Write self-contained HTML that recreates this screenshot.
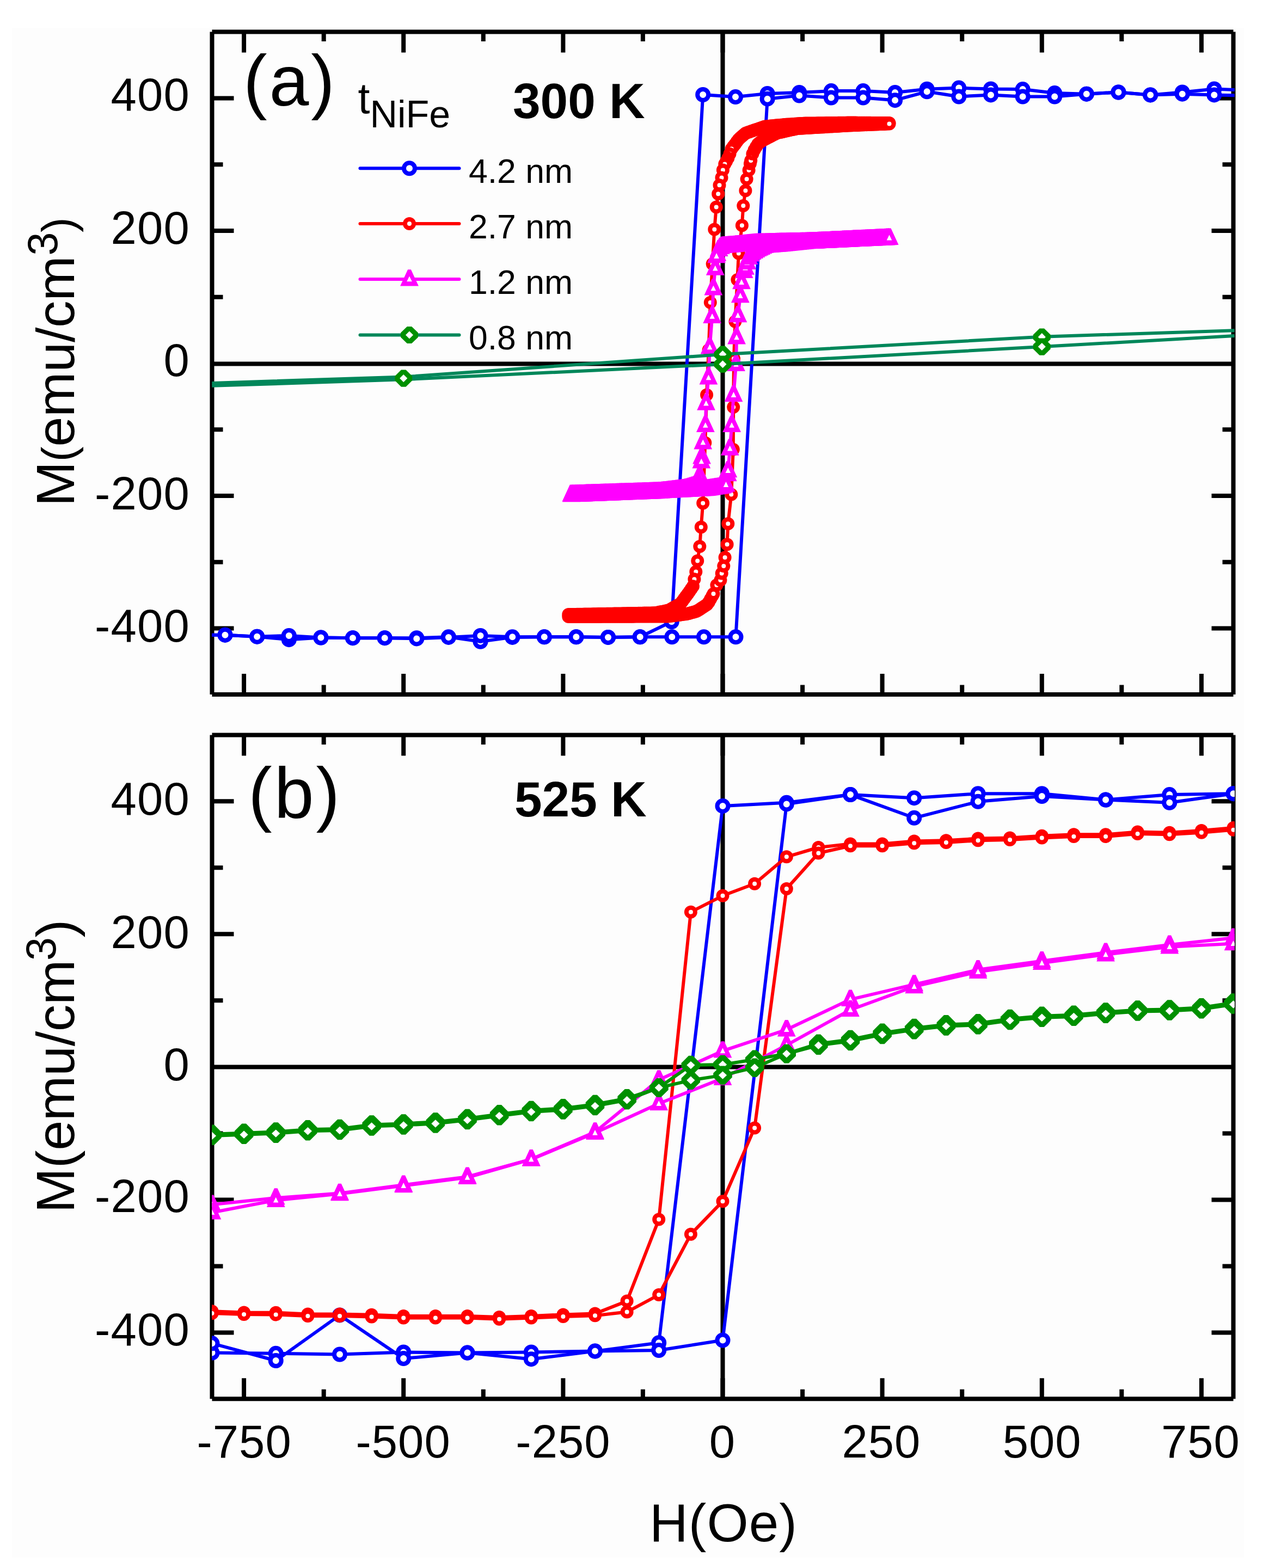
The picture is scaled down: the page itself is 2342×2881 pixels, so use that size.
<!DOCTYPE html><html><head><meta charset="utf-8"><style>
html,body{margin:0;padding:0;background:#fff;width:2342px;height:2881px;overflow:hidden;}
svg{display:block;}
text{font-family:"Liberation Sans",Arial,sans-serif;fill:#000;}
</style></head><body><svg width="2342" height="2881" viewBox="0 0 2342 2881"><rect x="22" y="51" width="2263" height="2811" fill="#fdfdfd"/>
<path d="M389.5,58.5H2265.5M2265.5,58.5V1276.1M2265.5,1276.1H389.5M389.5,1276.1V58.5" fill="none" stroke="#000" stroke-width="8" stroke-linecap="butt"/>
<line x1="389.5" y1="668.5" x2="2265.5" y2="668.5" stroke="#000" stroke-width="8"/>
<line x1="1327.5" y1="58.5" x2="1327.5" y2="1276.1" stroke="#000" stroke-width="8"/>
<path d="M448.1,58.5V96.5M448.1,1276.1V1238.1M594.7,58.5V76M594.7,1276.1V1258.6M741.2,58.5V96.5M741.2,1276.1V1238.1M887.8,58.5V76M887.8,1276.1V1258.6M1034.4,58.5V96.5M1034.4,1276.1V1238.1M1180.9,58.5V76M1180.9,1276.1V1258.6M1327.5,58.5V96.5M1327.5,1276.1V1238.1M1474.1,58.5V76M1474.1,1276.1V1258.6M1620.6,58.5V96.5M1620.6,1276.1V1238.1M1767.2,58.5V76M1767.2,1276.1V1258.6M1913.8,58.5V96.5M1913.8,1276.1V1238.1M2060.3,58.5V76M2060.3,1276.1V1258.6M2206.9,58.5V96.5M2206.9,1276.1V1238.1M389.5,1154.5H429.5M2265.5,1154.5H2225.5M389.5,1032.8H409.5M2265.5,1032.8H2245.5M389.5,911H429.5M2265.5,911H2225.5M389.5,789.2H409.5M2265.5,789.2H2245.5M389.5,545.8H409.5M2265.5,545.8H2245.5M389.5,424H429.5M2265.5,424H2225.5M389.5,302.2H409.5M2265.5,302.2H2245.5M389.5,180.5H429.5M2265.5,180.5H2225.5" stroke="#000" stroke-width="8" fill="none"/>
<clipPath id="ca"><rect x="389.3" y="56.2" width="1878.5" height="1222.2"/></clipPath>
<g clip-path="url(#ca)">
<polyline points="2288.9,165.9 2230.3,163.5 2171.7,169.5 2113.1,174.4 2054.4,169.5 1995.8,172.7 1937.2,171.1 1878.6,164.1 1820,163.5 1761.3,161.6 1702.7,163.7 1644.1,170 1585.5,167.1 1526.8,167.1 1468.2,170 1409.6,172 1351,178.1 1291.2,174 1233.7,1142.3 1175.7,1170.3 1117,1170.9 1058.4,1170.3 999.8,1170.3 941.2,1170.9 882.5,1178.8 823.9,1170.3 765.3,1172.2 706.7,1172.2 648,1172.2 589.4,1171.5 530.8,1175.2 472.2,1169.7 413.5,1166.7 354.9,1166.7" fill="none" stroke="#0000ff" stroke-width="6" stroke-linejoin="round"/>
<polyline points="354.9,1166.7 413.5,1166.7 472.2,1169.7 530.8,1167.9 589.4,1171.5 648,1172.2 706.7,1172.2 765.3,1173.4 823.9,1170.9 882.5,1167.9 941.2,1170.3 999.8,1170.3 1058.4,1170.3 1117,1170.9 1175.7,1170.3 1234.3,1170.3 1292.9,1170.3 1351.5,1170.3 1409.6,181.7 1468.2,175.6 1526.8,179.5 1585.5,179.5 1644.1,184.2 1702.7,168.3 1761.3,177.5 1820,174.4 1878.6,177.5 1937.2,177.5 1995.8,172.7 2054.4,169.5 2113.1,174.4 2171.7,172.7 2230.3,174.4 2288.9,175.6" fill="none" stroke="#0000ff" stroke-width="6" stroke-linejoin="round"/>
<circle cx="2288.9" cy="165.9" r="10" fill="#fff" stroke="#0000ff" stroke-width="8"/>
<circle cx="2230.3" cy="163.5" r="10" fill="#fff" stroke="#0000ff" stroke-width="8"/>
<circle cx="2171.7" cy="169.5" r="10" fill="#fff" stroke="#0000ff" stroke-width="8"/>
<circle cx="2113.1" cy="174.4" r="10" fill="#fff" stroke="#0000ff" stroke-width="8"/>
<circle cx="2054.4" cy="169.5" r="10" fill="#fff" stroke="#0000ff" stroke-width="8"/>
<circle cx="1995.8" cy="172.7" r="10" fill="#fff" stroke="#0000ff" stroke-width="8"/>
<circle cx="1937.2" cy="171.1" r="10" fill="#fff" stroke="#0000ff" stroke-width="8"/>
<circle cx="1878.6" cy="164.1" r="10" fill="#fff" stroke="#0000ff" stroke-width="8"/>
<circle cx="1820" cy="163.5" r="10" fill="#fff" stroke="#0000ff" stroke-width="8"/>
<circle cx="1761.3" cy="161.6" r="10" fill="#fff" stroke="#0000ff" stroke-width="8"/>
<circle cx="1702.7" cy="163.7" r="10" fill="#fff" stroke="#0000ff" stroke-width="8"/>
<circle cx="1644.1" cy="170" r="10" fill="#fff" stroke="#0000ff" stroke-width="8"/>
<circle cx="1585.5" cy="167.1" r="10" fill="#fff" stroke="#0000ff" stroke-width="8"/>
<circle cx="1526.8" cy="167.1" r="10" fill="#fff" stroke="#0000ff" stroke-width="8"/>
<circle cx="1468.2" cy="170" r="10" fill="#fff" stroke="#0000ff" stroke-width="8"/>
<circle cx="1409.6" cy="172" r="10" fill="#fff" stroke="#0000ff" stroke-width="8"/>
<circle cx="1351" cy="178.1" r="10" fill="#fff" stroke="#0000ff" stroke-width="8"/>
<circle cx="1291.2" cy="174" r="10" fill="#fff" stroke="#0000ff" stroke-width="8"/>
<circle cx="1233.7" cy="1142.3" r="10" fill="#fff" stroke="#0000ff" stroke-width="8"/>
<circle cx="1175.7" cy="1170.3" r="10" fill="#fff" stroke="#0000ff" stroke-width="8"/>
<circle cx="1117" cy="1170.9" r="10" fill="#fff" stroke="#0000ff" stroke-width="8"/>
<circle cx="1058.4" cy="1170.3" r="10" fill="#fff" stroke="#0000ff" stroke-width="8"/>
<circle cx="999.8" cy="1170.3" r="10" fill="#fff" stroke="#0000ff" stroke-width="8"/>
<circle cx="941.2" cy="1170.9" r="10" fill="#fff" stroke="#0000ff" stroke-width="8"/>
<circle cx="882.5" cy="1178.8" r="10" fill="#fff" stroke="#0000ff" stroke-width="8"/>
<circle cx="823.9" cy="1170.3" r="10" fill="#fff" stroke="#0000ff" stroke-width="8"/>
<circle cx="765.3" cy="1172.2" r="10" fill="#fff" stroke="#0000ff" stroke-width="8"/>
<circle cx="706.7" cy="1172.2" r="10" fill="#fff" stroke="#0000ff" stroke-width="8"/>
<circle cx="648" cy="1172.2" r="10" fill="#fff" stroke="#0000ff" stroke-width="8"/>
<circle cx="589.4" cy="1171.5" r="10" fill="#fff" stroke="#0000ff" stroke-width="8"/>
<circle cx="530.8" cy="1175.2" r="10" fill="#fff" stroke="#0000ff" stroke-width="8"/>
<circle cx="472.2" cy="1169.7" r="10" fill="#fff" stroke="#0000ff" stroke-width="8"/>
<circle cx="413.5" cy="1166.7" r="10" fill="#fff" stroke="#0000ff" stroke-width="8"/>
<circle cx="354.9" cy="1166.7" r="10" fill="#fff" stroke="#0000ff" stroke-width="8"/>
<circle cx="354.9" cy="1166.7" r="10" fill="#fff" stroke="#0000ff" stroke-width="8"/>
<circle cx="413.5" cy="1166.7" r="10" fill="#fff" stroke="#0000ff" stroke-width="8"/>
<circle cx="472.2" cy="1169.7" r="10" fill="#fff" stroke="#0000ff" stroke-width="8"/>
<circle cx="530.8" cy="1167.9" r="10" fill="#fff" stroke="#0000ff" stroke-width="8"/>
<circle cx="589.4" cy="1171.5" r="10" fill="#fff" stroke="#0000ff" stroke-width="8"/>
<circle cx="648" cy="1172.2" r="10" fill="#fff" stroke="#0000ff" stroke-width="8"/>
<circle cx="706.7" cy="1172.2" r="10" fill="#fff" stroke="#0000ff" stroke-width="8"/>
<circle cx="765.3" cy="1173.4" r="10" fill="#fff" stroke="#0000ff" stroke-width="8"/>
<circle cx="823.9" cy="1170.9" r="10" fill="#fff" stroke="#0000ff" stroke-width="8"/>
<circle cx="882.5" cy="1167.9" r="10" fill="#fff" stroke="#0000ff" stroke-width="8"/>
<circle cx="941.2" cy="1170.3" r="10" fill="#fff" stroke="#0000ff" stroke-width="8"/>
<circle cx="999.8" cy="1170.3" r="10" fill="#fff" stroke="#0000ff" stroke-width="8"/>
<circle cx="1058.4" cy="1170.3" r="10" fill="#fff" stroke="#0000ff" stroke-width="8"/>
<circle cx="1117" cy="1170.9" r="10" fill="#fff" stroke="#0000ff" stroke-width="8"/>
<circle cx="1175.7" cy="1170.3" r="10" fill="#fff" stroke="#0000ff" stroke-width="8"/>
<circle cx="1234.3" cy="1170.3" r="10" fill="#fff" stroke="#0000ff" stroke-width="8"/>
<circle cx="1292.9" cy="1170.3" r="10" fill="#fff" stroke="#0000ff" stroke-width="8"/>
<circle cx="1351.5" cy="1170.3" r="10" fill="#fff" stroke="#0000ff" stroke-width="8"/>
<circle cx="1409.6" cy="181.7" r="10" fill="#fff" stroke="#0000ff" stroke-width="8"/>
<circle cx="1468.2" cy="175.6" r="10" fill="#fff" stroke="#0000ff" stroke-width="8"/>
<circle cx="1526.8" cy="179.5" r="10" fill="#fff" stroke="#0000ff" stroke-width="8"/>
<circle cx="1585.5" cy="179.5" r="10" fill="#fff" stroke="#0000ff" stroke-width="8"/>
<circle cx="1644.1" cy="184.2" r="10" fill="#fff" stroke="#0000ff" stroke-width="8"/>
<circle cx="1702.7" cy="168.3" r="10" fill="#fff" stroke="#0000ff" stroke-width="8"/>
<circle cx="1761.3" cy="177.5" r="10" fill="#fff" stroke="#0000ff" stroke-width="8"/>
<circle cx="1820" cy="174.4" r="10" fill="#fff" stroke="#0000ff" stroke-width="8"/>
<circle cx="1878.6" cy="177.5" r="10" fill="#fff" stroke="#0000ff" stroke-width="8"/>
<circle cx="1937.2" cy="177.5" r="10" fill="#fff" stroke="#0000ff" stroke-width="8"/>
<circle cx="1995.8" cy="172.7" r="10" fill="#fff" stroke="#0000ff" stroke-width="8"/>
<circle cx="2054.4" cy="169.5" r="10" fill="#fff" stroke="#0000ff" stroke-width="8"/>
<circle cx="2113.1" cy="174.4" r="10" fill="#fff" stroke="#0000ff" stroke-width="8"/>
<circle cx="2171.7" cy="172.7" r="10" fill="#fff" stroke="#0000ff" stroke-width="8"/>
<circle cx="2230.3" cy="174.4" r="10" fill="#fff" stroke="#0000ff" stroke-width="8"/>
<circle cx="2288.9" cy="175.6" r="10" fill="#fff" stroke="#0000ff" stroke-width="8"/>
<polyline points="1633.5,226.1 1630.3,226.1 1627.1,226.1 1623.9,226.1 1620.6,226 1617.4,226 1614.2,226 1611,226 1607.8,225.9 1604.5,225.9 1601.3,225.9 1598.1,225.8 1594.9,225.8 1591.7,225.8 1588.4,225.8 1585.2,225.7 1582,225.7 1578.8,225.7 1575.6,225.7 1572.4,225.6 1569.1,225.6 1565.9,225.6 1562.7,225.6 1559.5,225.6 1556.3,225.6 1553,225.7 1549.8,225.7 1546.6,225.7 1543.4,225.8 1540.2,225.8 1536.9,225.9 1533.7,225.9 1530.5,225.9 1527.3,226 1524.1,226 1520.8,226.1 1517.6,226.1 1514.4,226.2 1511.2,226.2 1508,226.2 1504.7,226.3 1501.5,226.3 1498.3,226.4 1495.1,226.4 1491.9,226.4 1488.6,226.5 1485.4,226.5 1482.2,226.6 1479,226.6 1475.8,226.7 1472.5,226.9 1469.3,227.1 1466.1,227.3 1462.9,227.5 1459.7,227.7 1456.4,227.9 1453.2,228.2 1450,228.4 1446.8,228.6 1443.6,228.8 1440.3,229 1437.1,229.4 1433.9,229.7 1430.7,230 1427.5,230.3 1424.3,230.6 1421,230.9 1417.8,231.2 1414.6,231.5 1411.4,231.9 1408.2,232.2 1404.9,232.5 1401.7,233.6 1398.5,234.7 1395.3,235.8 1392.1,236.9 1388.8,238 1385.6,239.1 1382.4,240.2 1379.2,241.3 1376,242.4 1372.7,243.5 1369.5,244.7 1366.3,247.5 1363.1,250.3 1359.9,253.1 1356.6,256.3 1353.4,260.6 1350.2,264.9 1347,269.1 1343.8,273.4 1340.5,282.8 1337.3,290.4 1334.1,296.4 1331.3,301.6 1327.9,312.5 1325.5,326.4 1321.5,340.2 1319.2,356.3 1315.7,380.5 1312.3,421.4 1308.7,484.9 1304.8,555.7 1301.7,643.1 1298.1,725.5 1295.3,813.6 1291.2,924.6 1287.8,968.5 1285.3,1004.1 1281.2,1030.4 1278.3,1050.4 1275.4,1064.3 1272.9,1077.3 1269.7,1082 1266.5,1086.7 1263.3,1091.3 1260.1,1095.6 1256.8,1100 1253.6,1104.4 1250.4,1108.7 1247.2,1110.7 1244,1112.5 1240.7,1114.3 1237.5,1116.1 1234.3,1117.9 1231.1,1119.7 1227.9,1121.5 1224.6,1122.1 1221.4,1122.8 1218.2,1123.4 1215,1124 1211.8,1124.6 1208.5,1125.3 1205.3,1125.9 1202.1,1126.3 1198.9,1126.3 1195.7,1126.4 1192.4,1126.5 1189.2,1126.5 1186,1126.6 1182.8,1126.6 1179.6,1126.7 1176.3,1126.7 1173.1,1126.8 1169.9,1126.9 1166.7,1126.9 1163.5,1127 1160.2,1127 1157,1127.1 1153.8,1127.1 1150.6,1127.2 1147.4,1127.3 1144.1,1127.3 1140.9,1127.4 1137.7,1127.4 1134.5,1127.5 1131.3,1127.6 1128.1,1127.6 1124.8,1127.7 1121.6,1127.7 1118.4,1127.8 1115.2,1127.8 1112,1127.9 1108.7,1128 1105.5,1128 1102.3,1128.1 1099.1,1128.1 1095.9,1128.2 1092.6,1128.2 1089.4,1128.3 1086.2,1128.4 1083,1128.4 1079.8,1128.5 1076.5,1128.5 1073.3,1128.6 1070.1,1128.7 1066.9,1128.7 1063.7,1128.8 1060.4,1128.8 1057.2,1128.9 1054,1128.9 1050.8,1129 1047.6,1129.1 1044.3,1129.1" fill="none" stroke="#ff0000" stroke-width="6" stroke-linejoin="round"/>
<polyline points="1044.3,1133 1047.6,1133 1050.8,1133 1054,1133 1057.2,1133 1060.4,1133 1063.7,1133 1066.9,1133 1070.1,1133 1073.3,1132.9 1076.5,1132.9 1079.8,1132.9 1083,1132.9 1086.2,1132.9 1089.4,1132.9 1092.6,1132.9 1095.9,1132.9 1099.1,1132.9 1102.3,1132.9 1105.5,1132.8 1108.7,1132.8 1112,1132.8 1115.2,1132.8 1118.4,1132.8 1121.6,1132.8 1124.8,1132.8 1128.1,1132.8 1131.3,1132.8 1134.5,1132.8 1137.7,1132.7 1140.9,1132.7 1144.1,1132.7 1147.4,1132.7 1150.6,1132.7 1153.8,1132.7 1157,1132.7 1160.2,1132.7 1163.5,1132.7 1166.7,1132.6 1169.9,1132.6 1173.1,1132.6 1176.3,1132.6 1179.6,1132.6 1182.8,1132.6 1186,1132.6 1189.2,1132.6 1192.4,1132.6 1195.7,1132.6 1198.9,1132.6 1202.1,1132.6 1205.3,1132.6 1208.5,1132.6 1211.8,1132.6 1215,1132.6 1218.2,1132.6 1221.4,1132.6 1224.6,1132.6 1227.9,1132.4 1231.1,1132 1234.3,1131.6 1237.5,1131.2 1240.7,1130.7 1244,1130.3 1247.2,1129.9 1250.4,1129.5 1253.6,1129 1256.8,1128.6 1260.1,1128.2 1263.3,1127.6 1266.5,1126.7 1269.7,1125.8 1272.9,1124.9 1276.2,1124 1279.4,1123.1 1282.6,1121.3 1285.8,1119.2 1289,1117.1 1292.2,1114.9 1295.5,1112.8 1298.7,1110.7 1301.9,1106.6 1305.1,1100.7 1308.3,1094.9 1310.5,1090.9 1316.4,1075.1 1323.4,1065.9 1325.7,1053.6 1329.3,1040.1 1331.6,1024.2 1335.6,1000.2 1337.3,962.3 1343.3,908.6 1346.8,825.8 1347.2,747.9 1348,659 1350.4,590.8 1354.4,514.1 1356.8,465.4 1362.9,414.3 1365.3,377.9 1369.4,350.3 1371.6,328.9 1375.6,312.8 1377.9,300.7 1379.2,294.9 1382.4,282.8 1385.6,275.5 1388.8,270 1392.1,264.7 1395.3,261.9 1398.5,259.6 1401.7,257.6 1404.9,255.9 1408.2,254.3 1411.4,252.6 1414.6,250.9 1417.8,249.2 1421,247.6 1424.3,245.9 1427.5,244.3 1430.7,243.6 1433.9,242.9 1437.1,242.2 1440.3,241.5 1443.6,240.8 1446.8,240 1450,239.3 1453.2,238.6 1456.4,237.9 1459.7,237.2 1462.9,236.5 1466.1,236 1469.3,235.8 1472.5,235.7 1475.8,235.5 1479,235.3 1482.2,235.1 1485.4,234.9 1488.6,234.7 1491.9,234.5 1495.1,234.3 1498.3,234.1 1501.5,234 1504.7,233.8 1508,233.6 1511.2,233.4 1514.4,233.2 1517.6,233 1520.8,232.8 1524.1,232.6 1527.3,232.5 1530.5,232.3 1533.7,232.1 1536.9,231.9 1540.2,231.7 1543.4,231.5 1546.6,231.3 1549.8,231.1 1553,230.9 1556.3,230.8 1559.5,230.6 1562.7,230.4 1565.9,230.3 1569.1,230.1 1572.4,230 1575.6,229.9 1578.8,229.7 1582,229.6 1585.2,229.5 1588.4,229.3 1591.7,229.2 1594.9,229.1 1598.1,228.9 1601.3,228.8 1604.5,228.7 1607.8,228.5 1611,228.4 1614.2,228.3 1617.4,228.1 1620.6,228 1623.9,227.9 1627.1,227.7 1630.3,227.6 1633.5,227.5" fill="none" stroke="#ff0000" stroke-width="6" stroke-linejoin="round"/>
<circle cx="1633.5" cy="226.1" r="8" fill="#fff" stroke="#ff0000" stroke-width="8"/>
<circle cx="1630.3" cy="226.1" r="8" fill="#fff" stroke="#ff0000" stroke-width="8"/>
<circle cx="1627.1" cy="226.1" r="8" fill="#fff" stroke="#ff0000" stroke-width="8"/>
<circle cx="1623.9" cy="226.1" r="8" fill="#fff" stroke="#ff0000" stroke-width="8"/>
<circle cx="1620.6" cy="226" r="8" fill="#fff" stroke="#ff0000" stroke-width="8"/>
<circle cx="1617.4" cy="226" r="8" fill="#fff" stroke="#ff0000" stroke-width="8"/>
<circle cx="1614.2" cy="226" r="8" fill="#fff" stroke="#ff0000" stroke-width="8"/>
<circle cx="1611" cy="226" r="8" fill="#fff" stroke="#ff0000" stroke-width="8"/>
<circle cx="1607.8" cy="225.9" r="8" fill="#fff" stroke="#ff0000" stroke-width="8"/>
<circle cx="1604.5" cy="225.9" r="8" fill="#fff" stroke="#ff0000" stroke-width="8"/>
<circle cx="1601.3" cy="225.9" r="8" fill="#fff" stroke="#ff0000" stroke-width="8"/>
<circle cx="1598.1" cy="225.8" r="8" fill="#fff" stroke="#ff0000" stroke-width="8"/>
<circle cx="1594.9" cy="225.8" r="8" fill="#fff" stroke="#ff0000" stroke-width="8"/>
<circle cx="1591.7" cy="225.8" r="8" fill="#fff" stroke="#ff0000" stroke-width="8"/>
<circle cx="1588.4" cy="225.8" r="8" fill="#fff" stroke="#ff0000" stroke-width="8"/>
<circle cx="1585.2" cy="225.7" r="8" fill="#fff" stroke="#ff0000" stroke-width="8"/>
<circle cx="1582" cy="225.7" r="8" fill="#fff" stroke="#ff0000" stroke-width="8"/>
<circle cx="1578.8" cy="225.7" r="8" fill="#fff" stroke="#ff0000" stroke-width="8"/>
<circle cx="1575.6" cy="225.7" r="8" fill="#fff" stroke="#ff0000" stroke-width="8"/>
<circle cx="1572.4" cy="225.6" r="8" fill="#fff" stroke="#ff0000" stroke-width="8"/>
<circle cx="1569.1" cy="225.6" r="8" fill="#fff" stroke="#ff0000" stroke-width="8"/>
<circle cx="1565.9" cy="225.6" r="8" fill="#fff" stroke="#ff0000" stroke-width="8"/>
<circle cx="1562.7" cy="225.6" r="8" fill="#fff" stroke="#ff0000" stroke-width="8"/>
<circle cx="1559.5" cy="225.6" r="8" fill="#fff" stroke="#ff0000" stroke-width="8"/>
<circle cx="1556.3" cy="225.6" r="8" fill="#fff" stroke="#ff0000" stroke-width="8"/>
<circle cx="1553" cy="225.7" r="8" fill="#fff" stroke="#ff0000" stroke-width="8"/>
<circle cx="1549.8" cy="225.7" r="8" fill="#fff" stroke="#ff0000" stroke-width="8"/>
<circle cx="1546.6" cy="225.7" r="8" fill="#fff" stroke="#ff0000" stroke-width="8"/>
<circle cx="1543.4" cy="225.8" r="8" fill="#fff" stroke="#ff0000" stroke-width="8"/>
<circle cx="1540.2" cy="225.8" r="8" fill="#fff" stroke="#ff0000" stroke-width="8"/>
<circle cx="1536.9" cy="225.9" r="8" fill="#fff" stroke="#ff0000" stroke-width="8"/>
<circle cx="1533.7" cy="225.9" r="8" fill="#fff" stroke="#ff0000" stroke-width="8"/>
<circle cx="1530.5" cy="225.9" r="8" fill="#fff" stroke="#ff0000" stroke-width="8"/>
<circle cx="1527.3" cy="226" r="8" fill="#fff" stroke="#ff0000" stroke-width="8"/>
<circle cx="1524.1" cy="226" r="8" fill="#fff" stroke="#ff0000" stroke-width="8"/>
<circle cx="1520.8" cy="226.1" r="8" fill="#fff" stroke="#ff0000" stroke-width="8"/>
<circle cx="1517.6" cy="226.1" r="8" fill="#fff" stroke="#ff0000" stroke-width="8"/>
<circle cx="1514.4" cy="226.2" r="8" fill="#fff" stroke="#ff0000" stroke-width="8"/>
<circle cx="1511.2" cy="226.2" r="8" fill="#fff" stroke="#ff0000" stroke-width="8"/>
<circle cx="1508" cy="226.2" r="8" fill="#fff" stroke="#ff0000" stroke-width="8"/>
<circle cx="1504.7" cy="226.3" r="8" fill="#fff" stroke="#ff0000" stroke-width="8"/>
<circle cx="1501.5" cy="226.3" r="8" fill="#fff" stroke="#ff0000" stroke-width="8"/>
<circle cx="1498.3" cy="226.4" r="8" fill="#fff" stroke="#ff0000" stroke-width="8"/>
<circle cx="1495.1" cy="226.4" r="8" fill="#fff" stroke="#ff0000" stroke-width="8"/>
<circle cx="1491.9" cy="226.4" r="8" fill="#fff" stroke="#ff0000" stroke-width="8"/>
<circle cx="1488.6" cy="226.5" r="8" fill="#fff" stroke="#ff0000" stroke-width="8"/>
<circle cx="1485.4" cy="226.5" r="8" fill="#fff" stroke="#ff0000" stroke-width="8"/>
<circle cx="1482.2" cy="226.6" r="8" fill="#fff" stroke="#ff0000" stroke-width="8"/>
<circle cx="1479" cy="226.6" r="8" fill="#fff" stroke="#ff0000" stroke-width="8"/>
<circle cx="1475.8" cy="226.7" r="8" fill="#fff" stroke="#ff0000" stroke-width="8"/>
<circle cx="1472.5" cy="226.9" r="8" fill="#fff" stroke="#ff0000" stroke-width="8"/>
<circle cx="1469.3" cy="227.1" r="8" fill="#fff" stroke="#ff0000" stroke-width="8"/>
<circle cx="1466.1" cy="227.3" r="8" fill="#fff" stroke="#ff0000" stroke-width="8"/>
<circle cx="1462.9" cy="227.5" r="8" fill="#fff" stroke="#ff0000" stroke-width="8"/>
<circle cx="1459.7" cy="227.7" r="8" fill="#fff" stroke="#ff0000" stroke-width="8"/>
<circle cx="1456.4" cy="227.9" r="8" fill="#fff" stroke="#ff0000" stroke-width="8"/>
<circle cx="1453.2" cy="228.2" r="8" fill="#fff" stroke="#ff0000" stroke-width="8"/>
<circle cx="1450" cy="228.4" r="8" fill="#fff" stroke="#ff0000" stroke-width="8"/>
<circle cx="1446.8" cy="228.6" r="8" fill="#fff" stroke="#ff0000" stroke-width="8"/>
<circle cx="1443.6" cy="228.8" r="8" fill="#fff" stroke="#ff0000" stroke-width="8"/>
<circle cx="1440.3" cy="229" r="8" fill="#fff" stroke="#ff0000" stroke-width="8"/>
<circle cx="1437.1" cy="229.4" r="8" fill="#fff" stroke="#ff0000" stroke-width="8"/>
<circle cx="1433.9" cy="229.7" r="8" fill="#fff" stroke="#ff0000" stroke-width="8"/>
<circle cx="1430.7" cy="230" r="8" fill="#fff" stroke="#ff0000" stroke-width="8"/>
<circle cx="1427.5" cy="230.3" r="8" fill="#fff" stroke="#ff0000" stroke-width="8"/>
<circle cx="1424.3" cy="230.6" r="8" fill="#fff" stroke="#ff0000" stroke-width="8"/>
<circle cx="1421" cy="230.9" r="8" fill="#fff" stroke="#ff0000" stroke-width="8"/>
<circle cx="1417.8" cy="231.2" r="8" fill="#fff" stroke="#ff0000" stroke-width="8"/>
<circle cx="1414.6" cy="231.5" r="8" fill="#fff" stroke="#ff0000" stroke-width="8"/>
<circle cx="1411.4" cy="231.9" r="8" fill="#fff" stroke="#ff0000" stroke-width="8"/>
<circle cx="1408.2" cy="232.2" r="8" fill="#fff" stroke="#ff0000" stroke-width="8"/>
<circle cx="1404.9" cy="232.5" r="8" fill="#fff" stroke="#ff0000" stroke-width="8"/>
<circle cx="1401.7" cy="233.6" r="8" fill="#fff" stroke="#ff0000" stroke-width="8"/>
<circle cx="1398.5" cy="234.7" r="8" fill="#fff" stroke="#ff0000" stroke-width="8"/>
<circle cx="1395.3" cy="235.8" r="8" fill="#fff" stroke="#ff0000" stroke-width="8"/>
<circle cx="1392.1" cy="236.9" r="8" fill="#fff" stroke="#ff0000" stroke-width="8"/>
<circle cx="1388.8" cy="238" r="8" fill="#fff" stroke="#ff0000" stroke-width="8"/>
<circle cx="1385.6" cy="239.1" r="8" fill="#fff" stroke="#ff0000" stroke-width="8"/>
<circle cx="1382.4" cy="240.2" r="8" fill="#fff" stroke="#ff0000" stroke-width="8"/>
<circle cx="1379.2" cy="241.3" r="8" fill="#fff" stroke="#ff0000" stroke-width="8"/>
<circle cx="1376" cy="242.4" r="8" fill="#fff" stroke="#ff0000" stroke-width="8"/>
<circle cx="1372.7" cy="243.5" r="8" fill="#fff" stroke="#ff0000" stroke-width="8"/>
<circle cx="1369.5" cy="244.7" r="8" fill="#fff" stroke="#ff0000" stroke-width="8"/>
<circle cx="1366.3" cy="247.5" r="8" fill="#fff" stroke="#ff0000" stroke-width="8"/>
<circle cx="1363.1" cy="250.3" r="8" fill="#fff" stroke="#ff0000" stroke-width="8"/>
<circle cx="1359.9" cy="253.1" r="8" fill="#fff" stroke="#ff0000" stroke-width="8"/>
<circle cx="1356.6" cy="256.3" r="8" fill="#fff" stroke="#ff0000" stroke-width="8"/>
<circle cx="1353.4" cy="260.6" r="8" fill="#fff" stroke="#ff0000" stroke-width="8"/>
<circle cx="1350.2" cy="264.9" r="8" fill="#fff" stroke="#ff0000" stroke-width="8"/>
<circle cx="1347" cy="269.1" r="8" fill="#fff" stroke="#ff0000" stroke-width="8"/>
<circle cx="1343.8" cy="273.4" r="8" fill="#fff" stroke="#ff0000" stroke-width="8"/>
<circle cx="1340.5" cy="282.8" r="8" fill="#fff" stroke="#ff0000" stroke-width="8"/>
<circle cx="1337.3" cy="290.4" r="8" fill="#fff" stroke="#ff0000" stroke-width="8"/>
<circle cx="1334.1" cy="296.4" r="8" fill="#fff" stroke="#ff0000" stroke-width="8"/>
<circle cx="1331.3" cy="301.6" r="8" fill="#fff" stroke="#ff0000" stroke-width="8"/>
<circle cx="1327.9" cy="312.5" r="8" fill="#fff" stroke="#ff0000" stroke-width="8"/>
<circle cx="1325.5" cy="326.4" r="8" fill="#fff" stroke="#ff0000" stroke-width="8"/>
<circle cx="1321.5" cy="340.2" r="8" fill="#fff" stroke="#ff0000" stroke-width="8"/>
<circle cx="1319.2" cy="356.3" r="8" fill="#fff" stroke="#ff0000" stroke-width="8"/>
<circle cx="1315.7" cy="380.5" r="8" fill="#fff" stroke="#ff0000" stroke-width="8"/>
<circle cx="1312.3" cy="421.4" r="8" fill="#fff" stroke="#ff0000" stroke-width="8"/>
<circle cx="1308.7" cy="484.9" r="8" fill="#fff" stroke="#ff0000" stroke-width="8"/>
<circle cx="1304.8" cy="555.7" r="8" fill="#fff" stroke="#ff0000" stroke-width="8"/>
<circle cx="1301.7" cy="643.1" r="8" fill="#fff" stroke="#ff0000" stroke-width="8"/>
<circle cx="1298.1" cy="725.5" r="8" fill="#fff" stroke="#ff0000" stroke-width="8"/>
<circle cx="1295.3" cy="813.6" r="8" fill="#fff" stroke="#ff0000" stroke-width="8"/>
<circle cx="1291.2" cy="924.6" r="8" fill="#fff" stroke="#ff0000" stroke-width="8"/>
<circle cx="1287.8" cy="968.5" r="8" fill="#fff" stroke="#ff0000" stroke-width="8"/>
<circle cx="1285.3" cy="1004.1" r="8" fill="#fff" stroke="#ff0000" stroke-width="8"/>
<circle cx="1281.2" cy="1030.4" r="8" fill="#fff" stroke="#ff0000" stroke-width="8"/>
<circle cx="1278.3" cy="1050.4" r="8" fill="#fff" stroke="#ff0000" stroke-width="8"/>
<circle cx="1275.4" cy="1064.3" r="8" fill="#fff" stroke="#ff0000" stroke-width="8"/>
<circle cx="1272.9" cy="1077.3" r="8" fill="#fff" stroke="#ff0000" stroke-width="8"/>
<circle cx="1269.7" cy="1082" r="8" fill="#fff" stroke="#ff0000" stroke-width="8"/>
<circle cx="1266.5" cy="1086.7" r="8" fill="#fff" stroke="#ff0000" stroke-width="8"/>
<circle cx="1263.3" cy="1091.3" r="8" fill="#fff" stroke="#ff0000" stroke-width="8"/>
<circle cx="1260.1" cy="1095.6" r="8" fill="#fff" stroke="#ff0000" stroke-width="8"/>
<circle cx="1256.8" cy="1100" r="8" fill="#fff" stroke="#ff0000" stroke-width="8"/>
<circle cx="1253.6" cy="1104.4" r="8" fill="#fff" stroke="#ff0000" stroke-width="8"/>
<circle cx="1250.4" cy="1108.7" r="8" fill="#fff" stroke="#ff0000" stroke-width="8"/>
<circle cx="1247.2" cy="1110.7" r="8" fill="#fff" stroke="#ff0000" stroke-width="8"/>
<circle cx="1244" cy="1112.5" r="8" fill="#fff" stroke="#ff0000" stroke-width="8"/>
<circle cx="1240.7" cy="1114.3" r="8" fill="#fff" stroke="#ff0000" stroke-width="8"/>
<circle cx="1237.5" cy="1116.1" r="8" fill="#fff" stroke="#ff0000" stroke-width="8"/>
<circle cx="1234.3" cy="1117.9" r="8" fill="#fff" stroke="#ff0000" stroke-width="8"/>
<circle cx="1231.1" cy="1119.7" r="8" fill="#fff" stroke="#ff0000" stroke-width="8"/>
<circle cx="1227.9" cy="1121.5" r="8" fill="#fff" stroke="#ff0000" stroke-width="8"/>
<circle cx="1224.6" cy="1122.1" r="8" fill="#fff" stroke="#ff0000" stroke-width="8"/>
<circle cx="1221.4" cy="1122.8" r="8" fill="#fff" stroke="#ff0000" stroke-width="8"/>
<circle cx="1218.2" cy="1123.4" r="8" fill="#fff" stroke="#ff0000" stroke-width="8"/>
<circle cx="1215" cy="1124" r="8" fill="#fff" stroke="#ff0000" stroke-width="8"/>
<circle cx="1211.8" cy="1124.6" r="8" fill="#fff" stroke="#ff0000" stroke-width="8"/>
<circle cx="1208.5" cy="1125.3" r="8" fill="#fff" stroke="#ff0000" stroke-width="8"/>
<circle cx="1205.3" cy="1125.9" r="8" fill="#fff" stroke="#ff0000" stroke-width="8"/>
<circle cx="1202.1" cy="1126.3" r="8" fill="#fff" stroke="#ff0000" stroke-width="8"/>
<circle cx="1198.9" cy="1126.3" r="8" fill="#fff" stroke="#ff0000" stroke-width="8"/>
<circle cx="1195.7" cy="1126.4" r="8" fill="#fff" stroke="#ff0000" stroke-width="8"/>
<circle cx="1192.4" cy="1126.5" r="8" fill="#fff" stroke="#ff0000" stroke-width="8"/>
<circle cx="1189.2" cy="1126.5" r="8" fill="#fff" stroke="#ff0000" stroke-width="8"/>
<circle cx="1186" cy="1126.6" r="8" fill="#fff" stroke="#ff0000" stroke-width="8"/>
<circle cx="1182.8" cy="1126.6" r="8" fill="#fff" stroke="#ff0000" stroke-width="8"/>
<circle cx="1179.6" cy="1126.7" r="8" fill="#fff" stroke="#ff0000" stroke-width="8"/>
<circle cx="1176.3" cy="1126.7" r="8" fill="#fff" stroke="#ff0000" stroke-width="8"/>
<circle cx="1173.1" cy="1126.8" r="8" fill="#fff" stroke="#ff0000" stroke-width="8"/>
<circle cx="1169.9" cy="1126.9" r="8" fill="#fff" stroke="#ff0000" stroke-width="8"/>
<circle cx="1166.7" cy="1126.9" r="8" fill="#fff" stroke="#ff0000" stroke-width="8"/>
<circle cx="1163.5" cy="1127" r="8" fill="#fff" stroke="#ff0000" stroke-width="8"/>
<circle cx="1160.2" cy="1127" r="8" fill="#fff" stroke="#ff0000" stroke-width="8"/>
<circle cx="1157" cy="1127.1" r="8" fill="#fff" stroke="#ff0000" stroke-width="8"/>
<circle cx="1153.8" cy="1127.1" r="8" fill="#fff" stroke="#ff0000" stroke-width="8"/>
<circle cx="1150.6" cy="1127.2" r="8" fill="#fff" stroke="#ff0000" stroke-width="8"/>
<circle cx="1147.4" cy="1127.3" r="8" fill="#fff" stroke="#ff0000" stroke-width="8"/>
<circle cx="1144.1" cy="1127.3" r="8" fill="#fff" stroke="#ff0000" stroke-width="8"/>
<circle cx="1140.9" cy="1127.4" r="8" fill="#fff" stroke="#ff0000" stroke-width="8"/>
<circle cx="1137.7" cy="1127.4" r="8" fill="#fff" stroke="#ff0000" stroke-width="8"/>
<circle cx="1134.5" cy="1127.5" r="8" fill="#fff" stroke="#ff0000" stroke-width="8"/>
<circle cx="1131.3" cy="1127.6" r="8" fill="#fff" stroke="#ff0000" stroke-width="8"/>
<circle cx="1128.1" cy="1127.6" r="8" fill="#fff" stroke="#ff0000" stroke-width="8"/>
<circle cx="1124.8" cy="1127.7" r="8" fill="#fff" stroke="#ff0000" stroke-width="8"/>
<circle cx="1121.6" cy="1127.7" r="8" fill="#fff" stroke="#ff0000" stroke-width="8"/>
<circle cx="1118.4" cy="1127.8" r="8" fill="#fff" stroke="#ff0000" stroke-width="8"/>
<circle cx="1115.2" cy="1127.8" r="8" fill="#fff" stroke="#ff0000" stroke-width="8"/>
<circle cx="1112" cy="1127.9" r="8" fill="#fff" stroke="#ff0000" stroke-width="8"/>
<circle cx="1108.7" cy="1128" r="8" fill="#fff" stroke="#ff0000" stroke-width="8"/>
<circle cx="1105.5" cy="1128" r="8" fill="#fff" stroke="#ff0000" stroke-width="8"/>
<circle cx="1102.3" cy="1128.1" r="8" fill="#fff" stroke="#ff0000" stroke-width="8"/>
<circle cx="1099.1" cy="1128.1" r="8" fill="#fff" stroke="#ff0000" stroke-width="8"/>
<circle cx="1095.9" cy="1128.2" r="8" fill="#fff" stroke="#ff0000" stroke-width="8"/>
<circle cx="1092.6" cy="1128.2" r="8" fill="#fff" stroke="#ff0000" stroke-width="8"/>
<circle cx="1089.4" cy="1128.3" r="8" fill="#fff" stroke="#ff0000" stroke-width="8"/>
<circle cx="1086.2" cy="1128.4" r="8" fill="#fff" stroke="#ff0000" stroke-width="8"/>
<circle cx="1083" cy="1128.4" r="8" fill="#fff" stroke="#ff0000" stroke-width="8"/>
<circle cx="1079.8" cy="1128.5" r="8" fill="#fff" stroke="#ff0000" stroke-width="8"/>
<circle cx="1076.5" cy="1128.5" r="8" fill="#fff" stroke="#ff0000" stroke-width="8"/>
<circle cx="1073.3" cy="1128.6" r="8" fill="#fff" stroke="#ff0000" stroke-width="8"/>
<circle cx="1070.1" cy="1128.7" r="8" fill="#fff" stroke="#ff0000" stroke-width="8"/>
<circle cx="1066.9" cy="1128.7" r="8" fill="#fff" stroke="#ff0000" stroke-width="8"/>
<circle cx="1063.7" cy="1128.8" r="8" fill="#fff" stroke="#ff0000" stroke-width="8"/>
<circle cx="1060.4" cy="1128.8" r="8" fill="#fff" stroke="#ff0000" stroke-width="8"/>
<circle cx="1057.2" cy="1128.9" r="8" fill="#fff" stroke="#ff0000" stroke-width="8"/>
<circle cx="1054" cy="1128.9" r="8" fill="#fff" stroke="#ff0000" stroke-width="8"/>
<circle cx="1050.8" cy="1129" r="8" fill="#fff" stroke="#ff0000" stroke-width="8"/>
<circle cx="1047.6" cy="1129.1" r="8" fill="#fff" stroke="#ff0000" stroke-width="8"/>
<circle cx="1044.3" cy="1129.1" r="8" fill="#fff" stroke="#ff0000" stroke-width="8"/>
<circle cx="1044.3" cy="1133" r="8" fill="#fff" stroke="#ff0000" stroke-width="8"/>
<circle cx="1047.6" cy="1133" r="8" fill="#fff" stroke="#ff0000" stroke-width="8"/>
<circle cx="1050.8" cy="1133" r="8" fill="#fff" stroke="#ff0000" stroke-width="8"/>
<circle cx="1054" cy="1133" r="8" fill="#fff" stroke="#ff0000" stroke-width="8"/>
<circle cx="1057.2" cy="1133" r="8" fill="#fff" stroke="#ff0000" stroke-width="8"/>
<circle cx="1060.4" cy="1133" r="8" fill="#fff" stroke="#ff0000" stroke-width="8"/>
<circle cx="1063.7" cy="1133" r="8" fill="#fff" stroke="#ff0000" stroke-width="8"/>
<circle cx="1066.9" cy="1133" r="8" fill="#fff" stroke="#ff0000" stroke-width="8"/>
<circle cx="1070.1" cy="1133" r="8" fill="#fff" stroke="#ff0000" stroke-width="8"/>
<circle cx="1073.3" cy="1132.9" r="8" fill="#fff" stroke="#ff0000" stroke-width="8"/>
<circle cx="1076.5" cy="1132.9" r="8" fill="#fff" stroke="#ff0000" stroke-width="8"/>
<circle cx="1079.8" cy="1132.9" r="8" fill="#fff" stroke="#ff0000" stroke-width="8"/>
<circle cx="1083" cy="1132.9" r="8" fill="#fff" stroke="#ff0000" stroke-width="8"/>
<circle cx="1086.2" cy="1132.9" r="8" fill="#fff" stroke="#ff0000" stroke-width="8"/>
<circle cx="1089.4" cy="1132.9" r="8" fill="#fff" stroke="#ff0000" stroke-width="8"/>
<circle cx="1092.6" cy="1132.9" r="8" fill="#fff" stroke="#ff0000" stroke-width="8"/>
<circle cx="1095.9" cy="1132.9" r="8" fill="#fff" stroke="#ff0000" stroke-width="8"/>
<circle cx="1099.1" cy="1132.9" r="8" fill="#fff" stroke="#ff0000" stroke-width="8"/>
<circle cx="1102.3" cy="1132.9" r="8" fill="#fff" stroke="#ff0000" stroke-width="8"/>
<circle cx="1105.5" cy="1132.8" r="8" fill="#fff" stroke="#ff0000" stroke-width="8"/>
<circle cx="1108.7" cy="1132.8" r="8" fill="#fff" stroke="#ff0000" stroke-width="8"/>
<circle cx="1112" cy="1132.8" r="8" fill="#fff" stroke="#ff0000" stroke-width="8"/>
<circle cx="1115.2" cy="1132.8" r="8" fill="#fff" stroke="#ff0000" stroke-width="8"/>
<circle cx="1118.4" cy="1132.8" r="8" fill="#fff" stroke="#ff0000" stroke-width="8"/>
<circle cx="1121.6" cy="1132.8" r="8" fill="#fff" stroke="#ff0000" stroke-width="8"/>
<circle cx="1124.8" cy="1132.8" r="8" fill="#fff" stroke="#ff0000" stroke-width="8"/>
<circle cx="1128.1" cy="1132.8" r="8" fill="#fff" stroke="#ff0000" stroke-width="8"/>
<circle cx="1131.3" cy="1132.8" r="8" fill="#fff" stroke="#ff0000" stroke-width="8"/>
<circle cx="1134.5" cy="1132.8" r="8" fill="#fff" stroke="#ff0000" stroke-width="8"/>
<circle cx="1137.7" cy="1132.7" r="8" fill="#fff" stroke="#ff0000" stroke-width="8"/>
<circle cx="1140.9" cy="1132.7" r="8" fill="#fff" stroke="#ff0000" stroke-width="8"/>
<circle cx="1144.1" cy="1132.7" r="8" fill="#fff" stroke="#ff0000" stroke-width="8"/>
<circle cx="1147.4" cy="1132.7" r="8" fill="#fff" stroke="#ff0000" stroke-width="8"/>
<circle cx="1150.6" cy="1132.7" r="8" fill="#fff" stroke="#ff0000" stroke-width="8"/>
<circle cx="1153.8" cy="1132.7" r="8" fill="#fff" stroke="#ff0000" stroke-width="8"/>
<circle cx="1157" cy="1132.7" r="8" fill="#fff" stroke="#ff0000" stroke-width="8"/>
<circle cx="1160.2" cy="1132.7" r="8" fill="#fff" stroke="#ff0000" stroke-width="8"/>
<circle cx="1163.5" cy="1132.7" r="8" fill="#fff" stroke="#ff0000" stroke-width="8"/>
<circle cx="1166.7" cy="1132.6" r="8" fill="#fff" stroke="#ff0000" stroke-width="8"/>
<circle cx="1169.9" cy="1132.6" r="8" fill="#fff" stroke="#ff0000" stroke-width="8"/>
<circle cx="1173.1" cy="1132.6" r="8" fill="#fff" stroke="#ff0000" stroke-width="8"/>
<circle cx="1176.3" cy="1132.6" r="8" fill="#fff" stroke="#ff0000" stroke-width="8"/>
<circle cx="1179.6" cy="1132.6" r="8" fill="#fff" stroke="#ff0000" stroke-width="8"/>
<circle cx="1182.8" cy="1132.6" r="8" fill="#fff" stroke="#ff0000" stroke-width="8"/>
<circle cx="1186" cy="1132.6" r="8" fill="#fff" stroke="#ff0000" stroke-width="8"/>
<circle cx="1189.2" cy="1132.6" r="8" fill="#fff" stroke="#ff0000" stroke-width="8"/>
<circle cx="1192.4" cy="1132.6" r="8" fill="#fff" stroke="#ff0000" stroke-width="8"/>
<circle cx="1195.7" cy="1132.6" r="8" fill="#fff" stroke="#ff0000" stroke-width="8"/>
<circle cx="1198.9" cy="1132.6" r="8" fill="#fff" stroke="#ff0000" stroke-width="8"/>
<circle cx="1202.1" cy="1132.6" r="8" fill="#fff" stroke="#ff0000" stroke-width="8"/>
<circle cx="1205.3" cy="1132.6" r="8" fill="#fff" stroke="#ff0000" stroke-width="8"/>
<circle cx="1208.5" cy="1132.6" r="8" fill="#fff" stroke="#ff0000" stroke-width="8"/>
<circle cx="1211.8" cy="1132.6" r="8" fill="#fff" stroke="#ff0000" stroke-width="8"/>
<circle cx="1215" cy="1132.6" r="8" fill="#fff" stroke="#ff0000" stroke-width="8"/>
<circle cx="1218.2" cy="1132.6" r="8" fill="#fff" stroke="#ff0000" stroke-width="8"/>
<circle cx="1221.4" cy="1132.6" r="8" fill="#fff" stroke="#ff0000" stroke-width="8"/>
<circle cx="1224.6" cy="1132.6" r="8" fill="#fff" stroke="#ff0000" stroke-width="8"/>
<circle cx="1227.9" cy="1132.4" r="8" fill="#fff" stroke="#ff0000" stroke-width="8"/>
<circle cx="1231.1" cy="1132" r="8" fill="#fff" stroke="#ff0000" stroke-width="8"/>
<circle cx="1234.3" cy="1131.6" r="8" fill="#fff" stroke="#ff0000" stroke-width="8"/>
<circle cx="1237.5" cy="1131.2" r="8" fill="#fff" stroke="#ff0000" stroke-width="8"/>
<circle cx="1240.7" cy="1130.7" r="8" fill="#fff" stroke="#ff0000" stroke-width="8"/>
<circle cx="1244" cy="1130.3" r="8" fill="#fff" stroke="#ff0000" stroke-width="8"/>
<circle cx="1247.2" cy="1129.9" r="8" fill="#fff" stroke="#ff0000" stroke-width="8"/>
<circle cx="1250.4" cy="1129.5" r="8" fill="#fff" stroke="#ff0000" stroke-width="8"/>
<circle cx="1253.6" cy="1129" r="8" fill="#fff" stroke="#ff0000" stroke-width="8"/>
<circle cx="1256.8" cy="1128.6" r="8" fill="#fff" stroke="#ff0000" stroke-width="8"/>
<circle cx="1260.1" cy="1128.2" r="8" fill="#fff" stroke="#ff0000" stroke-width="8"/>
<circle cx="1263.3" cy="1127.6" r="8" fill="#fff" stroke="#ff0000" stroke-width="8"/>
<circle cx="1266.5" cy="1126.7" r="8" fill="#fff" stroke="#ff0000" stroke-width="8"/>
<circle cx="1269.7" cy="1125.8" r="8" fill="#fff" stroke="#ff0000" stroke-width="8"/>
<circle cx="1272.9" cy="1124.9" r="8" fill="#fff" stroke="#ff0000" stroke-width="8"/>
<circle cx="1276.2" cy="1124" r="8" fill="#fff" stroke="#ff0000" stroke-width="8"/>
<circle cx="1279.4" cy="1123.1" r="8" fill="#fff" stroke="#ff0000" stroke-width="8"/>
<circle cx="1282.6" cy="1121.3" r="8" fill="#fff" stroke="#ff0000" stroke-width="8"/>
<circle cx="1285.8" cy="1119.2" r="8" fill="#fff" stroke="#ff0000" stroke-width="8"/>
<circle cx="1289" cy="1117.1" r="8" fill="#fff" stroke="#ff0000" stroke-width="8"/>
<circle cx="1292.2" cy="1114.9" r="8" fill="#fff" stroke="#ff0000" stroke-width="8"/>
<circle cx="1295.5" cy="1112.8" r="8" fill="#fff" stroke="#ff0000" stroke-width="8"/>
<circle cx="1298.7" cy="1110.7" r="8" fill="#fff" stroke="#ff0000" stroke-width="8"/>
<circle cx="1301.9" cy="1106.6" r="8" fill="#fff" stroke="#ff0000" stroke-width="8"/>
<circle cx="1305.1" cy="1100.7" r="8" fill="#fff" stroke="#ff0000" stroke-width="8"/>
<circle cx="1308.3" cy="1094.9" r="8" fill="#fff" stroke="#ff0000" stroke-width="8"/>
<circle cx="1310.5" cy="1090.9" r="8" fill="#fff" stroke="#ff0000" stroke-width="8"/>
<circle cx="1316.4" cy="1075.1" r="8" fill="#fff" stroke="#ff0000" stroke-width="8"/>
<circle cx="1323.4" cy="1065.9" r="8" fill="#fff" stroke="#ff0000" stroke-width="8"/>
<circle cx="1325.7" cy="1053.6" r="8" fill="#fff" stroke="#ff0000" stroke-width="8"/>
<circle cx="1329.3" cy="1040.1" r="8" fill="#fff" stroke="#ff0000" stroke-width="8"/>
<circle cx="1331.6" cy="1024.2" r="8" fill="#fff" stroke="#ff0000" stroke-width="8"/>
<circle cx="1335.6" cy="1000.2" r="8" fill="#fff" stroke="#ff0000" stroke-width="8"/>
<circle cx="1337.3" cy="962.3" r="8" fill="#fff" stroke="#ff0000" stroke-width="8"/>
<circle cx="1343.3" cy="908.6" r="8" fill="#fff" stroke="#ff0000" stroke-width="8"/>
<circle cx="1346.8" cy="825.8" r="8" fill="#fff" stroke="#ff0000" stroke-width="8"/>
<circle cx="1347.2" cy="747.9" r="8" fill="#fff" stroke="#ff0000" stroke-width="8"/>
<circle cx="1348" cy="659" r="8" fill="#fff" stroke="#ff0000" stroke-width="8"/>
<circle cx="1350.4" cy="590.8" r="8" fill="#fff" stroke="#ff0000" stroke-width="8"/>
<circle cx="1354.4" cy="514.1" r="8" fill="#fff" stroke="#ff0000" stroke-width="8"/>
<circle cx="1356.8" cy="465.4" r="8" fill="#fff" stroke="#ff0000" stroke-width="8"/>
<circle cx="1362.9" cy="414.3" r="8" fill="#fff" stroke="#ff0000" stroke-width="8"/>
<circle cx="1365.3" cy="377.9" r="8" fill="#fff" stroke="#ff0000" stroke-width="8"/>
<circle cx="1369.4" cy="350.3" r="8" fill="#fff" stroke="#ff0000" stroke-width="8"/>
<circle cx="1371.6" cy="328.9" r="8" fill="#fff" stroke="#ff0000" stroke-width="8"/>
<circle cx="1375.6" cy="312.8" r="8" fill="#fff" stroke="#ff0000" stroke-width="8"/>
<circle cx="1377.9" cy="300.7" r="8" fill="#fff" stroke="#ff0000" stroke-width="8"/>
<circle cx="1379.2" cy="294.9" r="8" fill="#fff" stroke="#ff0000" stroke-width="8"/>
<circle cx="1382.4" cy="282.8" r="8" fill="#fff" stroke="#ff0000" stroke-width="8"/>
<circle cx="1385.6" cy="275.5" r="8" fill="#fff" stroke="#ff0000" stroke-width="8"/>
<circle cx="1388.8" cy="270" r="8" fill="#fff" stroke="#ff0000" stroke-width="8"/>
<circle cx="1392.1" cy="264.7" r="8" fill="#fff" stroke="#ff0000" stroke-width="8"/>
<circle cx="1395.3" cy="261.9" r="8" fill="#fff" stroke="#ff0000" stroke-width="8"/>
<circle cx="1398.5" cy="259.6" r="8" fill="#fff" stroke="#ff0000" stroke-width="8"/>
<circle cx="1401.7" cy="257.6" r="8" fill="#fff" stroke="#ff0000" stroke-width="8"/>
<circle cx="1404.9" cy="255.9" r="8" fill="#fff" stroke="#ff0000" stroke-width="8"/>
<circle cx="1408.2" cy="254.3" r="8" fill="#fff" stroke="#ff0000" stroke-width="8"/>
<circle cx="1411.4" cy="252.6" r="8" fill="#fff" stroke="#ff0000" stroke-width="8"/>
<circle cx="1414.6" cy="250.9" r="8" fill="#fff" stroke="#ff0000" stroke-width="8"/>
<circle cx="1417.8" cy="249.2" r="8" fill="#fff" stroke="#ff0000" stroke-width="8"/>
<circle cx="1421" cy="247.6" r="8" fill="#fff" stroke="#ff0000" stroke-width="8"/>
<circle cx="1424.3" cy="245.9" r="8" fill="#fff" stroke="#ff0000" stroke-width="8"/>
<circle cx="1427.5" cy="244.3" r="8" fill="#fff" stroke="#ff0000" stroke-width="8"/>
<circle cx="1430.7" cy="243.6" r="8" fill="#fff" stroke="#ff0000" stroke-width="8"/>
<circle cx="1433.9" cy="242.9" r="8" fill="#fff" stroke="#ff0000" stroke-width="8"/>
<circle cx="1437.1" cy="242.2" r="8" fill="#fff" stroke="#ff0000" stroke-width="8"/>
<circle cx="1440.3" cy="241.5" r="8" fill="#fff" stroke="#ff0000" stroke-width="8"/>
<circle cx="1443.6" cy="240.8" r="8" fill="#fff" stroke="#ff0000" stroke-width="8"/>
<circle cx="1446.8" cy="240" r="8" fill="#fff" stroke="#ff0000" stroke-width="8"/>
<circle cx="1450" cy="239.3" r="8" fill="#fff" stroke="#ff0000" stroke-width="8"/>
<circle cx="1453.2" cy="238.6" r="8" fill="#fff" stroke="#ff0000" stroke-width="8"/>
<circle cx="1456.4" cy="237.9" r="8" fill="#fff" stroke="#ff0000" stroke-width="8"/>
<circle cx="1459.7" cy="237.2" r="8" fill="#fff" stroke="#ff0000" stroke-width="8"/>
<circle cx="1462.9" cy="236.5" r="8" fill="#fff" stroke="#ff0000" stroke-width="8"/>
<circle cx="1466.1" cy="236" r="8" fill="#fff" stroke="#ff0000" stroke-width="8"/>
<circle cx="1469.3" cy="235.8" r="8" fill="#fff" stroke="#ff0000" stroke-width="8"/>
<circle cx="1472.5" cy="235.7" r="8" fill="#fff" stroke="#ff0000" stroke-width="8"/>
<circle cx="1475.8" cy="235.5" r="8" fill="#fff" stroke="#ff0000" stroke-width="8"/>
<circle cx="1479" cy="235.3" r="8" fill="#fff" stroke="#ff0000" stroke-width="8"/>
<circle cx="1482.2" cy="235.1" r="8" fill="#fff" stroke="#ff0000" stroke-width="8"/>
<circle cx="1485.4" cy="234.9" r="8" fill="#fff" stroke="#ff0000" stroke-width="8"/>
<circle cx="1488.6" cy="234.7" r="8" fill="#fff" stroke="#ff0000" stroke-width="8"/>
<circle cx="1491.9" cy="234.5" r="8" fill="#fff" stroke="#ff0000" stroke-width="8"/>
<circle cx="1495.1" cy="234.3" r="8" fill="#fff" stroke="#ff0000" stroke-width="8"/>
<circle cx="1498.3" cy="234.1" r="8" fill="#fff" stroke="#ff0000" stroke-width="8"/>
<circle cx="1501.5" cy="234" r="8" fill="#fff" stroke="#ff0000" stroke-width="8"/>
<circle cx="1504.7" cy="233.8" r="8" fill="#fff" stroke="#ff0000" stroke-width="8"/>
<circle cx="1508" cy="233.6" r="8" fill="#fff" stroke="#ff0000" stroke-width="8"/>
<circle cx="1511.2" cy="233.4" r="8" fill="#fff" stroke="#ff0000" stroke-width="8"/>
<circle cx="1514.4" cy="233.2" r="8" fill="#fff" stroke="#ff0000" stroke-width="8"/>
<circle cx="1517.6" cy="233" r="8" fill="#fff" stroke="#ff0000" stroke-width="8"/>
<circle cx="1520.8" cy="232.8" r="8" fill="#fff" stroke="#ff0000" stroke-width="8"/>
<circle cx="1524.1" cy="232.6" r="8" fill="#fff" stroke="#ff0000" stroke-width="8"/>
<circle cx="1527.3" cy="232.5" r="8" fill="#fff" stroke="#ff0000" stroke-width="8"/>
<circle cx="1530.5" cy="232.3" r="8" fill="#fff" stroke="#ff0000" stroke-width="8"/>
<circle cx="1533.7" cy="232.1" r="8" fill="#fff" stroke="#ff0000" stroke-width="8"/>
<circle cx="1536.9" cy="231.9" r="8" fill="#fff" stroke="#ff0000" stroke-width="8"/>
<circle cx="1540.2" cy="231.7" r="8" fill="#fff" stroke="#ff0000" stroke-width="8"/>
<circle cx="1543.4" cy="231.5" r="8" fill="#fff" stroke="#ff0000" stroke-width="8"/>
<circle cx="1546.6" cy="231.3" r="8" fill="#fff" stroke="#ff0000" stroke-width="8"/>
<circle cx="1549.8" cy="231.1" r="8" fill="#fff" stroke="#ff0000" stroke-width="8"/>
<circle cx="1553" cy="230.9" r="8" fill="#fff" stroke="#ff0000" stroke-width="8"/>
<circle cx="1556.3" cy="230.8" r="8" fill="#fff" stroke="#ff0000" stroke-width="8"/>
<circle cx="1559.5" cy="230.6" r="8" fill="#fff" stroke="#ff0000" stroke-width="8"/>
<circle cx="1562.7" cy="230.4" r="8" fill="#fff" stroke="#ff0000" stroke-width="8"/>
<circle cx="1565.9" cy="230.3" r="8" fill="#fff" stroke="#ff0000" stroke-width="8"/>
<circle cx="1569.1" cy="230.1" r="8" fill="#fff" stroke="#ff0000" stroke-width="8"/>
<circle cx="1572.4" cy="230" r="8" fill="#fff" stroke="#ff0000" stroke-width="8"/>
<circle cx="1575.6" cy="229.9" r="8" fill="#fff" stroke="#ff0000" stroke-width="8"/>
<circle cx="1578.8" cy="229.7" r="8" fill="#fff" stroke="#ff0000" stroke-width="8"/>
<circle cx="1582" cy="229.6" r="8" fill="#fff" stroke="#ff0000" stroke-width="8"/>
<circle cx="1585.2" cy="229.5" r="8" fill="#fff" stroke="#ff0000" stroke-width="8"/>
<circle cx="1588.4" cy="229.3" r="8" fill="#fff" stroke="#ff0000" stroke-width="8"/>
<circle cx="1591.7" cy="229.2" r="8" fill="#fff" stroke="#ff0000" stroke-width="8"/>
<circle cx="1594.9" cy="229.1" r="8" fill="#fff" stroke="#ff0000" stroke-width="8"/>
<circle cx="1598.1" cy="228.9" r="8" fill="#fff" stroke="#ff0000" stroke-width="8"/>
<circle cx="1601.3" cy="228.8" r="8" fill="#fff" stroke="#ff0000" stroke-width="8"/>
<circle cx="1604.5" cy="228.7" r="8" fill="#fff" stroke="#ff0000" stroke-width="8"/>
<circle cx="1607.8" cy="228.5" r="8" fill="#fff" stroke="#ff0000" stroke-width="8"/>
<circle cx="1611" cy="228.4" r="8" fill="#fff" stroke="#ff0000" stroke-width="8"/>
<circle cx="1614.2" cy="228.3" r="8" fill="#fff" stroke="#ff0000" stroke-width="8"/>
<circle cx="1617.4" cy="228.1" r="8" fill="#fff" stroke="#ff0000" stroke-width="8"/>
<circle cx="1620.6" cy="228" r="8" fill="#fff" stroke="#ff0000" stroke-width="8"/>
<circle cx="1623.9" cy="227.9" r="8" fill="#fff" stroke="#ff0000" stroke-width="8"/>
<circle cx="1627.1" cy="227.7" r="8" fill="#fff" stroke="#ff0000" stroke-width="8"/>
<circle cx="1630.3" cy="227.6" r="8" fill="#fff" stroke="#ff0000" stroke-width="8"/>
<circle cx="1633.5" cy="227.5" r="8" fill="#fff" stroke="#ff0000" stroke-width="8"/>
<polyline points="1633.5,437.5 1630.3,437.7 1627.1,437.8 1623.8,438 1620.6,438.1 1617.4,438.3 1614.2,438.4 1610.9,438.6 1607.7,438.7 1604.5,438.9 1601.3,439 1598,439.2 1594.8,439.3 1591.6,439.5 1588.4,439.6 1585.1,439.8 1581.9,439.9 1578.7,440.1 1575.5,440.2 1572.2,440.4 1569,440.5 1565.8,440.7 1562.6,440.8 1559.3,441 1556.1,441.1 1552.9,441.3 1549.6,441.4 1546.4,441.6 1543.2,441.7 1540,441.9 1536.7,442 1533.5,442.2 1530.3,442.3 1527.1,442.5 1523.8,442.6 1520.6,442.8 1517.4,442.9 1514.2,443.1 1510.9,443.2 1507.7,443.4 1504.5,443.5 1501.3,443.7 1498,443.8 1494.8,444 1491.6,444.1 1488.4,444.2 1485.1,444.3 1481.9,444.3 1478.7,444.4 1475.4,444.5 1472.2,444.5 1469,444.6 1465.8,444.6 1462.5,444.7 1459.3,444.7 1456.1,444.8 1452.9,444.8 1449.6,444.9 1446.4,445 1443.2,445.1 1440,445.2 1436.7,445.3 1433.5,445.3 1430.3,445.4 1427.1,445.5 1423.8,445.6 1420.6,445.7 1417.4,445.8 1414.2,445.8 1410.9,445.9 1407.7,446 1404.5,446.1 1401.3,446.2 1398,446.3 1394.8,446.3 1391.6,446.4 1388.3,446.5 1385.1,446.8 1381.9,447.1 1378.7,447.4 1375.4,447.8 1372.2,448.1 1369,448.4 1365.8,448.7 1362.5,449.1 1359.3,449.4 1356.1,449.7 1352.9,450 1349.6,450.4 1346.4,450.7 1343.2,451 1340,451.3 1336.7,451.5 1333.5,451.6 1330.3,451.8 1327.1,452.3 1323.8,454.3 1320.6,458.5 1317.4,467.2 1316.1,470.6 1313.8,493.2 1310.4,530 1308.2,581.5 1303.7,638 1301.5,693.9 1297,741.2 1295.8,781.5 1291.3,813 1289,840 1288.3,847.9 1285.1,874.3 1281.9,884.7 1278.7,890.8 1275.4,892.3 1272.2,893.3 1269,894.2 1265.8,895.1 1262.5,896.1 1259.3,897 1256.1,897.7 1252.9,898.1 1249.6,898.5 1246.4,898.9 1243.2,899.3 1240,899.6 1236.7,900 1233.5,900.4 1230.3,900.8 1227,901.2 1223.8,901.6 1220.6,901.9 1217.4,902.3 1214.1,902.7 1210.9,903.1 1207.7,903.5 1204.5,903.6 1201.2,903.7 1198,903.8 1194.8,904 1191.6,904.1 1188.3,904.2 1185.1,904.3 1181.9,904.5 1178.7,904.6 1175.4,904.7 1172.2,904.9 1169,905 1165.8,905.1 1162.5,905.2 1159.3,905.4 1156.1,905.5 1152.8,905.6 1149.6,905.7 1146.4,905.9 1143.2,906 1139.9,906.1 1136.7,906.2 1133.5,906.4 1130.3,906.5 1127,906.6 1123.8,906.8 1120.6,906.9 1117.4,907 1114.1,907.1 1110.9,907.3 1107.7,907.4 1104.5,907.5 1101.2,907.6 1098,907.8 1094.8,907.9 1091.6,908 1088.3,908.1 1085.1,908.3 1081.9,908.4 1078.7,908.5 1075.4,908.7 1072.2,908.8 1069,908.9 1065.7,909 1062.5,909.2 1059.3,909.3 1056.1,909.4 1052.8,909.5 1049.6,909.7" fill="none" stroke="#ff00ff" stroke-width="6" stroke-linejoin="round"/>
<polyline points="1049.6,908.3 1052.8,908.2 1056.1,908.1 1059.3,908 1062.5,907.9 1065.7,907.8 1069,907.7 1072.2,907.6 1075.4,907.5 1078.7,907.3 1081.9,907.2 1085.1,907.1 1088.3,907 1091.6,906.9 1094.8,906.8 1098,906.7 1101.2,906.6 1104.5,906.5 1107.7,906.4 1110.9,906.3 1114.1,906.2 1117.4,906.1 1120.6,906 1123.8,905.9 1127,905.8 1130.3,905.6 1133.5,905.5 1136.7,905.4 1139.9,905.3 1143.2,905.2 1146.4,905.1 1149.6,905 1152.8,904.9 1156.1,904.8 1159.3,904.7 1162.5,904.6 1165.8,904.5 1169,904.4 1172.2,904.3 1175.4,904.2 1178.7,904.1 1181.9,903.9 1185.1,903.8 1188.3,903.7 1191.6,903.6 1194.8,903.5 1198,903.4 1201.2,903.3 1204.5,903.2 1207.7,903.1 1210.9,902.9 1214.1,902.8 1217.4,902.6 1220.6,902.4 1223.8,902.3 1227,902.1 1230.3,901.9 1233.5,901.8 1236.7,901.6 1240,901.4 1243.2,901.3 1246.4,901.1 1249.6,900.9 1252.9,900.8 1256.1,900.6 1259.3,900.4 1262.5,900.3 1265.8,900.1 1269,899.9 1272.2,899.7 1275.4,899.6 1278.7,899.4 1281.9,899.2 1285.1,899.1 1288.3,898.9 1291.6,898.7 1294.8,898.6 1298,898.4 1301.2,898 1304.5,897.5 1307.7,897 1310.9,896.5 1314.1,896 1317.4,895.5 1320.6,895 1323.8,894.5 1327.1,894 1330.3,892.4 1333.5,890.6 1336.7,871.7 1337.3,864.7 1340.7,824.2 1344.1,781.5 1347.5,725.6 1352,669.4 1353.1,620 1355.4,579.6 1359.9,543.6 1362.1,518.6 1366.7,498.4 1369,492.2 1372.2,482.5 1375.4,473.4 1378.7,468 1381.9,464.4 1385.1,462.4 1388.3,460.4 1391.6,458.3 1394.8,456.8 1398,455.3 1401.3,453.7 1404.5,452.2 1407.7,451.7 1410.9,451.4 1414.2,451.2 1417.4,450.9 1420.6,450.6 1423.8,450.4 1427.1,450.1 1430.3,449.9 1433.5,449.6 1436.7,449.3 1440,448.9 1443.2,448.6 1446.4,448.3 1449.6,447.9 1452.9,447.6 1456.1,447.3 1459.3,446.9 1462.5,446.6 1465.8,446.3 1469,445.9 1472.2,445.6 1475.4,445.3 1478.7,444.9 1481.9,444.7 1485.1,444.5 1488.4,444.3 1491.6,444.2 1494.8,444 1498,443.9 1501.3,443.7 1504.5,443.5 1507.7,443.4 1510.9,443.2 1514.2,443.1 1517.4,442.9 1520.6,442.7 1523.8,442.6 1527.1,442.4 1530.3,442.3 1533.5,442.1 1536.7,441.9 1540,441.8 1543.2,441.6 1546.4,441.5 1549.6,441.3 1552.9,441.1 1556.1,441 1559.3,440.8 1562.6,440.7 1565.8,440.5 1569,440.3 1572.2,440.2 1575.5,440 1578.7,439.9 1581.9,439.7 1585.1,439.5 1588.4,439.4 1591.6,439.2 1594.8,439.1 1598,438.9 1601.3,438.7 1604.5,438.6 1607.7,438.4 1610.9,438.3 1614.2,438.1 1617.4,437.9 1620.6,437.8 1623.8,437.6 1627.1,437.5 1630.3,437.3 1633.5,437.1" fill="none" stroke="#ff00ff" stroke-width="6" stroke-linejoin="round"/>
<path d="M1616.7,450.1L1650.4,450.1L1636.4,419.8L1630.7,419.8Z" fill="#ff00ff"/><path d="M1628.7,441.8L1638.3,441.8L1633.5,432Z" fill="#fff"/>
<path d="M1613.4,450.3L1647.1,450.3L1633.1,420L1627.4,420Z" fill="#ff00ff"/><path d="M1625.5,442L1635.1,442L1630.3,432.2Z" fill="#fff"/>
<path d="M1610.2,450.4L1643.9,450.4L1629.9,420.1L1624.2,420.1Z" fill="#ff00ff"/><path d="M1622.3,442.1L1631.9,442.1L1627.1,432.3Z" fill="#fff"/>
<path d="M1607,450.6L1640.7,450.6L1626.7,420.3L1621,420.3Z" fill="#ff00ff"/><path d="M1619,442.3L1628.6,442.3L1623.8,432.5Z" fill="#fff"/>
<path d="M1603.8,450.7L1637.5,450.7L1623.5,420.4L1617.8,420.4Z" fill="#ff00ff"/><path d="M1615.8,442.4L1625.4,442.4L1620.6,432.6Z" fill="#fff"/>
<path d="M1600.5,450.9L1634.2,450.9L1620.2,420.6L1614.5,420.6Z" fill="#ff00ff"/><path d="M1612.6,442.6L1622.2,442.6L1617.4,432.8Z" fill="#fff"/>
<path d="M1597.3,451L1631,451L1617,420.7L1611.3,420.7Z" fill="#ff00ff"/><path d="M1609.4,442.7L1619,442.7L1614.2,432.9Z" fill="#fff"/>
<path d="M1594.1,451.2L1627.8,451.2L1613.8,420.9L1608.1,420.9Z" fill="#ff00ff"/><path d="M1606.1,442.9L1615.7,442.9L1610.9,433.1Z" fill="#fff"/>
<path d="M1590.9,451.3L1624.6,451.3L1610.6,421L1604.9,421Z" fill="#ff00ff"/><path d="M1602.9,443L1612.5,443L1607.7,433.2Z" fill="#fff"/>
<path d="M1587.6,451.5L1621.3,451.5L1607.3,421.2L1601.6,421.2Z" fill="#ff00ff"/><path d="M1599.7,443.2L1609.3,443.2L1604.5,433.4Z" fill="#fff"/>
<path d="M1584.4,451.6L1618.1,451.6L1604.1,421.3L1598.4,421.3Z" fill="#ff00ff"/><path d="M1596.5,443.3L1606.1,443.3L1601.3,433.5Z" fill="#fff"/>
<path d="M1581.2,451.8L1614.9,451.8L1600.9,421.5L1595.2,421.5Z" fill="#ff00ff"/><path d="M1593.2,443.5L1602.8,443.5L1598,433.7Z" fill="#fff"/>
<path d="M1578,451.9L1611.7,451.9L1597.7,421.6L1592,421.6Z" fill="#ff00ff"/><path d="M1590,443.6L1599.6,443.6L1594.8,433.8Z" fill="#fff"/>
<path d="M1574.7,452.1L1608.4,452.1L1594.4,421.8L1588.7,421.8Z" fill="#ff00ff"/><path d="M1586.8,443.8L1596.4,443.8L1591.6,434Z" fill="#fff"/>
<path d="M1571.5,452.2L1605.2,452.2L1591.2,421.9L1585.5,421.9Z" fill="#ff00ff"/><path d="M1583.6,443.9L1593.2,443.9L1588.4,434.1Z" fill="#fff"/>
<path d="M1568.3,452.4L1602,452.4L1588,422.1L1582.3,422.1Z" fill="#ff00ff"/><path d="M1580.3,444.1L1589.9,444.1L1585.1,434.3Z" fill="#fff"/>
<path d="M1565.1,452.5L1598.8,452.5L1584.8,422.2L1579.1,422.2Z" fill="#ff00ff"/><path d="M1577.1,444.2L1586.7,444.2L1581.9,434.4Z" fill="#fff"/>
<path d="M1561.8,452.7L1595.5,452.7L1581.5,422.4L1575.8,422.4Z" fill="#ff00ff"/><path d="M1573.9,444.4L1583.5,444.4L1578.7,434.6Z" fill="#fff"/>
<path d="M1558.6,452.8L1592.3,452.8L1578.3,422.5L1572.6,422.5Z" fill="#ff00ff"/><path d="M1570.7,444.5L1580.3,444.5L1575.5,434.7Z" fill="#fff"/>
<path d="M1555.4,453L1589.1,453L1575.1,422.7L1569.4,422.7Z" fill="#ff00ff"/><path d="M1567.4,444.7L1577,444.7L1572.2,434.9Z" fill="#fff"/>
<path d="M1552.2,453.1L1585.9,453.1L1571.9,422.8L1566.2,422.8Z" fill="#ff00ff"/><path d="M1564.2,444.8L1573.8,444.8L1569,435Z" fill="#fff"/>
<path d="M1548.9,453.3L1582.6,453.3L1568.6,423L1562.9,423Z" fill="#ff00ff"/><path d="M1561,445L1570.6,445L1565.8,435.2Z" fill="#fff"/>
<path d="M1545.7,453.4L1579.4,453.4L1565.4,423.1L1559.7,423.1Z" fill="#ff00ff"/><path d="M1557.8,445.1L1567.4,445.1L1562.6,435.3Z" fill="#fff"/>
<path d="M1542.5,453.6L1576.2,453.6L1562.2,423.3L1556.5,423.3Z" fill="#ff00ff"/><path d="M1554.5,445.3L1564.1,445.3L1559.3,435.5Z" fill="#fff"/>
<path d="M1539.2,453.7L1572.9,453.7L1558.9,423.4L1553.2,423.4Z" fill="#ff00ff"/><path d="M1551.3,445.4L1560.9,445.4L1556.1,435.6Z" fill="#fff"/>
<path d="M1536,453.9L1569.7,453.9L1555.7,423.6L1550,423.6Z" fill="#ff00ff"/><path d="M1548.1,445.6L1557.7,445.6L1552.9,435.8Z" fill="#fff"/>
<path d="M1532.8,454L1566.5,454L1552.5,423.7L1546.8,423.7Z" fill="#ff00ff"/><path d="M1544.8,445.7L1554.4,445.7L1549.6,435.9Z" fill="#fff"/>
<path d="M1529.6,454.2L1563.3,454.2L1549.3,423.9L1543.6,423.9Z" fill="#ff00ff"/><path d="M1541.6,445.9L1551.2,445.9L1546.4,436.1Z" fill="#fff"/>
<path d="M1526.3,454.3L1560,454.3L1546,424L1540.3,424Z" fill="#ff00ff"/><path d="M1538.4,446L1548,446L1543.2,436.2Z" fill="#fff"/>
<path d="M1523.1,454.5L1556.8,454.5L1542.8,424.2L1537.1,424.2Z" fill="#ff00ff"/><path d="M1535.2,446.2L1544.8,446.2L1540,436.4Z" fill="#fff"/>
<path d="M1519.9,454.6L1553.6,454.6L1539.6,424.3L1533.9,424.3Z" fill="#ff00ff"/><path d="M1531.9,446.3L1541.5,446.3L1536.7,436.5Z" fill="#fff"/>
<path d="M1516.7,454.8L1550.4,454.8L1536.4,424.5L1530.7,424.5Z" fill="#ff00ff"/><path d="M1528.7,446.5L1538.3,446.5L1533.5,436.7Z" fill="#fff"/>
<path d="M1513.4,454.9L1547.1,454.9L1533.1,424.6L1527.4,424.6Z" fill="#ff00ff"/><path d="M1525.5,446.6L1535.1,446.6L1530.3,436.8Z" fill="#fff"/>
<path d="M1510.2,455.1L1543.9,455.1L1529.9,424.8L1524.2,424.8Z" fill="#ff00ff"/><path d="M1522.3,446.8L1531.9,446.8L1527.1,437Z" fill="#fff"/>
<path d="M1507,455.2L1540.7,455.2L1526.7,424.9L1521,424.9Z" fill="#ff00ff"/><path d="M1519,446.9L1528.6,446.9L1523.8,437.1Z" fill="#fff"/>
<path d="M1503.8,455.4L1537.5,455.4L1523.5,425.1L1517.8,425.1Z" fill="#ff00ff"/><path d="M1515.8,447.1L1525.4,447.1L1520.6,437.3Z" fill="#fff"/>
<path d="M1500.5,455.5L1534.2,455.5L1520.2,425.2L1514.5,425.2Z" fill="#ff00ff"/><path d="M1512.6,447.2L1522.2,447.2L1517.4,437.4Z" fill="#fff"/>
<path d="M1497.3,455.7L1531,455.7L1517,425.4L1511.3,425.4Z" fill="#ff00ff"/><path d="M1509.4,447.4L1519,447.4L1514.2,437.6Z" fill="#fff"/>
<path d="M1494.1,455.8L1527.8,455.8L1513.8,425.5L1508.1,425.5Z" fill="#ff00ff"/><path d="M1506.1,447.5L1515.7,447.5L1510.9,437.7Z" fill="#fff"/>
<path d="M1490.9,456L1524.6,456L1510.6,425.7L1504.9,425.7Z" fill="#ff00ff"/><path d="M1502.9,447.7L1512.5,447.7L1507.7,437.9Z" fill="#fff"/>
<path d="M1487.6,456.1L1521.3,456.1L1507.3,425.8L1501.6,425.8Z" fill="#ff00ff"/><path d="M1499.7,447.8L1509.3,447.8L1504.5,438Z" fill="#fff"/>
<path d="M1484.4,456.3L1518.1,456.3L1504.1,426L1498.4,426Z" fill="#ff00ff"/><path d="M1496.5,448L1506.1,448L1501.3,438.2Z" fill="#fff"/>
<path d="M1481.2,456.4L1514.9,456.4L1500.9,426.1L1495.2,426.1Z" fill="#ff00ff"/><path d="M1493.2,448.1L1502.8,448.1L1498,438.3Z" fill="#fff"/>
<path d="M1478,456.6L1511.7,456.6L1497.7,426.3L1492,426.3Z" fill="#ff00ff"/><path d="M1490,448.3L1499.6,448.3L1494.8,438.5Z" fill="#fff"/>
<path d="M1474.7,456.7L1508.4,456.7L1494.4,426.4L1488.7,426.4Z" fill="#ff00ff"/><path d="M1486.8,448.4L1496.4,448.4L1491.6,438.6Z" fill="#fff"/>
<path d="M1471.5,456.8L1505.2,456.8L1491.2,426.5L1485.5,426.5Z" fill="#ff00ff"/><path d="M1483.6,448.5L1493.2,448.5L1488.4,438.7Z" fill="#fff"/>
<path d="M1468.3,456.9L1502,456.9L1488,426.6L1482.3,426.6Z" fill="#ff00ff"/><path d="M1480.3,448.6L1489.9,448.6L1485.1,438.8Z" fill="#fff"/>
<path d="M1465.1,456.9L1498.8,456.9L1484.8,426.6L1479.1,426.6Z" fill="#ff00ff"/><path d="M1477.1,448.6L1486.7,448.6L1481.9,438.8Z" fill="#fff"/>
<path d="M1461.8,457L1495.5,457L1481.5,426.7L1475.8,426.7Z" fill="#ff00ff"/><path d="M1473.9,448.7L1483.5,448.7L1478.7,438.9Z" fill="#fff"/>
<path d="M1458.6,457.1L1492.3,457.1L1478.3,426.8L1472.6,426.8Z" fill="#ff00ff"/><path d="M1470.6,448.8L1480.2,448.8L1475.4,439Z" fill="#fff"/>
<path d="M1455.4,457.1L1489.1,457.1L1475.1,426.8L1469.4,426.8Z" fill="#ff00ff"/><path d="M1467.4,448.8L1477,448.8L1472.2,439Z" fill="#fff"/>
<path d="M1452.1,457.2L1485.8,457.2L1471.8,426.9L1466.1,426.9Z" fill="#ff00ff"/><path d="M1464.2,448.9L1473.8,448.9L1469,439.1Z" fill="#fff"/>
<path d="M1448.9,457.2L1482.6,457.2L1468.6,426.9L1462.9,426.9Z" fill="#ff00ff"/><path d="M1461,448.9L1470.6,448.9L1465.8,439.1Z" fill="#fff"/>
<path d="M1445.7,457.3L1479.4,457.3L1465.4,427L1459.7,427Z" fill="#ff00ff"/><path d="M1457.7,449L1467.3,449L1462.5,439.2Z" fill="#fff"/>
<path d="M1442.5,457.3L1476.2,457.3L1462.2,427L1456.5,427Z" fill="#ff00ff"/><path d="M1454.5,449L1464.1,449L1459.3,439.2Z" fill="#fff"/>
<path d="M1439.2,457.4L1472.9,457.4L1458.9,427.1L1453.2,427.1Z" fill="#ff00ff"/><path d="M1451.3,449.1L1460.9,449.1L1456.1,439.3Z" fill="#fff"/>
<path d="M1436,457.4L1469.7,457.4L1455.7,427.1L1450,427.1Z" fill="#ff00ff"/><path d="M1448.1,449.1L1457.7,449.1L1452.9,439.3Z" fill="#fff"/>
<path d="M1432.8,457.5L1466.5,457.5L1452.5,427.2L1446.8,427.2Z" fill="#ff00ff"/><path d="M1444.8,449.2L1454.4,449.2L1449.6,439.4Z" fill="#fff"/>
<path d="M1429.6,457.6L1463.3,457.6L1449.3,427.3L1443.6,427.3Z" fill="#ff00ff"/><path d="M1441.6,449.3L1451.2,449.3L1446.4,439.5Z" fill="#fff"/>
<path d="M1426.3,457.7L1460,457.7L1446,427.4L1440.3,427.4Z" fill="#ff00ff"/><path d="M1438.4,449.4L1448,449.4L1443.2,439.6Z" fill="#fff"/>
<path d="M1423.1,457.8L1456.8,457.8L1442.8,427.5L1437.1,427.5Z" fill="#ff00ff"/><path d="M1435.2,449.5L1444.8,449.5L1440,439.7Z" fill="#fff"/>
<path d="M1419.9,457.9L1453.6,457.9L1439.6,427.6L1433.9,427.6Z" fill="#ff00ff"/><path d="M1431.9,449.6L1441.5,449.6L1436.7,439.8Z" fill="#fff"/>
<path d="M1416.7,457.9L1450.4,457.9L1436.4,427.6L1430.7,427.6Z" fill="#ff00ff"/><path d="M1428.7,449.6L1438.3,449.6L1433.5,439.8Z" fill="#fff"/>
<path d="M1413.4,458L1447.1,458L1433.1,427.7L1427.4,427.7Z" fill="#ff00ff"/><path d="M1425.5,449.7L1435.1,449.7L1430.3,439.9Z" fill="#fff"/>
<path d="M1410.2,458.1L1443.9,458.1L1429.9,427.8L1424.2,427.8Z" fill="#ff00ff"/><path d="M1422.3,449.8L1431.9,449.8L1427.1,440Z" fill="#fff"/>
<path d="M1407,458.2L1440.7,458.2L1426.7,427.9L1421,427.9Z" fill="#ff00ff"/><path d="M1419,449.9L1428.6,449.9L1423.8,440.1Z" fill="#fff"/>
<path d="M1403.8,458.3L1437.5,458.3L1423.5,428L1417.8,428Z" fill="#ff00ff"/><path d="M1415.8,450L1425.4,450L1420.6,440.2Z" fill="#fff"/>
<path d="M1400.5,458.4L1434.2,458.4L1420.2,428.1L1414.5,428.1Z" fill="#ff00ff"/><path d="M1412.6,450.1L1422.2,450.1L1417.4,440.3Z" fill="#fff"/>
<path d="M1397.3,458.4L1431,458.4L1417,428.1L1411.3,428.1Z" fill="#ff00ff"/><path d="M1409.4,450.1L1419,450.1L1414.2,440.3Z" fill="#fff"/>
<path d="M1394.1,458.5L1427.8,458.5L1413.8,428.2L1408.1,428.2Z" fill="#ff00ff"/><path d="M1406.1,450.2L1415.7,450.2L1410.9,440.4Z" fill="#fff"/>
<path d="M1390.9,458.6L1424.6,458.6L1410.6,428.3L1404.9,428.3Z" fill="#ff00ff"/><path d="M1402.9,450.3L1412.5,450.3L1407.7,440.5Z" fill="#fff"/>
<path d="M1387.6,458.7L1421.3,458.7L1407.3,428.4L1401.6,428.4Z" fill="#ff00ff"/><path d="M1399.7,450.4L1409.3,450.4L1404.5,440.6Z" fill="#fff"/>
<path d="M1384.4,458.8L1418.1,458.8L1404.1,428.5L1398.4,428.5Z" fill="#ff00ff"/><path d="M1396.5,450.5L1406.1,450.5L1401.3,440.7Z" fill="#fff"/>
<path d="M1381.2,458.9L1414.9,458.9L1400.9,428.6L1395.2,428.6Z" fill="#ff00ff"/><path d="M1393.2,450.6L1402.8,450.6L1398,440.8Z" fill="#fff"/>
<path d="M1377.9,458.9L1411.6,458.9L1397.6,428.6L1391.9,428.6Z" fill="#ff00ff"/><path d="M1390,450.6L1399.6,450.6L1394.8,440.8Z" fill="#fff"/>
<path d="M1374.7,459L1408.4,459L1394.4,428.7L1388.7,428.7Z" fill="#ff00ff"/><path d="M1386.8,450.7L1396.4,450.7L1391.6,440.9Z" fill="#fff"/>
<path d="M1371.5,459.1L1405.2,459.1L1391.2,428.8L1385.5,428.8Z" fill="#ff00ff"/><path d="M1383.5,450.8L1393.1,450.8L1388.3,441Z" fill="#fff"/>
<path d="M1368.3,459.4L1402,459.4L1388,429.1L1382.3,429.1Z" fill="#ff00ff"/><path d="M1380.3,451.1L1389.9,451.1L1385.1,441.3Z" fill="#fff"/>
<path d="M1365,459.7L1398.7,459.7L1384.7,429.4L1379,429.4Z" fill="#ff00ff"/><path d="M1377.1,451.4L1386.7,451.4L1381.9,441.6Z" fill="#fff"/>
<path d="M1361.8,460L1395.5,460L1381.5,429.7L1375.8,429.7Z" fill="#ff00ff"/><path d="M1373.9,451.7L1383.5,451.7L1378.7,441.9Z" fill="#fff"/>
<path d="M1358.6,460.4L1392.3,460.4L1378.3,430.1L1372.6,430.1Z" fill="#ff00ff"/><path d="M1370.6,452.1L1380.2,452.1L1375.4,442.3Z" fill="#fff"/>
<path d="M1355.4,460.7L1389.1,460.7L1375.1,430.4L1369.4,430.4Z" fill="#ff00ff"/><path d="M1367.4,452.4L1377,452.4L1372.2,442.6Z" fill="#fff"/>
<path d="M1352.1,461L1385.8,461L1371.8,430.7L1366.1,430.7Z" fill="#ff00ff"/><path d="M1364.2,452.7L1373.8,452.7L1369,442.9Z" fill="#fff"/>
<path d="M1348.9,461.3L1382.6,461.3L1368.6,431L1362.9,431Z" fill="#ff00ff"/><path d="M1361,453L1370.6,453L1365.8,443.2Z" fill="#fff"/>
<path d="M1345.7,461.7L1379.4,461.7L1365.4,431.4L1359.7,431.4Z" fill="#ff00ff"/><path d="M1357.7,453.4L1367.3,453.4L1362.5,443.6Z" fill="#fff"/>
<path d="M1342.5,462L1376.2,462L1362.2,431.7L1356.5,431.7Z" fill="#ff00ff"/><path d="M1354.5,453.7L1364.1,453.7L1359.3,443.9Z" fill="#fff"/>
<path d="M1339.2,462.3L1372.9,462.3L1358.9,432L1353.2,432Z" fill="#ff00ff"/><path d="M1351.3,454L1360.9,454L1356.1,444.2Z" fill="#fff"/>
<path d="M1336,462.6L1369.7,462.6L1355.7,432.3L1350,432.3Z" fill="#ff00ff"/><path d="M1348.1,454.3L1357.7,454.3L1352.9,444.5Z" fill="#fff"/>
<path d="M1332.8,463L1366.5,463L1352.5,432.7L1346.8,432.7Z" fill="#ff00ff"/><path d="M1344.8,454.7L1354.4,454.7L1349.6,444.9Z" fill="#fff"/>
<path d="M1329.6,463.3L1363.3,463.3L1349.3,433L1343.6,433Z" fill="#ff00ff"/><path d="M1341.6,455L1351.2,455L1346.4,445.2Z" fill="#fff"/>
<path d="M1326.3,463.6L1360,463.6L1346,433.3L1340.3,433.3Z" fill="#ff00ff"/><path d="M1338.4,455.3L1348,455.3L1343.2,445.5Z" fill="#fff"/>
<path d="M1323.1,463.9L1356.8,463.9L1342.8,433.6L1337.1,433.6Z" fill="#ff00ff"/><path d="M1335.2,455.6L1344.8,455.6L1340,445.8Z" fill="#fff"/>
<path d="M1319.9,464.1L1353.6,464.1L1339.6,433.8L1333.9,433.8Z" fill="#ff00ff"/><path d="M1331.9,455.8L1341.5,455.8L1336.7,446Z" fill="#fff"/>
<path d="M1316.7,464.2L1350.4,464.2L1336.4,433.9L1330.7,433.9Z" fill="#ff00ff"/><path d="M1328.7,455.9L1338.3,455.9L1333.5,446.1Z" fill="#fff"/>
<path d="M1313.4,464.4L1347.1,464.4L1333.1,434.1L1327.4,434.1Z" fill="#ff00ff"/><path d="M1325.5,456.1L1335.1,456.1L1330.3,446.3Z" fill="#fff"/>
<path d="M1310.2,464.9L1343.9,464.9L1329.9,434.6L1324.2,434.6Z" fill="#ff00ff"/><path d="M1322.3,456.6L1331.9,456.6L1327.1,446.8Z" fill="#fff"/>
<path d="M1307,466.9L1340.7,466.9L1326.7,436.6L1321,436.6Z" fill="#ff00ff"/><path d="M1319,458.6L1328.6,458.6L1323.8,448.8Z" fill="#fff"/>
<path d="M1303.8,471.1L1337.5,471.1L1323.5,440.8L1317.8,440.8Z" fill="#ff00ff"/><path d="M1315.8,462.8L1325.4,462.8L1320.6,453Z" fill="#fff"/>
<path d="M1300.5,479.8L1334.2,479.8L1320.2,449.5L1314.5,449.5Z" fill="#ff00ff"/><path d="M1312.6,471.5L1322.2,471.5L1317.4,461.7Z" fill="#fff"/>
<path d="M1299.3,483.2L1333,483.2L1319,452.9L1313.3,452.9Z" fill="#ff00ff"/><path d="M1311.3,474.9L1320.9,474.9L1316.1,465.1Z" fill="#fff"/>
<path d="M1296.9,505.8L1330.6,505.8L1316.6,475.5L1310.9,475.5Z" fill="#ff00ff"/><path d="M1309,497.5L1318.6,497.5L1313.8,487.7Z" fill="#fff"/>
<path d="M1293.5,542.6L1327.2,542.6L1313.2,512.3L1307.5,512.3Z" fill="#ff00ff"/><path d="M1305.6,534.3L1315.2,534.3L1310.4,524.5Z" fill="#fff"/>
<path d="M1291.3,594.1L1325,594.1L1311,563.8L1305.3,563.8Z" fill="#ff00ff"/><path d="M1303.4,585.8L1313,585.8L1308.2,576Z" fill="#fff"/>
<path d="M1286.8,650.6L1320.5,650.6L1306.5,620.3L1300.8,620.3Z" fill="#ff00ff"/><path d="M1298.9,642.3L1308.5,642.3L1303.7,632.5Z" fill="#fff"/>
<path d="M1284.6,706.5L1318.3,706.5L1304.3,676.2L1298.6,676.2Z" fill="#ff00ff"/><path d="M1296.7,698.2L1306.3,698.2L1301.5,688.4Z" fill="#fff"/>
<path d="M1280.2,753.8L1313.9,753.8L1299.9,723.5L1294.2,723.5Z" fill="#ff00ff"/><path d="M1292.2,745.5L1301.8,745.5L1297,735.7Z" fill="#fff"/>
<path d="M1279,794.1L1312.7,794.1L1298.7,763.8L1293,763.8Z" fill="#ff00ff"/><path d="M1291,785.8L1300.6,785.8L1295.8,776Z" fill="#fff"/>
<path d="M1274.4,825.6L1308.1,825.6L1294.1,795.3L1288.4,795.3Z" fill="#ff00ff"/><path d="M1286.5,817.3L1296.1,817.3L1291.3,807.5Z" fill="#fff"/>
<path d="M1272.2,852.6L1305.9,852.6L1291.9,822.3L1286.2,822.3Z" fill="#ff00ff"/><path d="M1284.2,844.3L1293.8,844.3L1289,834.5Z" fill="#fff"/>
<path d="M1271.5,860.5L1305.2,860.5L1291.2,830.2L1285.5,830.2Z" fill="#ff00ff"/><path d="M1283.5,852.2L1293.1,852.2L1288.3,842.4Z" fill="#fff"/>
<path d="M1268.3,886.9L1302,886.9L1288,856.6L1282.3,856.6Z" fill="#ff00ff"/><path d="M1280.3,878.6L1289.9,878.6L1285.1,868.8Z" fill="#fff"/>
<path d="M1265,897.3L1298.7,897.3L1284.7,867L1279,867Z" fill="#ff00ff"/><path d="M1277.1,889L1286.7,889L1281.9,879.2Z" fill="#fff"/>
<path d="M1261.8,903.4L1295.5,903.4L1281.5,873.1L1275.8,873.1Z" fill="#ff00ff"/><path d="M1273.9,895.1L1283.5,895.1L1278.7,885.3Z" fill="#fff"/>
<path d="M1258.6,904.9L1292.3,904.9L1278.3,874.6L1272.6,874.6Z" fill="#ff00ff"/><path d="M1270.6,896.6L1280.2,896.6L1275.4,886.8Z" fill="#fff"/>
<path d="M1255.4,905.9L1289.1,905.9L1275.1,875.6L1269.4,875.6Z" fill="#ff00ff"/><path d="M1267.4,897.6L1277,897.6L1272.2,887.8Z" fill="#fff"/>
<path d="M1252.1,906.8L1285.8,906.8L1271.8,876.5L1266.1,876.5Z" fill="#ff00ff"/><path d="M1264.2,898.5L1273.8,898.5L1269,888.7Z" fill="#fff"/>
<path d="M1248.9,907.7L1282.6,907.7L1268.6,877.4L1262.9,877.4Z" fill="#ff00ff"/><path d="M1261,899.4L1270.6,899.4L1265.8,889.6Z" fill="#fff"/>
<path d="M1245.7,908.7L1279.4,908.7L1265.4,878.4L1259.7,878.4Z" fill="#ff00ff"/><path d="M1257.7,900.4L1267.3,900.4L1262.5,890.6Z" fill="#fff"/>
<path d="M1242.5,909.6L1276.2,909.6L1262.2,879.3L1256.5,879.3Z" fill="#ff00ff"/><path d="M1254.5,901.3L1264.1,901.3L1259.3,891.5Z" fill="#fff"/>
<path d="M1239.2,910.3L1272.9,910.3L1258.9,880L1253.2,880Z" fill="#ff00ff"/><path d="M1251.3,902L1260.9,902L1256.1,892.2Z" fill="#fff"/>
<path d="M1236,910.7L1269.7,910.7L1255.7,880.4L1250,880.4Z" fill="#ff00ff"/><path d="M1248.1,902.4L1257.7,902.4L1252.9,892.6Z" fill="#fff"/>
<path d="M1232.8,911.1L1266.5,911.1L1252.5,880.8L1246.8,880.8Z" fill="#ff00ff"/><path d="M1244.8,902.8L1254.4,902.8L1249.6,893Z" fill="#fff"/>
<path d="M1229.6,911.5L1263.3,911.5L1249.3,881.2L1243.6,881.2Z" fill="#ff00ff"/><path d="M1241.6,903.2L1251.2,903.2L1246.4,893.4Z" fill="#fff"/>
<path d="M1226.3,911.9L1260,911.9L1246,881.6L1240.3,881.6Z" fill="#ff00ff"/><path d="M1238.4,903.6L1248,903.6L1243.2,893.8Z" fill="#fff"/>
<path d="M1223.1,912.2L1256.8,912.2L1242.8,881.9L1237.1,881.9Z" fill="#ff00ff"/><path d="M1235.2,903.9L1244.8,903.9L1240,894.1Z" fill="#fff"/>
<path d="M1219.9,912.6L1253.6,912.6L1239.6,882.3L1233.9,882.3Z" fill="#ff00ff"/><path d="M1231.9,904.3L1241.5,904.3L1236.7,894.5Z" fill="#fff"/>
<path d="M1216.6,913L1250.3,913L1236.3,882.7L1230.6,882.7Z" fill="#ff00ff"/><path d="M1228.7,904.7L1238.3,904.7L1233.5,894.9Z" fill="#fff"/>
<path d="M1213.4,913.4L1247.1,913.4L1233.1,883.1L1227.4,883.1Z" fill="#ff00ff"/><path d="M1225.5,905.1L1235.1,905.1L1230.3,895.3Z" fill="#fff"/>
<path d="M1210.2,913.8L1243.9,913.8L1229.9,883.5L1224.2,883.5Z" fill="#ff00ff"/><path d="M1222.2,905.5L1231.8,905.5L1227,895.7Z" fill="#fff"/>
<path d="M1207,914.2L1240.7,914.2L1226.7,883.9L1221,883.9Z" fill="#ff00ff"/><path d="M1219,905.9L1228.6,905.9L1223.8,896.1Z" fill="#fff"/>
<path d="M1203.7,914.5L1237.4,914.5L1223.4,884.2L1217.7,884.2Z" fill="#ff00ff"/><path d="M1215.8,906.2L1225.4,906.2L1220.6,896.4Z" fill="#fff"/>
<path d="M1200.5,914.9L1234.2,914.9L1220.2,884.6L1214.5,884.6Z" fill="#ff00ff"/><path d="M1212.6,906.6L1222.2,906.6L1217.4,896.8Z" fill="#fff"/>
<path d="M1197.3,915.3L1231,915.3L1217,885L1211.3,885Z" fill="#ff00ff"/><path d="M1209.3,907L1218.9,907L1214.1,897.2Z" fill="#fff"/>
<path d="M1194.1,915.7L1227.8,915.7L1213.8,885.4L1208.1,885.4Z" fill="#ff00ff"/><path d="M1206.1,907.4L1215.7,907.4L1210.9,897.6Z" fill="#fff"/>
<path d="M1190.8,916.1L1224.5,916.1L1210.5,885.8L1204.8,885.8Z" fill="#ff00ff"/><path d="M1202.9,907.8L1212.5,907.8L1207.7,898Z" fill="#fff"/>
<path d="M1187.6,916.2L1221.3,916.2L1207.3,885.9L1201.6,885.9Z" fill="#ff00ff"/><path d="M1199.7,907.9L1209.3,907.9L1204.5,898.1Z" fill="#fff"/>
<path d="M1184.4,916.3L1218.1,916.3L1204.1,886L1198.4,886Z" fill="#ff00ff"/><path d="M1196.4,908L1206,908L1201.2,898.2Z" fill="#fff"/>
<path d="M1181.2,916.4L1214.9,916.4L1200.9,886.1L1195.2,886.1Z" fill="#ff00ff"/><path d="M1193.2,908.1L1202.8,908.1L1198,898.3Z" fill="#fff"/>
<path d="M1177.9,916.6L1211.6,916.6L1197.6,886.3L1191.9,886.3Z" fill="#ff00ff"/><path d="M1190,908.3L1199.6,908.3L1194.8,898.5Z" fill="#fff"/>
<path d="M1174.7,916.7L1208.4,916.7L1194.4,886.4L1188.7,886.4Z" fill="#ff00ff"/><path d="M1186.8,908.4L1196.4,908.4L1191.6,898.6Z" fill="#fff"/>
<path d="M1171.5,916.8L1205.2,916.8L1191.2,886.5L1185.5,886.5Z" fill="#ff00ff"/><path d="M1183.5,908.5L1193.1,908.5L1188.3,898.7Z" fill="#fff"/>
<path d="M1168.3,916.9L1202,916.9L1188,886.6L1182.3,886.6Z" fill="#ff00ff"/><path d="M1180.3,908.6L1189.9,908.6L1185.1,898.8Z" fill="#fff"/>
<path d="M1165,917.1L1198.7,917.1L1184.7,886.8L1179,886.8Z" fill="#ff00ff"/><path d="M1177.1,908.8L1186.7,908.8L1181.9,899Z" fill="#fff"/>
<path d="M1161.8,917.2L1195.5,917.2L1181.5,886.9L1175.8,886.9Z" fill="#ff00ff"/><path d="M1173.9,908.9L1183.5,908.9L1178.7,899.1Z" fill="#fff"/>
<path d="M1158.6,917.3L1192.3,917.3L1178.3,887L1172.6,887Z" fill="#ff00ff"/><path d="M1170.6,909L1180.2,909L1175.4,899.2Z" fill="#fff"/>
<path d="M1155.4,917.5L1189.1,917.5L1175.1,887.2L1169.4,887.2Z" fill="#ff00ff"/><path d="M1167.4,909.2L1177,909.2L1172.2,899.4Z" fill="#fff"/>
<path d="M1152.1,917.6L1185.8,917.6L1171.8,887.3L1166.1,887.3Z" fill="#ff00ff"/><path d="M1164.2,909.3L1173.8,909.3L1169,899.5Z" fill="#fff"/>
<path d="M1148.9,917.7L1182.6,917.7L1168.6,887.4L1162.9,887.4Z" fill="#ff00ff"/><path d="M1161,909.4L1170.6,909.4L1165.8,899.6Z" fill="#fff"/>
<path d="M1145.7,917.8L1179.4,917.8L1165.4,887.5L1159.7,887.5Z" fill="#ff00ff"/><path d="M1157.7,909.5L1167.3,909.5L1162.5,899.7Z" fill="#fff"/>
<path d="M1142.5,918L1176.2,918L1162.2,887.7L1156.5,887.7Z" fill="#ff00ff"/><path d="M1154.5,909.7L1164.1,909.7L1159.3,899.9Z" fill="#fff"/>
<path d="M1139.2,918.1L1172.9,918.1L1158.9,887.8L1153.2,887.8Z" fill="#ff00ff"/><path d="M1151.3,909.8L1160.9,909.8L1156.1,900Z" fill="#fff"/>
<path d="M1136,918.2L1169.7,918.2L1155.7,887.9L1150,887.9Z" fill="#ff00ff"/><path d="M1148,909.9L1157.6,909.9L1152.8,900.1Z" fill="#fff"/>
<path d="M1132.8,918.3L1166.5,918.3L1152.5,888L1146.8,888Z" fill="#ff00ff"/><path d="M1144.8,910L1154.4,910L1149.6,900.2Z" fill="#fff"/>
<path d="M1129.5,918.5L1163.2,918.5L1149.2,888.2L1143.5,888.2Z" fill="#ff00ff"/><path d="M1141.6,910.2L1151.2,910.2L1146.4,900.4Z" fill="#fff"/>
<path d="M1126.3,918.6L1160,918.6L1146,888.3L1140.3,888.3Z" fill="#ff00ff"/><path d="M1138.4,910.3L1148,910.3L1143.2,900.5Z" fill="#fff"/>
<path d="M1123.1,918.7L1156.8,918.7L1142.8,888.4L1137.1,888.4Z" fill="#ff00ff"/><path d="M1135.1,910.4L1144.7,910.4L1139.9,900.6Z" fill="#fff"/>
<path d="M1119.9,918.8L1153.6,918.8L1139.6,888.5L1133.9,888.5Z" fill="#ff00ff"/><path d="M1131.9,910.5L1141.5,910.5L1136.7,900.7Z" fill="#fff"/>
<path d="M1116.6,919L1150.3,919L1136.3,888.7L1130.6,888.7Z" fill="#ff00ff"/><path d="M1128.7,910.7L1138.3,910.7L1133.5,900.9Z" fill="#fff"/>
<path d="M1113.4,919.1L1147.1,919.1L1133.1,888.8L1127.4,888.8Z" fill="#ff00ff"/><path d="M1125.5,910.8L1135.1,910.8L1130.3,901Z" fill="#fff"/>
<path d="M1110.2,919.2L1143.9,919.2L1129.9,888.9L1124.2,888.9Z" fill="#ff00ff"/><path d="M1122.2,910.9L1131.8,910.9L1127,901.1Z" fill="#fff"/>
<path d="M1107,919.4L1140.7,919.4L1126.7,889.1L1121,889.1Z" fill="#ff00ff"/><path d="M1119,911.1L1128.6,911.1L1123.8,901.3Z" fill="#fff"/>
<path d="M1103.7,919.5L1137.4,919.5L1123.4,889.2L1117.7,889.2Z" fill="#ff00ff"/><path d="M1115.8,911.2L1125.4,911.2L1120.6,901.4Z" fill="#fff"/>
<path d="M1100.5,919.6L1134.2,919.6L1120.2,889.3L1114.5,889.3Z" fill="#ff00ff"/><path d="M1112.6,911.3L1122.2,911.3L1117.4,901.5Z" fill="#fff"/>
<path d="M1097.3,919.7L1131,919.7L1117,889.4L1111.3,889.4Z" fill="#ff00ff"/><path d="M1109.3,911.4L1118.9,911.4L1114.1,901.6Z" fill="#fff"/>
<path d="M1094.1,919.9L1127.8,919.9L1113.8,889.6L1108.1,889.6Z" fill="#ff00ff"/><path d="M1106.1,911.6L1115.7,911.6L1110.9,901.8Z" fill="#fff"/>
<path d="M1090.8,920L1124.5,920L1110.5,889.7L1104.8,889.7Z" fill="#ff00ff"/><path d="M1102.9,911.7L1112.5,911.7L1107.7,901.9Z" fill="#fff"/>
<path d="M1087.6,920.1L1121.3,920.1L1107.3,889.8L1101.6,889.8Z" fill="#ff00ff"/><path d="M1099.7,911.8L1109.3,911.8L1104.5,902Z" fill="#fff"/>
<path d="M1084.4,920.2L1118.1,920.2L1104.1,889.9L1098.4,889.9Z" fill="#ff00ff"/><path d="M1096.4,911.9L1106,911.9L1101.2,902.1Z" fill="#fff"/>
<path d="M1081.2,920.4L1114.9,920.4L1100.9,890.1L1095.2,890.1Z" fill="#ff00ff"/><path d="M1093.2,912.1L1102.8,912.1L1098,902.3Z" fill="#fff"/>
<path d="M1077.9,920.5L1111.6,920.5L1097.6,890.2L1091.9,890.2Z" fill="#ff00ff"/><path d="M1090,912.2L1099.6,912.2L1094.8,902.4Z" fill="#fff"/>
<path d="M1074.7,920.6L1108.4,920.6L1094.4,890.3L1088.7,890.3Z" fill="#ff00ff"/><path d="M1086.8,912.3L1096.4,912.3L1091.6,902.5Z" fill="#fff"/>
<path d="M1071.5,920.7L1105.2,920.7L1091.2,890.4L1085.5,890.4Z" fill="#ff00ff"/><path d="M1083.5,912.4L1093.1,912.4L1088.3,902.6Z" fill="#fff"/>
<path d="M1068.3,920.9L1102,920.9L1088,890.6L1082.3,890.6Z" fill="#ff00ff"/><path d="M1080.3,912.6L1089.9,912.6L1085.1,902.8Z" fill="#fff"/>
<path d="M1065,921L1098.7,921L1084.7,890.7L1079,890.7Z" fill="#ff00ff"/><path d="M1077.1,912.7L1086.7,912.7L1081.9,902.9Z" fill="#fff"/>
<path d="M1061.8,921.1L1095.5,921.1L1081.5,890.8L1075.8,890.8Z" fill="#ff00ff"/><path d="M1073.9,912.8L1083.5,912.8L1078.7,903Z" fill="#fff"/>
<path d="M1058.6,921.3L1092.3,921.3L1078.3,891L1072.6,891Z" fill="#ff00ff"/><path d="M1070.6,913L1080.2,913L1075.4,903.2Z" fill="#fff"/>
<path d="M1055.3,921.4L1089,921.4L1075,891.1L1069.3,891.1Z" fill="#ff00ff"/><path d="M1067.4,913.1L1077,913.1L1072.2,903.3Z" fill="#fff"/>
<path d="M1052.1,921.5L1085.8,921.5L1071.8,891.2L1066.1,891.2Z" fill="#ff00ff"/><path d="M1064.2,913.2L1073.8,913.2L1069,903.4Z" fill="#fff"/>
<path d="M1048.9,921.6L1082.6,921.6L1068.6,891.3L1062.9,891.3Z" fill="#ff00ff"/><path d="M1060.9,913.3L1070.5,913.3L1065.7,903.5Z" fill="#fff"/>
<path d="M1045.7,921.8L1079.4,921.8L1065.4,891.5L1059.7,891.5Z" fill="#ff00ff"/><path d="M1057.7,913.5L1067.3,913.5L1062.5,903.7Z" fill="#fff"/>
<path d="M1042.4,921.9L1076.1,921.9L1062.1,891.6L1056.4,891.6Z" fill="#ff00ff"/><path d="M1054.5,913.6L1064.1,913.6L1059.3,903.8Z" fill="#fff"/>
<path d="M1039.2,922L1072.9,922L1058.9,891.7L1053.2,891.7Z" fill="#ff00ff"/><path d="M1051.3,913.7L1060.9,913.7L1056.1,903.9Z" fill="#fff"/>
<path d="M1036,922.1L1069.7,922.1L1055.7,891.8L1050,891.8Z" fill="#ff00ff"/><path d="M1048,913.8L1057.6,913.8L1052.8,904Z" fill="#fff"/>
<path d="M1032.8,922.3L1066.5,922.3L1052.5,892L1046.8,892Z" fill="#ff00ff"/><path d="M1044.8,914L1054.4,914L1049.6,904.2Z" fill="#fff"/>
<path d="M1032.8,920.9L1066.5,920.9L1052.5,890.6L1046.8,890.6Z" fill="#ff00ff"/><path d="M1044.8,912.6L1054.4,912.6L1049.6,902.8Z" fill="#fff"/>
<path d="M1036,920.8L1069.7,920.8L1055.7,890.5L1050,890.5Z" fill="#ff00ff"/><path d="M1048,912.5L1057.6,912.5L1052.8,902.7Z" fill="#fff"/>
<path d="M1039.2,920.7L1072.9,920.7L1058.9,890.4L1053.2,890.4Z" fill="#ff00ff"/><path d="M1051.3,912.4L1060.9,912.4L1056.1,902.6Z" fill="#fff"/>
<path d="M1042.4,920.6L1076.1,920.6L1062.1,890.3L1056.4,890.3Z" fill="#ff00ff"/><path d="M1054.5,912.3L1064.1,912.3L1059.3,902.5Z" fill="#fff"/>
<path d="M1045.7,920.5L1079.4,920.5L1065.4,890.2L1059.7,890.2Z" fill="#ff00ff"/><path d="M1057.7,912.2L1067.3,912.2L1062.5,902.4Z" fill="#fff"/>
<path d="M1048.9,920.4L1082.6,920.4L1068.6,890.1L1062.9,890.1Z" fill="#ff00ff"/><path d="M1060.9,912.1L1070.5,912.1L1065.7,902.3Z" fill="#fff"/>
<path d="M1052.1,920.3L1085.8,920.3L1071.8,890L1066.1,890Z" fill="#ff00ff"/><path d="M1064.2,912L1073.8,912L1069,902.2Z" fill="#fff"/>
<path d="M1055.3,920.2L1089,920.2L1075,889.9L1069.3,889.9Z" fill="#ff00ff"/><path d="M1067.4,911.9L1077,911.9L1072.2,902.1Z" fill="#fff"/>
<path d="M1058.6,920.1L1092.3,920.1L1078.3,889.8L1072.6,889.8Z" fill="#ff00ff"/><path d="M1070.6,911.8L1080.2,911.8L1075.4,902Z" fill="#fff"/>
<path d="M1061.8,919.9L1095.5,919.9L1081.5,889.6L1075.8,889.6Z" fill="#ff00ff"/><path d="M1073.9,911.6L1083.5,911.6L1078.7,901.8Z" fill="#fff"/>
<path d="M1065,919.8L1098.7,919.8L1084.7,889.5L1079,889.5Z" fill="#ff00ff"/><path d="M1077.1,911.5L1086.7,911.5L1081.9,901.7Z" fill="#fff"/>
<path d="M1068.3,919.7L1102,919.7L1088,889.4L1082.3,889.4Z" fill="#ff00ff"/><path d="M1080.3,911.4L1089.9,911.4L1085.1,901.6Z" fill="#fff"/>
<path d="M1071.5,919.6L1105.2,919.6L1091.2,889.3L1085.5,889.3Z" fill="#ff00ff"/><path d="M1083.5,911.3L1093.1,911.3L1088.3,901.5Z" fill="#fff"/>
<path d="M1074.7,919.5L1108.4,919.5L1094.4,889.2L1088.7,889.2Z" fill="#ff00ff"/><path d="M1086.8,911.2L1096.4,911.2L1091.6,901.4Z" fill="#fff"/>
<path d="M1077.9,919.4L1111.6,919.4L1097.6,889.1L1091.9,889.1Z" fill="#ff00ff"/><path d="M1090,911.1L1099.6,911.1L1094.8,901.3Z" fill="#fff"/>
<path d="M1081.2,919.3L1114.9,919.3L1100.9,889L1095.2,889Z" fill="#ff00ff"/><path d="M1093.2,911L1102.8,911L1098,901.2Z" fill="#fff"/>
<path d="M1084.4,919.2L1118.1,919.2L1104.1,888.9L1098.4,888.9Z" fill="#ff00ff"/><path d="M1096.4,910.9L1106,910.9L1101.2,901.1Z" fill="#fff"/>
<path d="M1087.6,919.1L1121.3,919.1L1107.3,888.8L1101.6,888.8Z" fill="#ff00ff"/><path d="M1099.7,910.8L1109.3,910.8L1104.5,901Z" fill="#fff"/>
<path d="M1090.8,919L1124.5,919L1110.5,888.7L1104.8,888.7Z" fill="#ff00ff"/><path d="M1102.9,910.7L1112.5,910.7L1107.7,900.9Z" fill="#fff"/>
<path d="M1094.1,918.9L1127.8,918.9L1113.8,888.6L1108.1,888.6Z" fill="#ff00ff"/><path d="M1106.1,910.6L1115.7,910.6L1110.9,900.8Z" fill="#fff"/>
<path d="M1097.3,918.8L1131,918.8L1117,888.5L1111.3,888.5Z" fill="#ff00ff"/><path d="M1109.3,910.5L1118.9,910.5L1114.1,900.7Z" fill="#fff"/>
<path d="M1100.5,918.7L1134.2,918.7L1120.2,888.4L1114.5,888.4Z" fill="#ff00ff"/><path d="M1112.6,910.4L1122.2,910.4L1117.4,900.6Z" fill="#fff"/>
<path d="M1103.7,918.6L1137.4,918.6L1123.4,888.3L1117.7,888.3Z" fill="#ff00ff"/><path d="M1115.8,910.3L1125.4,910.3L1120.6,900.5Z" fill="#fff"/>
<path d="M1107,918.5L1140.7,918.5L1126.7,888.2L1121,888.2Z" fill="#ff00ff"/><path d="M1119,910.2L1128.6,910.2L1123.8,900.4Z" fill="#fff"/>
<path d="M1110.2,918.4L1143.9,918.4L1129.9,888.1L1124.2,888.1Z" fill="#ff00ff"/><path d="M1122.2,910.1L1131.8,910.1L1127,900.3Z" fill="#fff"/>
<path d="M1113.4,918.2L1147.1,918.2L1133.1,887.9L1127.4,887.9Z" fill="#ff00ff"/><path d="M1125.5,909.9L1135.1,909.9L1130.3,900.1Z" fill="#fff"/>
<path d="M1116.6,918.1L1150.3,918.1L1136.3,887.8L1130.6,887.8Z" fill="#ff00ff"/><path d="M1128.7,909.8L1138.3,909.8L1133.5,900Z" fill="#fff"/>
<path d="M1119.9,918L1153.6,918L1139.6,887.7L1133.9,887.7Z" fill="#ff00ff"/><path d="M1131.9,909.7L1141.5,909.7L1136.7,899.9Z" fill="#fff"/>
<path d="M1123.1,917.9L1156.8,917.9L1142.8,887.6L1137.1,887.6Z" fill="#ff00ff"/><path d="M1135.1,909.6L1144.7,909.6L1139.9,899.8Z" fill="#fff"/>
<path d="M1126.3,917.8L1160,917.8L1146,887.5L1140.3,887.5Z" fill="#ff00ff"/><path d="M1138.4,909.5L1148,909.5L1143.2,899.7Z" fill="#fff"/>
<path d="M1129.5,917.7L1163.2,917.7L1149.2,887.4L1143.5,887.4Z" fill="#ff00ff"/><path d="M1141.6,909.4L1151.2,909.4L1146.4,899.6Z" fill="#fff"/>
<path d="M1132.8,917.6L1166.5,917.6L1152.5,887.3L1146.8,887.3Z" fill="#ff00ff"/><path d="M1144.8,909.3L1154.4,909.3L1149.6,899.5Z" fill="#fff"/>
<path d="M1136,917.5L1169.7,917.5L1155.7,887.2L1150,887.2Z" fill="#ff00ff"/><path d="M1148,909.2L1157.6,909.2L1152.8,899.4Z" fill="#fff"/>
<path d="M1139.2,917.4L1172.9,917.4L1158.9,887.1L1153.2,887.1Z" fill="#ff00ff"/><path d="M1151.3,909.1L1160.9,909.1L1156.1,899.3Z" fill="#fff"/>
<path d="M1142.5,917.3L1176.2,917.3L1162.2,887L1156.5,887Z" fill="#ff00ff"/><path d="M1154.5,909L1164.1,909L1159.3,899.2Z" fill="#fff"/>
<path d="M1145.7,917.2L1179.4,917.2L1165.4,886.9L1159.7,886.9Z" fill="#ff00ff"/><path d="M1157.7,908.9L1167.3,908.9L1162.5,899.1Z" fill="#fff"/>
<path d="M1148.9,917.1L1182.6,917.1L1168.6,886.8L1162.9,886.8Z" fill="#ff00ff"/><path d="M1161,908.8L1170.6,908.8L1165.8,899Z" fill="#fff"/>
<path d="M1152.1,917L1185.8,917L1171.8,886.7L1166.1,886.7Z" fill="#ff00ff"/><path d="M1164.2,908.7L1173.8,908.7L1169,898.9Z" fill="#fff"/>
<path d="M1155.4,916.9L1189.1,916.9L1175.1,886.6L1169.4,886.6Z" fill="#ff00ff"/><path d="M1167.4,908.6L1177,908.6L1172.2,898.8Z" fill="#fff"/>
<path d="M1158.6,916.8L1192.3,916.8L1178.3,886.5L1172.6,886.5Z" fill="#ff00ff"/><path d="M1170.6,908.5L1180.2,908.5L1175.4,898.7Z" fill="#fff"/>
<path d="M1161.8,916.7L1195.5,916.7L1181.5,886.4L1175.8,886.4Z" fill="#ff00ff"/><path d="M1173.9,908.4L1183.5,908.4L1178.7,898.6Z" fill="#fff"/>
<path d="M1165,916.5L1198.7,916.5L1184.7,886.2L1179,886.2Z" fill="#ff00ff"/><path d="M1177.1,908.2L1186.7,908.2L1181.9,898.4Z" fill="#fff"/>
<path d="M1168.3,916.4L1202,916.4L1188,886.1L1182.3,886.1Z" fill="#ff00ff"/><path d="M1180.3,908.1L1189.9,908.1L1185.1,898.3Z" fill="#fff"/>
<path d="M1171.5,916.3L1205.2,916.3L1191.2,886L1185.5,886Z" fill="#ff00ff"/><path d="M1183.5,908L1193.1,908L1188.3,898.2Z" fill="#fff"/>
<path d="M1174.7,916.2L1208.4,916.2L1194.4,885.9L1188.7,885.9Z" fill="#ff00ff"/><path d="M1186.8,907.9L1196.4,907.9L1191.6,898.1Z" fill="#fff"/>
<path d="M1177.9,916.1L1211.6,916.1L1197.6,885.8L1191.9,885.8Z" fill="#ff00ff"/><path d="M1190,907.8L1199.6,907.8L1194.8,898Z" fill="#fff"/>
<path d="M1181.2,916L1214.9,916L1200.9,885.7L1195.2,885.7Z" fill="#ff00ff"/><path d="M1193.2,907.7L1202.8,907.7L1198,897.9Z" fill="#fff"/>
<path d="M1184.4,915.9L1218.1,915.9L1204.1,885.6L1198.4,885.6Z" fill="#ff00ff"/><path d="M1196.4,907.6L1206,907.6L1201.2,897.8Z" fill="#fff"/>
<path d="M1187.6,915.8L1221.3,915.8L1207.3,885.5L1201.6,885.5Z" fill="#ff00ff"/><path d="M1199.7,907.5L1209.3,907.5L1204.5,897.7Z" fill="#fff"/>
<path d="M1190.8,915.7L1224.5,915.7L1210.5,885.4L1204.8,885.4Z" fill="#ff00ff"/><path d="M1202.9,907.4L1212.5,907.4L1207.7,897.6Z" fill="#fff"/>
<path d="M1194.1,915.5L1227.8,915.5L1213.8,885.2L1208.1,885.2Z" fill="#ff00ff"/><path d="M1206.1,907.2L1215.7,907.2L1210.9,897.4Z" fill="#fff"/>
<path d="M1197.3,915.4L1231,915.4L1217,885.1L1211.3,885.1Z" fill="#ff00ff"/><path d="M1209.3,907.1L1218.9,907.1L1214.1,897.3Z" fill="#fff"/>
<path d="M1200.5,915.2L1234.2,915.2L1220.2,884.9L1214.5,884.9Z" fill="#ff00ff"/><path d="M1212.6,906.9L1222.2,906.9L1217.4,897.1Z" fill="#fff"/>
<path d="M1203.7,915L1237.4,915L1223.4,884.7L1217.7,884.7Z" fill="#ff00ff"/><path d="M1215.8,906.7L1225.4,906.7L1220.6,896.9Z" fill="#fff"/>
<path d="M1207,914.9L1240.7,914.9L1226.7,884.6L1221,884.6Z" fill="#ff00ff"/><path d="M1219,906.6L1228.6,906.6L1223.8,896.8Z" fill="#fff"/>
<path d="M1210.2,914.7L1243.9,914.7L1229.9,884.4L1224.2,884.4Z" fill="#ff00ff"/><path d="M1222.2,906.4L1231.8,906.4L1227,896.6Z" fill="#fff"/>
<path d="M1213.4,914.5L1247.1,914.5L1233.1,884.2L1227.4,884.2Z" fill="#ff00ff"/><path d="M1225.5,906.2L1235.1,906.2L1230.3,896.4Z" fill="#fff"/>
<path d="M1216.6,914.4L1250.3,914.4L1236.3,884.1L1230.6,884.1Z" fill="#ff00ff"/><path d="M1228.7,906.1L1238.3,906.1L1233.5,896.3Z" fill="#fff"/>
<path d="M1219.9,914.2L1253.6,914.2L1239.6,883.9L1233.9,883.9Z" fill="#ff00ff"/><path d="M1231.9,905.9L1241.5,905.9L1236.7,896.1Z" fill="#fff"/>
<path d="M1223.1,914L1256.8,914L1242.8,883.7L1237.1,883.7Z" fill="#ff00ff"/><path d="M1235.2,905.7L1244.8,905.7L1240,895.9Z" fill="#fff"/>
<path d="M1226.3,913.9L1260,913.9L1246,883.6L1240.3,883.6Z" fill="#ff00ff"/><path d="M1238.4,905.6L1248,905.6L1243.2,895.8Z" fill="#fff"/>
<path d="M1229.6,913.7L1263.3,913.7L1249.3,883.4L1243.6,883.4Z" fill="#ff00ff"/><path d="M1241.6,905.4L1251.2,905.4L1246.4,895.6Z" fill="#fff"/>
<path d="M1232.8,913.5L1266.5,913.5L1252.5,883.2L1246.8,883.2Z" fill="#ff00ff"/><path d="M1244.8,905.2L1254.4,905.2L1249.6,895.4Z" fill="#fff"/>
<path d="M1236,913.4L1269.7,913.4L1255.7,883.1L1250,883.1Z" fill="#ff00ff"/><path d="M1248.1,905.1L1257.7,905.1L1252.9,895.3Z" fill="#fff"/>
<path d="M1239.2,913.2L1272.9,913.2L1258.9,882.9L1253.2,882.9Z" fill="#ff00ff"/><path d="M1251.3,904.9L1260.9,904.9L1256.1,895.1Z" fill="#fff"/>
<path d="M1242.5,913L1276.2,913L1262.2,882.7L1256.5,882.7Z" fill="#ff00ff"/><path d="M1254.5,904.7L1264.1,904.7L1259.3,894.9Z" fill="#fff"/>
<path d="M1245.7,912.9L1279.4,912.9L1265.4,882.6L1259.7,882.6Z" fill="#ff00ff"/><path d="M1257.7,904.6L1267.3,904.6L1262.5,894.8Z" fill="#fff"/>
<path d="M1248.9,912.7L1282.6,912.7L1268.6,882.4L1262.9,882.4Z" fill="#ff00ff"/><path d="M1261,904.4L1270.6,904.4L1265.8,894.6Z" fill="#fff"/>
<path d="M1252.1,912.5L1285.8,912.5L1271.8,882.2L1266.1,882.2Z" fill="#ff00ff"/><path d="M1264.2,904.2L1273.8,904.2L1269,894.4Z" fill="#fff"/>
<path d="M1255.4,912.3L1289.1,912.3L1275.1,882L1269.4,882Z" fill="#ff00ff"/><path d="M1267.4,904L1277,904L1272.2,894.2Z" fill="#fff"/>
<path d="M1258.6,912.2L1292.3,912.2L1278.3,881.9L1272.6,881.9Z" fill="#ff00ff"/><path d="M1270.6,903.9L1280.2,903.9L1275.4,894.1Z" fill="#fff"/>
<path d="M1261.8,912L1295.5,912L1281.5,881.7L1275.8,881.7Z" fill="#ff00ff"/><path d="M1273.9,903.7L1283.5,903.7L1278.7,893.9Z" fill="#fff"/>
<path d="M1265,911.8L1298.7,911.8L1284.7,881.5L1279,881.5Z" fill="#ff00ff"/><path d="M1277.1,903.5L1286.7,903.5L1281.9,893.7Z" fill="#fff"/>
<path d="M1268.3,911.7L1302,911.7L1288,881.4L1282.3,881.4Z" fill="#ff00ff"/><path d="M1280.3,903.4L1289.9,903.4L1285.1,893.6Z" fill="#fff"/>
<path d="M1271.5,911.5L1305.2,911.5L1291.2,881.2L1285.5,881.2Z" fill="#ff00ff"/><path d="M1283.5,903.2L1293.1,903.2L1288.3,893.4Z" fill="#fff"/>
<path d="M1274.7,911.3L1308.4,911.3L1294.4,881L1288.7,881Z" fill="#ff00ff"/><path d="M1286.8,903L1296.4,903L1291.6,893.2Z" fill="#fff"/>
<path d="M1277.9,911.2L1311.6,911.2L1297.6,880.9L1291.9,880.9Z" fill="#ff00ff"/><path d="M1290,902.9L1299.6,902.9L1294.8,893.1Z" fill="#fff"/>
<path d="M1281.2,911L1314.9,911L1300.9,880.7L1295.2,880.7Z" fill="#ff00ff"/><path d="M1293.2,902.7L1302.8,902.7L1298,892.9Z" fill="#fff"/>
<path d="M1284.4,910.6L1318.1,910.6L1304.1,880.3L1298.4,880.3Z" fill="#ff00ff"/><path d="M1296.4,902.3L1306,902.3L1301.2,892.5Z" fill="#fff"/>
<path d="M1287.6,910.1L1321.3,910.1L1307.3,879.8L1301.6,879.8Z" fill="#ff00ff"/><path d="M1299.7,901.8L1309.3,901.8L1304.5,892Z" fill="#fff"/>
<path d="M1290.8,909.6L1324.5,909.6L1310.5,879.3L1304.8,879.3Z" fill="#ff00ff"/><path d="M1302.9,901.3L1312.5,901.3L1307.7,891.5Z" fill="#fff"/>
<path d="M1294.1,909.1L1327.8,909.1L1313.8,878.8L1308.1,878.8Z" fill="#ff00ff"/><path d="M1306.1,900.8L1315.7,900.8L1310.9,891Z" fill="#fff"/>
<path d="M1297.3,908.6L1331,908.6L1317,878.3L1311.3,878.3Z" fill="#ff00ff"/><path d="M1309.3,900.3L1318.9,900.3L1314.1,890.5Z" fill="#fff"/>
<path d="M1300.5,908.1L1334.2,908.1L1320.2,877.8L1314.5,877.8Z" fill="#ff00ff"/><path d="M1312.6,899.8L1322.2,899.8L1317.4,890Z" fill="#fff"/>
<path d="M1303.8,907.6L1337.5,907.6L1323.5,877.3L1317.8,877.3Z" fill="#ff00ff"/><path d="M1315.8,899.3L1325.4,899.3L1320.6,889.5Z" fill="#fff"/>
<path d="M1307,907.1L1340.7,907.1L1326.7,876.8L1321,876.8Z" fill="#ff00ff"/><path d="M1319,898.8L1328.6,898.8L1323.8,889Z" fill="#fff"/>
<path d="M1310.2,906.6L1343.9,906.6L1329.9,876.3L1324.2,876.3Z" fill="#ff00ff"/><path d="M1322.3,898.3L1331.9,898.3L1327.1,888.5Z" fill="#fff"/>
<path d="M1313.4,905L1347.1,905L1333.1,874.7L1327.4,874.7Z" fill="#ff00ff"/><path d="M1325.5,896.7L1335.1,896.7L1330.3,886.9Z" fill="#fff"/>
<path d="M1316.7,903.2L1350.4,903.2L1336.4,872.9L1330.7,872.9Z" fill="#ff00ff"/><path d="M1328.7,894.9L1338.3,894.9L1333.5,885.1Z" fill="#fff"/>
<path d="M1319.9,884.3L1353.6,884.3L1339.6,854L1333.9,854Z" fill="#ff00ff"/><path d="M1331.9,876L1341.5,876L1336.7,866.2Z" fill="#fff"/>
<path d="M1320.5,877.3L1354.2,877.3L1340.2,847L1334.5,847Z" fill="#ff00ff"/><path d="M1332.5,869L1342.1,869L1337.3,859.2Z" fill="#fff"/>
<path d="M1323.9,836.8L1357.6,836.8L1343.6,806.5L1337.9,806.5Z" fill="#ff00ff"/><path d="M1335.9,828.5L1345.5,828.5L1340.7,818.7Z" fill="#fff"/>
<path d="M1327.3,794.1L1361,794.1L1347,763.8L1341.3,763.8Z" fill="#ff00ff"/><path d="M1339.3,785.8L1348.9,785.8L1344.1,776Z" fill="#fff"/>
<path d="M1330.7,738.2L1364.4,738.2L1350.4,707.9L1344.7,707.9Z" fill="#ff00ff"/><path d="M1342.7,729.9L1352.3,729.9L1347.5,720.1Z" fill="#fff"/>
<path d="M1335.2,682L1368.9,682L1354.9,651.7L1349.2,651.7Z" fill="#ff00ff"/><path d="M1347.2,673.7L1356.8,673.7L1352,663.9Z" fill="#fff"/>
<path d="M1336.2,632.6L1369.9,632.6L1355.9,602.3L1350.2,602.3Z" fill="#ff00ff"/><path d="M1348.3,624.3L1357.9,624.3L1353.1,614.5Z" fill="#fff"/>
<path d="M1338.6,592.2L1372.3,592.2L1358.3,561.9L1352.6,561.9Z" fill="#ff00ff"/><path d="M1350.6,583.9L1360.2,583.9L1355.4,574.1Z" fill="#fff"/>
<path d="M1343,556.2L1376.7,556.2L1362.7,525.9L1357,525.9Z" fill="#ff00ff"/><path d="M1355.1,547.9L1364.7,547.9L1359.9,538.1Z" fill="#fff"/>
<path d="M1345.2,531.2L1378.9,531.2L1364.9,500.9L1359.2,500.9Z" fill="#ff00ff"/><path d="M1357.3,522.9L1366.9,522.9L1362.1,513.1Z" fill="#fff"/>
<path d="M1349.8,511L1383.5,511L1369.5,480.7L1363.8,480.7Z" fill="#ff00ff"/><path d="M1361.9,502.7L1371.5,502.7L1366.7,492.9Z" fill="#fff"/>
<path d="M1352.1,504.8L1385.8,504.8L1371.8,474.5L1366.1,474.5Z" fill="#ff00ff"/><path d="M1364.2,496.5L1373.8,496.5L1369,486.7Z" fill="#fff"/>
<path d="M1355.4,495.1L1389.1,495.1L1375.1,464.8L1369.4,464.8Z" fill="#ff00ff"/><path d="M1367.4,486.8L1377,486.8L1372.2,477Z" fill="#fff"/>
<path d="M1358.6,486L1392.3,486L1378.3,455.7L1372.6,455.7Z" fill="#ff00ff"/><path d="M1370.6,477.7L1380.2,477.7L1375.4,467.9Z" fill="#fff"/>
<path d="M1361.8,480.6L1395.5,480.6L1381.5,450.3L1375.8,450.3Z" fill="#ff00ff"/><path d="M1373.9,472.3L1383.5,472.3L1378.7,462.5Z" fill="#fff"/>
<path d="M1365,477L1398.7,477L1384.7,446.7L1379,446.7Z" fill="#ff00ff"/><path d="M1377.1,468.7L1386.7,468.7L1381.9,458.9Z" fill="#fff"/>
<path d="M1368.3,475L1402,475L1388,444.7L1382.3,444.7Z" fill="#ff00ff"/><path d="M1380.3,466.7L1389.9,466.7L1385.1,456.9Z" fill="#fff"/>
<path d="M1371.5,473L1405.2,473L1391.2,442.7L1385.5,442.7Z" fill="#ff00ff"/><path d="M1383.5,464.7L1393.1,464.7L1388.3,454.9Z" fill="#fff"/>
<path d="M1374.7,470.9L1408.4,470.9L1394.4,440.6L1388.7,440.6Z" fill="#ff00ff"/><path d="M1386.8,462.6L1396.4,462.6L1391.6,452.8Z" fill="#fff"/>
<path d="M1377.9,469.4L1411.6,469.4L1397.6,439.1L1391.9,439.1Z" fill="#ff00ff"/><path d="M1390,461.1L1399.6,461.1L1394.8,451.3Z" fill="#fff"/>
<path d="M1381.2,467.9L1414.9,467.9L1400.9,437.6L1395.2,437.6Z" fill="#ff00ff"/><path d="M1393.2,459.6L1402.8,459.6L1398,449.8Z" fill="#fff"/>
<path d="M1384.4,466.3L1418.1,466.3L1404.1,436L1398.4,436Z" fill="#ff00ff"/><path d="M1396.5,458L1406.1,458L1401.3,448.2Z" fill="#fff"/>
<path d="M1387.6,464.8L1421.3,464.8L1407.3,434.5L1401.6,434.5Z" fill="#ff00ff"/><path d="M1399.7,456.5L1409.3,456.5L1404.5,446.7Z" fill="#fff"/>
<path d="M1390.9,464.3L1424.6,464.3L1410.6,434L1404.9,434Z" fill="#ff00ff"/><path d="M1402.9,456L1412.5,456L1407.7,446.2Z" fill="#fff"/>
<path d="M1394.1,464L1427.8,464L1413.8,433.7L1408.1,433.7Z" fill="#ff00ff"/><path d="M1406.1,455.7L1415.7,455.7L1410.9,445.9Z" fill="#fff"/>
<path d="M1397.3,463.8L1431,463.8L1417,433.5L1411.3,433.5Z" fill="#ff00ff"/><path d="M1409.4,455.5L1419,455.5L1414.2,445.7Z" fill="#fff"/>
<path d="M1400.5,463.5L1434.2,463.5L1420.2,433.2L1414.5,433.2Z" fill="#ff00ff"/><path d="M1412.6,455.2L1422.2,455.2L1417.4,445.4Z" fill="#fff"/>
<path d="M1403.8,463.2L1437.5,463.2L1423.5,432.9L1417.8,432.9Z" fill="#ff00ff"/><path d="M1415.8,454.9L1425.4,454.9L1420.6,445.1Z" fill="#fff"/>
<path d="M1407,463L1440.7,463L1426.7,432.7L1421,432.7Z" fill="#ff00ff"/><path d="M1419,454.7L1428.6,454.7L1423.8,444.9Z" fill="#fff"/>
<path d="M1410.2,462.7L1443.9,462.7L1429.9,432.4L1424.2,432.4Z" fill="#ff00ff"/><path d="M1422.3,454.4L1431.9,454.4L1427.1,444.6Z" fill="#fff"/>
<path d="M1413.4,462.5L1447.1,462.5L1433.1,432.2L1427.4,432.2Z" fill="#ff00ff"/><path d="M1425.5,454.2L1435.1,454.2L1430.3,444.4Z" fill="#fff"/>
<path d="M1416.7,462.2L1450.4,462.2L1436.4,431.9L1430.7,431.9Z" fill="#ff00ff"/><path d="M1428.7,453.9L1438.3,453.9L1433.5,444.1Z" fill="#fff"/>
<path d="M1419.9,461.9L1453.6,461.9L1439.6,431.6L1433.9,431.6Z" fill="#ff00ff"/><path d="M1431.9,453.6L1441.5,453.6L1436.7,443.8Z" fill="#fff"/>
<path d="M1423.1,461.5L1456.8,461.5L1442.8,431.2L1437.1,431.2Z" fill="#ff00ff"/><path d="M1435.2,453.2L1444.8,453.2L1440,443.4Z" fill="#fff"/>
<path d="M1426.3,461.2L1460,461.2L1446,430.9L1440.3,430.9Z" fill="#ff00ff"/><path d="M1438.4,452.9L1448,452.9L1443.2,443.1Z" fill="#fff"/>
<path d="M1429.6,460.9L1463.3,460.9L1449.3,430.6L1443.6,430.6Z" fill="#ff00ff"/><path d="M1441.6,452.6L1451.2,452.6L1446.4,442.8Z" fill="#fff"/>
<path d="M1432.8,460.5L1466.5,460.5L1452.5,430.2L1446.8,430.2Z" fill="#ff00ff"/><path d="M1444.8,452.2L1454.4,452.2L1449.6,442.4Z" fill="#fff"/>
<path d="M1436,460.2L1469.7,460.2L1455.7,429.9L1450,429.9Z" fill="#ff00ff"/><path d="M1448.1,451.9L1457.7,451.9L1452.9,442.1Z" fill="#fff"/>
<path d="M1439.2,459.9L1472.9,459.9L1458.9,429.6L1453.2,429.6Z" fill="#ff00ff"/><path d="M1451.3,451.6L1460.9,451.6L1456.1,441.8Z" fill="#fff"/>
<path d="M1442.5,459.5L1476.2,459.5L1462.2,429.2L1456.5,429.2Z" fill="#ff00ff"/><path d="M1454.5,451.2L1464.1,451.2L1459.3,441.4Z" fill="#fff"/>
<path d="M1445.7,459.2L1479.4,459.2L1465.4,428.9L1459.7,428.9Z" fill="#ff00ff"/><path d="M1457.7,450.9L1467.3,450.9L1462.5,441.1Z" fill="#fff"/>
<path d="M1448.9,458.9L1482.6,458.9L1468.6,428.6L1462.9,428.6Z" fill="#ff00ff"/><path d="M1461,450.6L1470.6,450.6L1465.8,440.8Z" fill="#fff"/>
<path d="M1452.1,458.5L1485.8,458.5L1471.8,428.2L1466.1,428.2Z" fill="#ff00ff"/><path d="M1464.2,450.2L1473.8,450.2L1469,440.4Z" fill="#fff"/>
<path d="M1455.4,458.2L1489.1,458.2L1475.1,427.9L1469.4,427.9Z" fill="#ff00ff"/><path d="M1467.4,449.9L1477,449.9L1472.2,440.1Z" fill="#fff"/>
<path d="M1458.6,457.9L1492.3,457.9L1478.3,427.6L1472.6,427.6Z" fill="#ff00ff"/><path d="M1470.6,449.6L1480.2,449.6L1475.4,439.8Z" fill="#fff"/>
<path d="M1461.8,457.5L1495.5,457.5L1481.5,427.2L1475.8,427.2Z" fill="#ff00ff"/><path d="M1473.9,449.2L1483.5,449.2L1478.7,439.4Z" fill="#fff"/>
<path d="M1465.1,457.3L1498.8,457.3L1484.8,427L1479.1,427Z" fill="#ff00ff"/><path d="M1477.1,449L1486.7,449L1481.9,439.2Z" fill="#fff"/>
<path d="M1468.3,457.1L1502,457.1L1488,426.8L1482.3,426.8Z" fill="#ff00ff"/><path d="M1480.3,448.8L1489.9,448.8L1485.1,439Z" fill="#fff"/>
<path d="M1471.5,456.9L1505.2,456.9L1491.2,426.6L1485.5,426.6Z" fill="#ff00ff"/><path d="M1483.6,448.6L1493.2,448.6L1488.4,438.8Z" fill="#fff"/>
<path d="M1474.7,456.8L1508.4,456.8L1494.4,426.5L1488.7,426.5Z" fill="#ff00ff"/><path d="M1486.8,448.5L1496.4,448.5L1491.6,438.7Z" fill="#fff"/>
<path d="M1478,456.6L1511.7,456.6L1497.7,426.3L1492,426.3Z" fill="#ff00ff"/><path d="M1490,448.3L1499.6,448.3L1494.8,438.5Z" fill="#fff"/>
<path d="M1481.2,456.5L1514.9,456.5L1500.9,426.2L1495.2,426.2Z" fill="#ff00ff"/><path d="M1493.2,448.2L1502.8,448.2L1498,438.4Z" fill="#fff"/>
<path d="M1484.4,456.3L1518.1,456.3L1504.1,426L1498.4,426Z" fill="#ff00ff"/><path d="M1496.5,448L1506.1,448L1501.3,438.2Z" fill="#fff"/>
<path d="M1487.6,456.1L1521.3,456.1L1507.3,425.8L1501.6,425.8Z" fill="#ff00ff"/><path d="M1499.7,447.8L1509.3,447.8L1504.5,438Z" fill="#fff"/>
<path d="M1490.9,456L1524.6,456L1510.6,425.7L1504.9,425.7Z" fill="#ff00ff"/><path d="M1502.9,447.7L1512.5,447.7L1507.7,437.9Z" fill="#fff"/>
<path d="M1494.1,455.8L1527.8,455.8L1513.8,425.5L1508.1,425.5Z" fill="#ff00ff"/><path d="M1506.1,447.5L1515.7,447.5L1510.9,437.7Z" fill="#fff"/>
<path d="M1497.3,455.7L1531,455.7L1517,425.4L1511.3,425.4Z" fill="#ff00ff"/><path d="M1509.4,447.4L1519,447.4L1514.2,437.6Z" fill="#fff"/>
<path d="M1500.5,455.5L1534.2,455.5L1520.2,425.2L1514.5,425.2Z" fill="#ff00ff"/><path d="M1512.6,447.2L1522.2,447.2L1517.4,437.4Z" fill="#fff"/>
<path d="M1503.8,455.3L1537.5,455.3L1523.5,425L1517.8,425Z" fill="#ff00ff"/><path d="M1515.8,447L1525.4,447L1520.6,437.2Z" fill="#fff"/>
<path d="M1507,455.2L1540.7,455.2L1526.7,424.9L1521,424.9Z" fill="#ff00ff"/><path d="M1519,446.9L1528.6,446.9L1523.8,437.1Z" fill="#fff"/>
<path d="M1510.2,455L1543.9,455L1529.9,424.7L1524.2,424.7Z" fill="#ff00ff"/><path d="M1522.3,446.7L1531.9,446.7L1527.1,436.9Z" fill="#fff"/>
<path d="M1513.4,454.9L1547.1,454.9L1533.1,424.6L1527.4,424.6Z" fill="#ff00ff"/><path d="M1525.5,446.6L1535.1,446.6L1530.3,436.8Z" fill="#fff"/>
<path d="M1516.7,454.7L1550.4,454.7L1536.4,424.4L1530.7,424.4Z" fill="#ff00ff"/><path d="M1528.7,446.4L1538.3,446.4L1533.5,436.6Z" fill="#fff"/>
<path d="M1519.9,454.5L1553.6,454.5L1539.6,424.2L1533.9,424.2Z" fill="#ff00ff"/><path d="M1531.9,446.2L1541.5,446.2L1536.7,436.4Z" fill="#fff"/>
<path d="M1523.1,454.4L1556.8,454.4L1542.8,424.1L1537.1,424.1Z" fill="#ff00ff"/><path d="M1535.2,446.1L1544.8,446.1L1540,436.3Z" fill="#fff"/>
<path d="M1526.3,454.2L1560,454.2L1546,423.9L1540.3,423.9Z" fill="#ff00ff"/><path d="M1538.4,445.9L1548,445.9L1543.2,436.1Z" fill="#fff"/>
<path d="M1529.6,454.1L1563.3,454.1L1549.3,423.8L1543.6,423.8Z" fill="#ff00ff"/><path d="M1541.6,445.8L1551.2,445.8L1546.4,436Z" fill="#fff"/>
<path d="M1532.8,453.9L1566.5,453.9L1552.5,423.6L1546.8,423.6Z" fill="#ff00ff"/><path d="M1544.8,445.6L1554.4,445.6L1549.6,435.8Z" fill="#fff"/>
<path d="M1536,453.7L1569.7,453.7L1555.7,423.4L1550,423.4Z" fill="#ff00ff"/><path d="M1548.1,445.4L1557.7,445.4L1552.9,435.6Z" fill="#fff"/>
<path d="M1539.2,453.6L1572.9,453.6L1558.9,423.3L1553.2,423.3Z" fill="#ff00ff"/><path d="M1551.3,445.3L1560.9,445.3L1556.1,435.5Z" fill="#fff"/>
<path d="M1542.5,453.4L1576.2,453.4L1562.2,423.1L1556.5,423.1Z" fill="#ff00ff"/><path d="M1554.5,445.1L1564.1,445.1L1559.3,435.3Z" fill="#fff"/>
<path d="M1545.7,453.3L1579.4,453.3L1565.4,423L1559.7,423Z" fill="#ff00ff"/><path d="M1557.8,445L1567.4,445L1562.6,435.2Z" fill="#fff"/>
<path d="M1548.9,453.1L1582.6,453.1L1568.6,422.8L1562.9,422.8Z" fill="#ff00ff"/><path d="M1561,444.8L1570.6,444.8L1565.8,435Z" fill="#fff"/>
<path d="M1552.2,452.9L1585.9,452.9L1571.9,422.6L1566.2,422.6Z" fill="#ff00ff"/><path d="M1564.2,444.6L1573.8,444.6L1569,434.8Z" fill="#fff"/>
<path d="M1555.4,452.8L1589.1,452.8L1575.1,422.5L1569.4,422.5Z" fill="#ff00ff"/><path d="M1567.4,444.5L1577,444.5L1572.2,434.7Z" fill="#fff"/>
<path d="M1558.6,452.6L1592.3,452.6L1578.3,422.3L1572.6,422.3Z" fill="#ff00ff"/><path d="M1570.7,444.3L1580.3,444.3L1575.5,434.5Z" fill="#fff"/>
<path d="M1561.8,452.5L1595.5,452.5L1581.5,422.2L1575.8,422.2Z" fill="#ff00ff"/><path d="M1573.9,444.2L1583.5,444.2L1578.7,434.4Z" fill="#fff"/>
<path d="M1565.1,452.3L1598.8,452.3L1584.8,422L1579.1,422Z" fill="#ff00ff"/><path d="M1577.1,444L1586.7,444L1581.9,434.2Z" fill="#fff"/>
<path d="M1568.3,452.1L1602,452.1L1588,421.8L1582.3,421.8Z" fill="#ff00ff"/><path d="M1580.3,443.8L1589.9,443.8L1585.1,434Z" fill="#fff"/>
<path d="M1571.5,452L1605.2,452L1591.2,421.7L1585.5,421.7Z" fill="#ff00ff"/><path d="M1583.6,443.7L1593.2,443.7L1588.4,433.9Z" fill="#fff"/>
<path d="M1574.7,451.8L1608.4,451.8L1594.4,421.5L1588.7,421.5Z" fill="#ff00ff"/><path d="M1586.8,443.5L1596.4,443.5L1591.6,433.7Z" fill="#fff"/>
<path d="M1578,451.7L1611.7,451.7L1597.7,421.4L1592,421.4Z" fill="#ff00ff"/><path d="M1590,443.4L1599.6,443.4L1594.8,433.6Z" fill="#fff"/>
<path d="M1581.2,451.5L1614.9,451.5L1600.9,421.2L1595.2,421.2Z" fill="#ff00ff"/><path d="M1593.2,443.2L1602.8,443.2L1598,433.4Z" fill="#fff"/>
<path d="M1584.4,451.3L1618.1,451.3L1604.1,421L1598.4,421Z" fill="#ff00ff"/><path d="M1596.5,443L1606.1,443L1601.3,433.2Z" fill="#fff"/>
<path d="M1587.6,451.2L1621.3,451.2L1607.3,420.9L1601.6,420.9Z" fill="#ff00ff"/><path d="M1599.7,442.9L1609.3,442.9L1604.5,433.1Z" fill="#fff"/>
<path d="M1590.9,451L1624.6,451L1610.6,420.7L1604.9,420.7Z" fill="#ff00ff"/><path d="M1602.9,442.7L1612.5,442.7L1607.7,432.9Z" fill="#fff"/>
<path d="M1594.1,450.9L1627.8,450.9L1613.8,420.6L1608.1,420.6Z" fill="#ff00ff"/><path d="M1606.1,442.6L1615.7,442.6L1610.9,432.8Z" fill="#fff"/>
<path d="M1597.3,450.7L1631,450.7L1617,420.4L1611.3,420.4Z" fill="#ff00ff"/><path d="M1609.4,442.4L1619,442.4L1614.2,432.6Z" fill="#fff"/>
<path d="M1600.5,450.5L1634.2,450.5L1620.2,420.2L1614.5,420.2Z" fill="#ff00ff"/><path d="M1612.6,442.2L1622.2,442.2L1617.4,432.4Z" fill="#fff"/>
<path d="M1603.8,450.4L1637.5,450.4L1623.5,420.1L1617.8,420.1Z" fill="#ff00ff"/><path d="M1615.8,442.1L1625.4,442.1L1620.6,432.3Z" fill="#fff"/>
<path d="M1607,450.2L1640.7,450.2L1626.7,419.9L1621,419.9Z" fill="#ff00ff"/><path d="M1619,441.9L1628.6,441.9L1623.8,432.1Z" fill="#fff"/>
<path d="M1610.2,450.1L1643.9,450.1L1629.9,419.8L1624.2,419.8Z" fill="#ff00ff"/><path d="M1622.3,441.8L1631.9,441.8L1627.1,432Z" fill="#fff"/>
<path d="M1613.4,449.9L1647.1,449.9L1633.1,419.6L1627.4,419.6Z" fill="#ff00ff"/><path d="M1625.5,441.6L1635.1,441.6L1630.3,431.8Z" fill="#fff"/>
<path d="M1616.7,449.7L1650.4,449.7L1636.4,419.4L1630.7,419.4Z" fill="#ff00ff"/><path d="M1628.7,441.4L1638.3,441.4L1633.5,431.6Z" fill="#fff"/>
<polyline points="2267.8,607.2 1913.8,618.8 1327.5,651.1 741.2,692.5 387.2,704" fill="none" stroke="#00875a" stroke-width="6" stroke-linejoin="round"/>
<polyline points="387.2,708.9 741.2,697.3 1327.5,669.2 1913.8,637.1 2267.8,617" fill="none" stroke="#00875a" stroke-width="6" stroke-linejoin="round"/>
<path d="M737,679.5L745.5,679.5L757.1,690.9L757.1,699.3L745.5,710.7L737,710.7L725.4,699.3L725.4,690.9Z" fill="#009000"/><path d="M741.2,688.1L748.3,695.1L741.2,702.2L734.2,695.1Z" fill="#fff"/>
<path d="M1323.3,635.5L1331.7,635.5L1343.4,646.9L1343.4,655.3L1331.7,666.7L1323.3,666.7L1311.6,655.3L1311.6,646.9Z" fill="#009000"/><path d="M1327.5,644L1334.5,651.1L1327.5,658.1L1320.5,651.1Z" fill="#fff"/>
<path d="M1323.3,653.6L1331.7,653.6L1343.4,665L1343.4,673.4L1331.7,684.8L1323.3,684.8L1311.6,673.4L1311.6,665Z" fill="#009000"/><path d="M1327.5,662.2L1334.5,669.2L1327.5,676.3L1320.5,669.2Z" fill="#fff"/>
<path d="M1909.5,603.6L1918,603.6L1929.7,615L1929.7,623.4L1918,634.8L1909.5,634.8L1897.8,623.4L1897.8,615Z" fill="#009000"/><path d="M1913.8,612.1L1920.8,619.2L1913.8,626.2L1906.7,619.2Z" fill="#fff"/>
<path d="M1909.5,621.5L1918,621.5L1929.7,632.9L1929.7,641.3L1918,652.7L1909.5,652.7L1897.8,641.3L1897.8,632.9Z" fill="#009000"/><path d="M1913.8,630L1920.8,637.1L1913.8,644.1L1906.7,637.1Z" fill="#fff"/>
</g>
<path d="M389.5,1350.4H2265.5M2265.5,1350.4V2570.3M2265.5,2570.3H389.5M389.5,2570.3V1350.4" fill="none" stroke="#000" stroke-width="8" stroke-linecap="butt"/>
<line x1="389.5" y1="1960.4" x2="2265.5" y2="1960.4" stroke="#000" stroke-width="8"/>
<line x1="1327.5" y1="1350.4" x2="1327.5" y2="2570.3" stroke="#000" stroke-width="8"/>
<path d="M448.1,1350.4V1388.4M448.1,2570.3V2532.3M594.7,1350.4V1367.9M594.7,2570.3V2552.8M741.2,1350.4V1388.4M741.2,2570.3V2532.3M887.8,1350.4V1367.9M887.8,2570.3V2552.8M1034.4,1350.4V1388.4M1034.4,2570.3V2532.3M1180.9,1350.4V1367.9M1180.9,2570.3V2552.8M1327.5,1350.4V1388.4M1327.5,2570.3V2532.3M1474.1,1350.4V1367.9M1474.1,2570.3V2552.8M1620.6,1350.4V1388.4M1620.6,2570.3V2532.3M1767.2,1350.4V1367.9M1767.2,2570.3V2552.8M1913.8,1350.4V1388.4M1913.8,2570.3V2532.3M2060.3,1350.4V1367.9M2060.3,2570.3V2552.8M2206.9,1350.4V1388.4M2206.9,2570.3V2532.3M389.5,2448.4H429.5M2265.5,2448.4H2225.5M389.5,2326.4H409.5M2265.5,2326.4H2245.5M389.5,2204.4H429.5M2265.5,2204.4H2225.5M389.5,2082.4H409.5M2265.5,2082.4H2245.5M389.5,1838.3H409.5M2265.5,1838.3H2245.5M389.5,1716.3H429.5M2265.5,1716.3H2225.5M389.5,1594.3H409.5M2265.5,1594.3H2245.5M389.5,1472.3H429.5M2265.5,1472.3H2225.5" stroke="#000" stroke-width="8" fill="none"/>
<clipPath id="cb"><rect x="389.3" y="1348.1" width="1878.5" height="1224.5"/></clipPath>
<g clip-path="url(#cb)">
<polyline points="2324.1,1457.7 2265.5,1458.2 2148.2,1460.1 2031,1469.5 1913.8,1458.2 1796.5,1458.2 1679.2,1466.2 1562,1460.1 1444.8,1474.8 1327.5,1480.9 1210.2,2467.2 1093,2482.6 975.8,2484.5 858.5,2485.6 741.2,2484.5 624,2488.5 506.7,2486.8 389.5,2485.6 330.9,2485" fill="none" stroke="#0000ff" stroke-width="6" stroke-linejoin="round"/>
<polyline points="330.9,2460.6 389.5,2468.3 506.7,2500 624,2416.4 741.2,2496 858.5,2485.6 975.8,2497.2 1093,2482.6 1210.2,2481 1327.5,2462.5 1444.8,1477.4 1562,1460.1 1679.2,1502.8 1796.5,1472.8 1913.8,1463 2031,1469.5 2148.2,1474.8 2265.5,1458.2 2324.1,1457.7" fill="none" stroke="#0000ff" stroke-width="6" stroke-linejoin="round"/>
<circle cx="2324.1" cy="1457.7" r="10" fill="#fff" stroke="#0000ff" stroke-width="8"/>
<circle cx="2265.5" cy="1458.2" r="10" fill="#fff" stroke="#0000ff" stroke-width="8"/>
<circle cx="2148.2" cy="1460.1" r="10" fill="#fff" stroke="#0000ff" stroke-width="8"/>
<circle cx="2031" cy="1469.5" r="10" fill="#fff" stroke="#0000ff" stroke-width="8"/>
<circle cx="1913.8" cy="1458.2" r="10" fill="#fff" stroke="#0000ff" stroke-width="8"/>
<circle cx="1796.5" cy="1458.2" r="10" fill="#fff" stroke="#0000ff" stroke-width="8"/>
<circle cx="1679.2" cy="1466.2" r="10" fill="#fff" stroke="#0000ff" stroke-width="8"/>
<circle cx="1562" cy="1460.1" r="10" fill="#fff" stroke="#0000ff" stroke-width="8"/>
<circle cx="1444.8" cy="1474.8" r="10" fill="#fff" stroke="#0000ff" stroke-width="8"/>
<circle cx="1327.5" cy="1480.9" r="10" fill="#fff" stroke="#0000ff" stroke-width="8"/>
<circle cx="1210.2" cy="2467.2" r="10" fill="#fff" stroke="#0000ff" stroke-width="8"/>
<circle cx="1093" cy="2482.6" r="10" fill="#fff" stroke="#0000ff" stroke-width="8"/>
<circle cx="975.8" cy="2484.5" r="10" fill="#fff" stroke="#0000ff" stroke-width="8"/>
<circle cx="858.5" cy="2485.6" r="10" fill="#fff" stroke="#0000ff" stroke-width="8"/>
<circle cx="741.2" cy="2484.5" r="10" fill="#fff" stroke="#0000ff" stroke-width="8"/>
<circle cx="624" cy="2488.5" r="10" fill="#fff" stroke="#0000ff" stroke-width="8"/>
<circle cx="506.7" cy="2486.8" r="10" fill="#fff" stroke="#0000ff" stroke-width="8"/>
<circle cx="389.5" cy="2485.6" r="10" fill="#fff" stroke="#0000ff" stroke-width="8"/>
<circle cx="330.9" cy="2485" r="10" fill="#fff" stroke="#0000ff" stroke-width="8"/>
<circle cx="330.9" cy="2460.6" r="10" fill="#fff" stroke="#0000ff" stroke-width="8"/>
<circle cx="389.5" cy="2468.3" r="10" fill="#fff" stroke="#0000ff" stroke-width="8"/>
<circle cx="506.7" cy="2500" r="10" fill="#fff" stroke="#0000ff" stroke-width="8"/>
<circle cx="624" cy="2416.4" r="10" fill="#fff" stroke="#0000ff" stroke-width="8"/>
<circle cx="741.2" cy="2496" r="10" fill="#fff" stroke="#0000ff" stroke-width="8"/>
<circle cx="858.5" cy="2485.6" r="10" fill="#fff" stroke="#0000ff" stroke-width="8"/>
<circle cx="975.8" cy="2497.2" r="10" fill="#fff" stroke="#0000ff" stroke-width="8"/>
<circle cx="1093" cy="2482.6" r="10" fill="#fff" stroke="#0000ff" stroke-width="8"/>
<circle cx="1210.2" cy="2481" r="10" fill="#fff" stroke="#0000ff" stroke-width="8"/>
<circle cx="1327.5" cy="2462.5" r="10" fill="#fff" stroke="#0000ff" stroke-width="8"/>
<circle cx="1444.8" cy="1477.4" r="10" fill="#fff" stroke="#0000ff" stroke-width="8"/>
<circle cx="1562" cy="1460.1" r="10" fill="#fff" stroke="#0000ff" stroke-width="8"/>
<circle cx="1679.2" cy="1502.8" r="10" fill="#fff" stroke="#0000ff" stroke-width="8"/>
<circle cx="1796.5" cy="1472.8" r="10" fill="#fff" stroke="#0000ff" stroke-width="8"/>
<circle cx="1913.8" cy="1463" r="10" fill="#fff" stroke="#0000ff" stroke-width="8"/>
<circle cx="2031" cy="1469.5" r="10" fill="#fff" stroke="#0000ff" stroke-width="8"/>
<circle cx="2148.2" cy="1474.8" r="10" fill="#fff" stroke="#0000ff" stroke-width="8"/>
<circle cx="2265.5" cy="1458.2" r="10" fill="#fff" stroke="#0000ff" stroke-width="8"/>
<circle cx="2324.1" cy="1457.7" r="10" fill="#fff" stroke="#0000ff" stroke-width="8"/>
<polyline points="2324.1,1518.7 2265.5,1521.1 2206.9,1526 2148.2,1529.7 2089.6,1528.4 2031,1533.3 1972.4,1533.3 1913.8,1535.8 1855.1,1539.4 1796.5,1540.6 1737.9,1544.3 1679.2,1545.5 1620.6,1550.6 1562,1550.6 1503.4,1557 1444.8,1574.3 1386.1,1623.8 1327.5,1645.8 1268.9,1675.7 1210.2,2240.6 1151.6,2390.6 1093,2413.6 1034.4,2415.4 975.8,2417.9 917.1,2420.1 858.5,2417.9 799.9,2417.9 741.2,2417.9 682.6,2415.8 624,2414.5 565.4,2414.5 506.7,2411.8 448.1,2411.4 389.5,2409.3 330.9,2408.1" fill="none" stroke="#ff0000" stroke-width="6" stroke-linejoin="round"/>
<polyline points="330.9,2411.8 389.5,2413 448.1,2415.1 506.7,2415.4 565.4,2418.1 624,2418.1 682.6,2419.5 741.2,2421.5 799.9,2421.5 858.5,2421.5 917.1,2423.7 975.8,2421.5 1034.4,2419.1 1093,2417.3 1151.6,2410.6 1210.2,2379.1 1268.9,2267.8 1327.5,2207.2 1386.1,2072.4 1444.8,1633.1 1503.4,1567.5 1562,1554.3 1620.6,1554.3 1679.2,1549.2 1737.9,1548 1796.5,1544.3 1855.1,1543.1 1913.8,1539.4 1972.4,1537 2031,1537 2089.6,1532.1 2148.2,1533.3 2206.9,1529.7 2265.5,1524.8 2324.1,1522.3" fill="none" stroke="#ff0000" stroke-width="6" stroke-linejoin="round"/>
<circle cx="2324.1" cy="1518.7" r="8" fill="#fff" stroke="#ff0000" stroke-width="8"/>
<circle cx="2265.5" cy="1521.1" r="8" fill="#fff" stroke="#ff0000" stroke-width="8"/>
<circle cx="2206.9" cy="1526" r="8" fill="#fff" stroke="#ff0000" stroke-width="8"/>
<circle cx="2148.2" cy="1529.7" r="8" fill="#fff" stroke="#ff0000" stroke-width="8"/>
<circle cx="2089.6" cy="1528.4" r="8" fill="#fff" stroke="#ff0000" stroke-width="8"/>
<circle cx="2031" cy="1533.3" r="8" fill="#fff" stroke="#ff0000" stroke-width="8"/>
<circle cx="1972.4" cy="1533.3" r="8" fill="#fff" stroke="#ff0000" stroke-width="8"/>
<circle cx="1913.8" cy="1535.8" r="8" fill="#fff" stroke="#ff0000" stroke-width="8"/>
<circle cx="1855.1" cy="1539.4" r="8" fill="#fff" stroke="#ff0000" stroke-width="8"/>
<circle cx="1796.5" cy="1540.6" r="8" fill="#fff" stroke="#ff0000" stroke-width="8"/>
<circle cx="1737.9" cy="1544.3" r="8" fill="#fff" stroke="#ff0000" stroke-width="8"/>
<circle cx="1679.2" cy="1545.5" r="8" fill="#fff" stroke="#ff0000" stroke-width="8"/>
<circle cx="1620.6" cy="1550.6" r="8" fill="#fff" stroke="#ff0000" stroke-width="8"/>
<circle cx="1562" cy="1550.6" r="8" fill="#fff" stroke="#ff0000" stroke-width="8"/>
<circle cx="1503.4" cy="1557" r="8" fill="#fff" stroke="#ff0000" stroke-width="8"/>
<circle cx="1444.8" cy="1574.3" r="8" fill="#fff" stroke="#ff0000" stroke-width="8"/>
<circle cx="1386.1" cy="1623.8" r="8" fill="#fff" stroke="#ff0000" stroke-width="8"/>
<circle cx="1327.5" cy="1645.8" r="8" fill="#fff" stroke="#ff0000" stroke-width="8"/>
<circle cx="1268.9" cy="1675.7" r="8" fill="#fff" stroke="#ff0000" stroke-width="8"/>
<circle cx="1210.2" cy="2240.6" r="8" fill="#fff" stroke="#ff0000" stroke-width="8"/>
<circle cx="1151.6" cy="2390.6" r="8" fill="#fff" stroke="#ff0000" stroke-width="8"/>
<circle cx="1093" cy="2413.6" r="8" fill="#fff" stroke="#ff0000" stroke-width="8"/>
<circle cx="1034.4" cy="2415.4" r="8" fill="#fff" stroke="#ff0000" stroke-width="8"/>
<circle cx="975.8" cy="2417.9" r="8" fill="#fff" stroke="#ff0000" stroke-width="8"/>
<circle cx="917.1" cy="2420.1" r="8" fill="#fff" stroke="#ff0000" stroke-width="8"/>
<circle cx="858.5" cy="2417.9" r="8" fill="#fff" stroke="#ff0000" stroke-width="8"/>
<circle cx="799.9" cy="2417.9" r="8" fill="#fff" stroke="#ff0000" stroke-width="8"/>
<circle cx="741.2" cy="2417.9" r="8" fill="#fff" stroke="#ff0000" stroke-width="8"/>
<circle cx="682.6" cy="2415.8" r="8" fill="#fff" stroke="#ff0000" stroke-width="8"/>
<circle cx="624" cy="2414.5" r="8" fill="#fff" stroke="#ff0000" stroke-width="8"/>
<circle cx="565.4" cy="2414.5" r="8" fill="#fff" stroke="#ff0000" stroke-width="8"/>
<circle cx="506.7" cy="2411.8" r="8" fill="#fff" stroke="#ff0000" stroke-width="8"/>
<circle cx="448.1" cy="2411.4" r="8" fill="#fff" stroke="#ff0000" stroke-width="8"/>
<circle cx="389.5" cy="2409.3" r="8" fill="#fff" stroke="#ff0000" stroke-width="8"/>
<circle cx="330.9" cy="2408.1" r="8" fill="#fff" stroke="#ff0000" stroke-width="8"/>
<circle cx="330.9" cy="2411.8" r="8" fill="#fff" stroke="#ff0000" stroke-width="8"/>
<circle cx="389.5" cy="2413" r="8" fill="#fff" stroke="#ff0000" stroke-width="8"/>
<circle cx="448.1" cy="2415.1" r="8" fill="#fff" stroke="#ff0000" stroke-width="8"/>
<circle cx="506.7" cy="2415.4" r="8" fill="#fff" stroke="#ff0000" stroke-width="8"/>
<circle cx="565.4" cy="2418.1" r="8" fill="#fff" stroke="#ff0000" stroke-width="8"/>
<circle cx="624" cy="2418.1" r="8" fill="#fff" stroke="#ff0000" stroke-width="8"/>
<circle cx="682.6" cy="2419.5" r="8" fill="#fff" stroke="#ff0000" stroke-width="8"/>
<circle cx="741.2" cy="2421.5" r="8" fill="#fff" stroke="#ff0000" stroke-width="8"/>
<circle cx="799.9" cy="2421.5" r="8" fill="#fff" stroke="#ff0000" stroke-width="8"/>
<circle cx="858.5" cy="2421.5" r="8" fill="#fff" stroke="#ff0000" stroke-width="8"/>
<circle cx="917.1" cy="2423.7" r="8" fill="#fff" stroke="#ff0000" stroke-width="8"/>
<circle cx="975.8" cy="2421.5" r="8" fill="#fff" stroke="#ff0000" stroke-width="8"/>
<circle cx="1034.4" cy="2419.1" r="8" fill="#fff" stroke="#ff0000" stroke-width="8"/>
<circle cx="1093" cy="2417.3" r="8" fill="#fff" stroke="#ff0000" stroke-width="8"/>
<circle cx="1151.6" cy="2410.6" r="8" fill="#fff" stroke="#ff0000" stroke-width="8"/>
<circle cx="1210.2" cy="2379.1" r="8" fill="#fff" stroke="#ff0000" stroke-width="8"/>
<circle cx="1268.9" cy="2267.8" r="8" fill="#fff" stroke="#ff0000" stroke-width="8"/>
<circle cx="1327.5" cy="2207.2" r="8" fill="#fff" stroke="#ff0000" stroke-width="8"/>
<circle cx="1386.1" cy="2072.4" r="8" fill="#fff" stroke="#ff0000" stroke-width="8"/>
<circle cx="1444.8" cy="1633.1" r="8" fill="#fff" stroke="#ff0000" stroke-width="8"/>
<circle cx="1503.4" cy="1567.5" r="8" fill="#fff" stroke="#ff0000" stroke-width="8"/>
<circle cx="1562" cy="1554.3" r="8" fill="#fff" stroke="#ff0000" stroke-width="8"/>
<circle cx="1620.6" cy="1554.3" r="8" fill="#fff" stroke="#ff0000" stroke-width="8"/>
<circle cx="1679.2" cy="1549.2" r="8" fill="#fff" stroke="#ff0000" stroke-width="8"/>
<circle cx="1737.9" cy="1548" r="8" fill="#fff" stroke="#ff0000" stroke-width="8"/>
<circle cx="1796.5" cy="1544.3" r="8" fill="#fff" stroke="#ff0000" stroke-width="8"/>
<circle cx="1855.1" cy="1543.1" r="8" fill="#fff" stroke="#ff0000" stroke-width="8"/>
<circle cx="1913.8" cy="1539.4" r="8" fill="#fff" stroke="#ff0000" stroke-width="8"/>
<circle cx="1972.4" cy="1537" r="8" fill="#fff" stroke="#ff0000" stroke-width="8"/>
<circle cx="2031" cy="1537" r="8" fill="#fff" stroke="#ff0000" stroke-width="8"/>
<circle cx="2089.6" cy="1532.1" r="8" fill="#fff" stroke="#ff0000" stroke-width="8"/>
<circle cx="2148.2" cy="1533.3" r="8" fill="#fff" stroke="#ff0000" stroke-width="8"/>
<circle cx="2206.9" cy="1529.7" r="8" fill="#fff" stroke="#ff0000" stroke-width="8"/>
<circle cx="2265.5" cy="1524.8" r="8" fill="#fff" stroke="#ff0000" stroke-width="8"/>
<circle cx="2324.1" cy="1522.3" r="8" fill="#fff" stroke="#ff0000" stroke-width="8"/>
<polyline points="2324.1,1719 2265.5,1723.3 2148.2,1736.1 2031,1750.2 1913.8,1765.7 1796.5,1781.8 1679.2,1808.9 1562,1836.3 1444.8,1891.8 1327.5,1930.9 1210.2,1983.9 1093,2080 975.8,2129.8 858.5,2162.2 741.2,2177.3 624,2192.4 506.7,2201 389.5,2213.2 330.9,2216.8" fill="none" stroke="#ff00ff" stroke-width="6" stroke-linejoin="round"/>
<polyline points="330.9,2233.9 389.5,2227.8 506.7,2205.3 624,2193.6 741.2,2178.6 858.5,2163.5 975.8,2130.2 1093,2081.4 1210.2,2027.7 1327.5,1981.3 1444.8,1920.3 1562,1855.5 1679.2,1812.6 1796.5,1785.5 1913.8,1769.4 2031,1753.9 2148.2,1739.8 2265.5,1733.7 2324.1,1728.8" fill="none" stroke="#ff00ff" stroke-width="6" stroke-linejoin="round"/>
<path d="M2307.3,1731.6L2341,1731.6L2327,1701.3L2321.3,1701.3Z" fill="#ff00ff"/><path d="M2319.3,1723.3L2328.9,1723.3L2324.1,1713.5Z" fill="#fff"/>
<path d="M2248.7,1735.9L2282.3,1735.9L2268.3,1705.6L2262.7,1705.6Z" fill="#ff00ff"/><path d="M2260.7,1727.6L2270.3,1727.6L2265.5,1717.8Z" fill="#fff"/>
<path d="M2131.4,1748.7L2165.1,1748.7L2151.1,1718.4L2145.4,1718.4Z" fill="#ff00ff"/><path d="M2143.4,1740.4L2153.1,1740.4L2148.2,1730.6Z" fill="#fff"/>
<path d="M2014.2,1762.8L2047.8,1762.8L2033.8,1732.5L2028.2,1732.5Z" fill="#ff00ff"/><path d="M2026.2,1754.5L2035.8,1754.5L2031,1744.7Z" fill="#fff"/>
<path d="M1896.9,1778.3L1930.6,1778.3L1916.6,1748L1910.9,1748Z" fill="#ff00ff"/><path d="M1909,1770L1918.5,1770L1913.8,1760.2Z" fill="#fff"/>
<path d="M1779.7,1794.4L1813.3,1794.4L1799.3,1764.1L1793.7,1764.1Z" fill="#ff00ff"/><path d="M1791.7,1786.1L1801.3,1786.1L1796.5,1776.3Z" fill="#fff"/>
<path d="M1662.4,1821.5L1696.1,1821.5L1682.1,1791.2L1676.4,1791.2Z" fill="#ff00ff"/><path d="M1674.5,1813.2L1684,1813.2L1679.2,1803.4Z" fill="#fff"/>
<path d="M1545.2,1848.9L1578.8,1848.9L1564.8,1818.6L1559.2,1818.6Z" fill="#ff00ff"/><path d="M1557.2,1840.6L1566.8,1840.6L1562,1830.8Z" fill="#fff"/>
<path d="M1427.9,1904.4L1461.6,1904.4L1447.6,1874.1L1441.9,1874.1Z" fill="#ff00ff"/><path d="M1440,1896.1L1449.5,1896.1L1444.8,1886.3Z" fill="#fff"/>
<path d="M1310.7,1943.5L1344.3,1943.5L1330.3,1913.2L1324.7,1913.2Z" fill="#ff00ff"/><path d="M1322.7,1935.2L1332.3,1935.2L1327.5,1925.4Z" fill="#fff"/>
<path d="M1193.4,1996.5L1227.1,1996.5L1213.1,1966.2L1207.4,1966.2Z" fill="#ff00ff"/><path d="M1205.5,1988.2L1215,1988.2L1210.2,1978.4Z" fill="#fff"/>
<path d="M1076.2,2092.6L1109.8,2092.6L1095.8,2062.3L1090.2,2062.3Z" fill="#ff00ff"/><path d="M1088.2,2084.3L1097.8,2084.3L1093,2074.5Z" fill="#fff"/>
<path d="M958.9,2142.4L992.6,2142.4L978.6,2112.1L972.9,2112.1Z" fill="#ff00ff"/><path d="M971,2134.1L980.5,2134.1L975.8,2124.3Z" fill="#fff"/>
<path d="M841.6,2174.8L875.4,2174.8L861.4,2144.5L855.6,2144.5Z" fill="#ff00ff"/><path d="M853.7,2166.5L863.3,2166.5L858.5,2156.7Z" fill="#fff"/>
<path d="M724.4,2189.9L758.1,2189.9L744.1,2159.6L738.4,2159.6Z" fill="#ff00ff"/><path d="M736.5,2181.6L746,2181.6L741.2,2171.8Z" fill="#fff"/>
<path d="M607.1,2205L640.8,2205L626.8,2174.7L621.1,2174.7Z" fill="#ff00ff"/><path d="M619.2,2196.7L628.8,2196.7L624,2186.9Z" fill="#fff"/>
<path d="M489.9,2213.6L523.6,2213.6L509.6,2183.3L503.9,2183.3Z" fill="#ff00ff"/><path d="M501.9,2205.3L511.5,2205.3L506.7,2195.5Z" fill="#fff"/>
<path d="M372.6,2225.8L406.3,2225.8L392.3,2195.5L386.6,2195.5Z" fill="#ff00ff"/><path d="M384.7,2217.5L394.3,2217.5L389.5,2207.7Z" fill="#fff"/>
<path d="M314,2229.4L347.7,2229.4L333.7,2199.1L328,2199.1Z" fill="#ff00ff"/><path d="M326.1,2221.1L335.7,2221.1L330.9,2211.3Z" fill="#fff"/>
<path d="M314,2246.5L347.7,2246.5L333.7,2216.2L328,2216.2Z" fill="#ff00ff"/><path d="M326.1,2238.2L335.7,2238.2L330.9,2228.4Z" fill="#fff"/>
<path d="M372.6,2240.4L406.3,2240.4L392.3,2210.1L386.6,2210.1Z" fill="#ff00ff"/><path d="M384.7,2232.1L394.3,2232.1L389.5,2222.3Z" fill="#fff"/>
<path d="M489.9,2217.9L523.6,2217.9L509.6,2187.6L503.9,2187.6Z" fill="#ff00ff"/><path d="M501.9,2209.6L511.5,2209.6L506.7,2199.8Z" fill="#fff"/>
<path d="M607.1,2206.2L640.8,2206.2L626.8,2175.9L621.1,2175.9Z" fill="#ff00ff"/><path d="M619.2,2197.9L628.8,2197.9L624,2188.1Z" fill="#fff"/>
<path d="M724.4,2191.2L758.1,2191.2L744.1,2160.9L738.4,2160.9Z" fill="#ff00ff"/><path d="M736.5,2182.9L746,2182.9L741.2,2173.1Z" fill="#fff"/>
<path d="M841.6,2176.1L875.4,2176.1L861.4,2145.8L855.6,2145.8Z" fill="#ff00ff"/><path d="M853.7,2167.8L863.3,2167.8L858.5,2158Z" fill="#fff"/>
<path d="M958.9,2142.8L992.6,2142.8L978.6,2112.5L972.9,2112.5Z" fill="#ff00ff"/><path d="M971,2134.5L980.5,2134.5L975.8,2124.7Z" fill="#fff"/>
<path d="M1076.2,2094L1109.8,2094L1095.8,2063.7L1090.2,2063.7Z" fill="#ff00ff"/><path d="M1088.2,2085.7L1097.8,2085.7L1093,2075.9Z" fill="#fff"/>
<path d="M1193.4,2040.3L1227.1,2040.3L1213.1,2010L1207.4,2010Z" fill="#ff00ff"/><path d="M1205.5,2032L1215,2032L1210.2,2022.2Z" fill="#fff"/>
<path d="M1310.7,1993.9L1344.3,1993.9L1330.3,1963.6L1324.7,1963.6Z" fill="#ff00ff"/><path d="M1322.7,1985.6L1332.3,1985.6L1327.5,1975.8Z" fill="#fff"/>
<path d="M1427.9,1932.9L1461.6,1932.9L1447.6,1902.6L1441.9,1902.6Z" fill="#ff00ff"/><path d="M1440,1924.6L1449.5,1924.6L1444.8,1914.8Z" fill="#fff"/>
<path d="M1545.2,1868.1L1578.8,1868.1L1564.8,1837.8L1559.2,1837.8Z" fill="#ff00ff"/><path d="M1557.2,1859.8L1566.8,1859.8L1562,1850Z" fill="#fff"/>
<path d="M1662.4,1825.2L1696.1,1825.2L1682.1,1794.9L1676.4,1794.9Z" fill="#ff00ff"/><path d="M1674.5,1816.9L1684,1816.9L1679.2,1807.1Z" fill="#fff"/>
<path d="M1779.7,1798.1L1813.3,1798.1L1799.3,1767.8L1793.7,1767.8Z" fill="#ff00ff"/><path d="M1791.7,1789.8L1801.3,1789.8L1796.5,1780Z" fill="#fff"/>
<path d="M1896.9,1782L1930.6,1782L1916.6,1751.7L1910.9,1751.7Z" fill="#ff00ff"/><path d="M1909,1773.7L1918.5,1773.7L1913.8,1763.9Z" fill="#fff"/>
<path d="M2014.2,1766.5L2047.8,1766.5L2033.8,1736.2L2028.2,1736.2Z" fill="#ff00ff"/><path d="M2026.2,1758.2L2035.8,1758.2L2031,1748.4Z" fill="#fff"/>
<path d="M2131.4,1752.4L2165.1,1752.4L2151.1,1722.1L2145.4,1722.1Z" fill="#ff00ff"/><path d="M2143.4,1744.1L2153.1,1744.1L2148.2,1734.3Z" fill="#fff"/>
<path d="M2248.7,1746.3L2282.3,1746.3L2268.3,1716L2262.7,1716Z" fill="#ff00ff"/><path d="M2260.7,1738L2270.3,1738L2265.5,1728.2Z" fill="#fff"/>
<path d="M2307.3,1741.4L2341,1741.4L2327,1711.1L2321.3,1711.1Z" fill="#ff00ff"/><path d="M2319.3,1733.1L2328.9,1733.1L2324.1,1723.3Z" fill="#fff"/>
<polyline points="2324.1,1839.6 2265.5,1842.5 2206.9,1851.3 2148.2,1854.4 2089.6,1855.4 2031,1859.6 1972.4,1864.8 1913.8,1866.8 1855.1,1872 1796.5,1880.3 1737.9,1882.4 1679.2,1889.1 1620.6,1897.9 1562,1910 1503.4,1917.6 1444.8,1935.9 1386.1,1946.8 1327.5,1956 1268.9,1957.1 1210.2,1998.5 1151.6,2018.2 1093,2029 1034.4,2036.4 975.8,2039.9 917.1,2047.2 858.5,2055 799.9,2061.5 741.2,2064.4 682.6,2066.5 624,2073.9 565.4,2075.3 506.7,2079.6 448.1,2081.7 389.5,2083.8 330.9,2086" fill="none" stroke="#009000" stroke-width="6" stroke-linejoin="round"/>
<polyline points="330.9,2089.1 389.5,2086.9 448.1,2084.8 506.7,2082.6 565.4,2078.3 624,2077 682.6,2069.5 741.2,2067.5 799.9,2064.5 858.5,2058.1 917.1,2050.3 975.8,2043 1034.4,2039.4 1093,2032.1 1151.6,2021.2 1210.2,1998.5 1268.9,1984.8 1327.5,1975.6 1386.1,1961.7 1444.8,1936.3 1503.4,1920.7 1562,1913 1620.6,1900.9 1679.2,1892.1 1737.9,1885.4 1796.5,1883.4 1855.1,1875.1 1913.8,1869.8 1972.4,1867.9 2031,1862.6 2089.6,1858.5 2148.2,1857.5 2206.9,1854.3 2265.5,1845.5 2324.1,1842.6" fill="none" stroke="#009000" stroke-width="6" stroke-linejoin="round"/>
<path d="M2320.3,1822.3L2328,1822.3L2341.4,1835.7L2341.4,1843.4L2328,1856.8L2320.3,1856.8L2306.9,1843.4L2306.9,1835.7Z" fill="#009000"/><path d="M2324.1,1832.4L2331.7,1839.6L2324.1,1846.8L2316.5,1839.6Z" fill="#fff"/>
<path d="M2261.7,1825.2L2269.3,1825.2L2282.8,1838.6L2282.8,1846.3L2269.3,1859.7L2261.7,1859.7L2248.2,1846.3L2248.2,1838.6Z" fill="#009000"/><path d="M2265.5,1835.3L2273.1,1842.5L2265.5,1849.7L2257.9,1842.5Z" fill="#fff"/>
<path d="M2203,1834L2210.7,1834L2224.1,1847.4L2224.1,1855.1L2210.7,1868.5L2203,1868.5L2189.6,1855.1L2189.6,1847.4Z" fill="#009000"/><path d="M2206.9,1844.1L2214.5,1851.3L2206.9,1858.5L2199.3,1851.3Z" fill="#fff"/>
<path d="M2144.4,1837.2L2152.1,1837.2L2165.5,1850.6L2165.5,1858.3L2152.1,1871.7L2144.4,1871.7L2131,1858.3L2131,1850.6Z" fill="#009000"/><path d="M2148.2,1847.2L2155.8,1854.4L2148.2,1861.6L2140.7,1854.4Z" fill="#fff"/>
<path d="M2085.8,1838.2L2093.5,1838.2L2106.9,1851.6L2106.9,1859.3L2093.5,1872.7L2085.8,1872.7L2072.4,1859.3L2072.4,1851.6Z" fill="#009000"/><path d="M2089.6,1848.2L2097.2,1855.4L2089.6,1862.6L2082,1855.4Z" fill="#fff"/>
<path d="M2027.2,1842.3L2034.8,1842.3L2048.2,1855.7L2048.2,1863.4L2034.8,1876.8L2027.2,1876.8L2013.8,1863.4L2013.8,1855.7Z" fill="#009000"/><path d="M2031,1852.4L2038.6,1859.6L2031,1866.8L2023.4,1859.6Z" fill="#fff"/>
<path d="M1968.5,1847.6L1976.2,1847.6L1989.6,1861L1989.6,1868.7L1976.2,1882.1L1968.5,1882.1L1955.1,1868.7L1955.1,1861Z" fill="#009000"/><path d="M1972.4,1857.6L1980,1864.8L1972.4,1872L1964.8,1864.8Z" fill="#fff"/>
<path d="M1909.9,1849.5L1917.6,1849.5L1931,1862.9L1931,1870.6L1917.6,1884L1909.9,1884L1896.5,1870.6L1896.5,1862.9Z" fill="#009000"/><path d="M1913.8,1859.6L1921.3,1866.8L1913.8,1874L1906.2,1866.8Z" fill="#fff"/>
<path d="M1851.3,1854.8L1859,1854.8L1872.4,1868.2L1872.4,1875.9L1859,1889.3L1851.3,1889.3L1837.9,1875.9L1837.9,1868.2Z" fill="#009000"/><path d="M1855.1,1864.8L1862.7,1872L1855.1,1879.2L1847.5,1872Z" fill="#fff"/>
<path d="M1792.7,1863.1L1800.3,1863.1L1813.8,1876.5L1813.8,1884.2L1800.3,1897.6L1792.7,1897.6L1779.2,1884.2L1779.2,1876.5Z" fill="#009000"/><path d="M1796.5,1873.1L1804.1,1880.3L1796.5,1887.5L1788.9,1880.3Z" fill="#fff"/>
<path d="M1734,1865.1L1741.7,1865.1L1755.1,1878.5L1755.1,1886.2L1741.7,1899.6L1734,1899.6L1720.6,1886.2L1720.6,1878.5Z" fill="#009000"/><path d="M1737.9,1875.2L1745.5,1882.4L1737.9,1889.6L1730.3,1882.4Z" fill="#fff"/>
<path d="M1675.4,1871.8L1683.1,1871.8L1696.5,1885.2L1696.5,1892.9L1683.1,1906.3L1675.4,1906.3L1662,1892.9L1662,1885.2Z" fill="#009000"/><path d="M1679.2,1881.9L1686.8,1889.1L1679.2,1896.3L1671.7,1889.1Z" fill="#fff"/>
<path d="M1616.8,1880.6L1624.5,1880.6L1637.9,1894L1637.9,1901.7L1624.5,1915.1L1616.8,1915.1L1603.4,1901.7L1603.4,1894Z" fill="#009000"/><path d="M1620.6,1890.7L1628.2,1897.9L1620.6,1905.1L1613,1897.9Z" fill="#fff"/>
<path d="M1558.2,1892.7L1565.8,1892.7L1579.2,1906.1L1579.2,1913.8L1565.8,1927.2L1558.2,1927.2L1544.8,1913.8L1544.8,1906.1Z" fill="#009000"/><path d="M1562,1902.8L1569.6,1910L1562,1917.2L1554.4,1910Z" fill="#fff"/>
<path d="M1499.5,1900.4L1507.2,1900.4L1520.6,1913.8L1520.6,1921.5L1507.2,1934.9L1499.5,1934.9L1486.1,1921.5L1486.1,1913.8Z" fill="#009000"/><path d="M1503.4,1910.4L1511,1917.6L1503.4,1924.8L1495.8,1917.6Z" fill="#fff"/>
<path d="M1440.9,1918.7L1448.6,1918.7L1462,1932.1L1462,1939.8L1448.6,1953.2L1440.9,1953.2L1427.5,1939.8L1427.5,1932.1Z" fill="#009000"/><path d="M1444.8,1928.7L1452.3,1935.9L1444.8,1943.1L1437.2,1935.9Z" fill="#fff"/>
<path d="M1382.3,1929.6L1390,1929.6L1403.4,1943L1403.4,1950.7L1390,1964.1L1382.3,1964.1L1368.9,1950.7L1368.9,1943Z" fill="#009000"/><path d="M1386.1,1939.6L1393.7,1946.8L1386.1,1954L1378.5,1946.8Z" fill="#fff"/>
<path d="M1323.7,1938.7L1331.3,1938.7L1344.8,1952.1L1344.8,1959.8L1331.3,1973.2L1323.7,1973.2L1310.2,1959.8L1310.2,1952.1Z" fill="#009000"/><path d="M1327.5,1948.8L1335.1,1956L1327.5,1963.2L1319.9,1956Z" fill="#fff"/>
<path d="M1265,1939.8L1272.7,1939.8L1286.1,1953.2L1286.1,1960.9L1272.7,1974.3L1265,1974.3L1251.6,1960.9L1251.6,1953.2Z" fill="#009000"/><path d="M1268.9,1949.9L1276.5,1957.1L1268.9,1964.3L1261.3,1957.1Z" fill="#fff"/>
<path d="M1206.4,1981.3L1214.1,1981.3L1227.5,1994.7L1227.5,2002.4L1214.1,2015.8L1206.4,2015.8L1193,2002.4L1193,1994.7Z" fill="#009000"/><path d="M1210.2,1991.3L1217.8,1998.5L1210.2,2005.7L1202.7,1998.5Z" fill="#fff"/>
<path d="M1147.8,2000.9L1155.5,2000.9L1168.9,2014.3L1168.9,2022L1155.5,2035.4L1147.8,2035.4L1134.4,2022L1134.4,2014.3Z" fill="#009000"/><path d="M1151.6,2011L1159.2,2018.2L1151.6,2025.4L1144,2018.2Z" fill="#fff"/>
<path d="M1089.2,2011.8L1096.8,2011.8L1110.2,2025.2L1110.2,2032.9L1096.8,2046.3L1089.2,2046.3L1075.8,2032.9L1075.8,2025.2Z" fill="#009000"/><path d="M1093,2021.8L1100.6,2029L1093,2036.2L1085.4,2029Z" fill="#fff"/>
<path d="M1030.5,2019.1L1038.2,2019.1L1051.6,2032.5L1051.6,2040.2L1038.2,2053.6L1030.5,2053.6L1017.1,2040.2L1017.1,2032.5Z" fill="#009000"/><path d="M1034.4,2029.2L1042,2036.4L1034.4,2043.6L1026.8,2036.4Z" fill="#fff"/>
<path d="M971.9,2022.7L979.6,2022.7L993,2036.1L993,2043.8L979.6,2057.2L971.9,2057.2L958.5,2043.8L958.5,2036.1Z" fill="#009000"/><path d="M975.8,2032.7L983.4,2039.9L975.8,2047.1L968.1,2039.9Z" fill="#fff"/>
<path d="M913.3,2030L921,2030L934.4,2043.4L934.4,2051.1L921,2064.5L913.3,2064.5L899.9,2051.1L899.9,2043.4Z" fill="#009000"/><path d="M917.1,2040L924.7,2047.2L917.1,2054.4L909.5,2047.2Z" fill="#fff"/>
<path d="M854.6,2037.8L862.4,2037.8L875.8,2051.2L875.8,2058.9L862.4,2072.3L854.6,2072.3L841.2,2058.9L841.2,2051.2Z" fill="#009000"/><path d="M858.5,2047.8L866.1,2055L858.5,2062.2L850.9,2055Z" fill="#fff"/>
<path d="M796,2044.2L803.7,2044.2L817.1,2057.6L817.1,2065.3L803.7,2078.7L796,2078.7L782.6,2065.3L782.6,2057.6Z" fill="#009000"/><path d="M799.9,2054.3L807.5,2061.5L799.9,2068.7L792.3,2061.5Z" fill="#fff"/>
<path d="M737.4,2047.2L745.1,2047.2L758.5,2060.6L758.5,2068.3L745.1,2081.7L737.4,2081.7L724,2068.3L724,2060.6Z" fill="#009000"/><path d="M741.2,2057.2L748.9,2064.4L741.2,2071.6L733.6,2064.4Z" fill="#fff"/>
<path d="M678.8,2049.2L686.5,2049.2L699.9,2062.6L699.9,2070.3L686.5,2083.7L678.8,2083.7L665.4,2070.3L665.4,2062.6Z" fill="#009000"/><path d="M682.6,2059.3L690.2,2066.5L682.6,2073.7L675,2066.5Z" fill="#fff"/>
<path d="M620.1,2056.7L627.8,2056.7L641.2,2070.1L641.2,2077.8L627.8,2091.2L620.1,2091.2L606.7,2077.8L606.7,2070.1Z" fill="#009000"/><path d="M624,2066.7L631.6,2073.9L624,2081.1L616.4,2073.9Z" fill="#fff"/>
<path d="M561.5,2058L569.2,2058L582.6,2071.4L582.6,2079.1L569.2,2092.5L561.5,2092.5L548.1,2079.1L548.1,2071.4Z" fill="#009000"/><path d="M565.4,2068.1L573,2075.3L565.4,2082.5L557.8,2075.3Z" fill="#fff"/>
<path d="M502.9,2062.3L510.6,2062.3L524,2075.7L524,2083.4L510.6,2096.8L502.9,2096.8L489.5,2083.4L489.5,2075.7Z" fill="#009000"/><path d="M506.7,2072.4L514.3,2079.6L506.7,2086.8L499.1,2079.6Z" fill="#fff"/>
<path d="M444.3,2064.5L452,2064.5L465.4,2077.9L465.4,2085.6L452,2099L444.3,2099L430.9,2085.6L430.9,2077.9Z" fill="#009000"/><path d="M448.1,2074.5L455.7,2081.7L448.1,2088.9L440.5,2081.7Z" fill="#fff"/>
<path d="M385.6,2066.6L393.3,2066.6L406.7,2080L406.7,2087.7L393.3,2101.1L385.6,2101.1L372.2,2087.7L372.2,2080Z" fill="#009000"/><path d="M389.5,2076.6L397.1,2083.8L389.5,2091L381.9,2083.8Z" fill="#fff"/>
<path d="M327,2068.8L334.7,2068.8L348.1,2082.2L348.1,2089.9L334.7,2103.3L327,2103.3L313.6,2089.9L313.6,2082.2Z" fill="#009000"/><path d="M330.9,2078.8L338.5,2086L330.9,2093.2L323.3,2086Z" fill="#fff"/>
<path d="M327,2071.8L334.7,2071.8L348.1,2085.2L348.1,2092.9L334.7,2106.3L327,2106.3L313.6,2092.9L313.6,2085.2Z" fill="#009000"/><path d="M330.9,2081.9L338.5,2089.1L330.9,2096.3L323.3,2089.1Z" fill="#fff"/>
<path d="M385.6,2069.6L393.3,2069.6L406.7,2083L406.7,2090.7L393.3,2104.1L385.6,2104.1L372.2,2090.7L372.2,2083Z" fill="#009000"/><path d="M389.5,2079.7L397.1,2086.9L389.5,2094.1L381.9,2086.9Z" fill="#fff"/>
<path d="M444.3,2067.6L452,2067.6L465.4,2081L465.4,2088.7L452,2102.1L444.3,2102.1L430.9,2088.7L430.9,2081Z" fill="#009000"/><path d="M448.1,2077.6L455.7,2084.8L448.1,2092L440.5,2084.8Z" fill="#fff"/>
<path d="M502.9,2065.4L510.6,2065.4L524,2078.8L524,2086.5L510.6,2099.9L502.9,2099.9L489.5,2086.5L489.5,2078.8Z" fill="#009000"/><path d="M506.7,2075.4L514.3,2082.6L506.7,2089.8L499.1,2082.6Z" fill="#fff"/>
<path d="M561.5,2061.1L569.2,2061.1L582.6,2074.5L582.6,2082.2L569.2,2095.6L561.5,2095.6L548.1,2082.2L548.1,2074.5Z" fill="#009000"/><path d="M565.4,2071.1L573,2078.3L565.4,2085.5L557.8,2078.3Z" fill="#fff"/>
<path d="M620.1,2059.7L627.8,2059.7L641.2,2073.1L641.2,2080.8L627.8,2094.2L620.1,2094.2L606.7,2080.8L606.7,2073.1Z" fill="#009000"/><path d="M624,2069.8L631.6,2077L624,2084.2L616.4,2077Z" fill="#fff"/>
<path d="M678.8,2052.3L686.5,2052.3L699.9,2065.7L699.9,2073.4L686.5,2086.8L678.8,2086.8L665.4,2073.4L665.4,2065.7Z" fill="#009000"/><path d="M682.6,2062.3L690.2,2069.5L682.6,2076.7L675,2069.5Z" fill="#fff"/>
<path d="M737.4,2050.2L745.1,2050.2L758.5,2063.6L758.5,2071.3L745.1,2084.7L737.4,2084.7L724,2071.3L724,2063.6Z" fill="#009000"/><path d="M741.2,2060.3L748.9,2067.5L741.2,2074.7L733.6,2067.5Z" fill="#fff"/>
<path d="M796,2047.3L803.7,2047.3L817.1,2060.7L817.1,2068.4L803.7,2081.8L796,2081.8L782.6,2068.4L782.6,2060.7Z" fill="#009000"/><path d="M799.9,2057.3L807.5,2064.5L799.9,2071.7L792.3,2064.5Z" fill="#fff"/>
<path d="M854.6,2040.8L862.4,2040.8L875.8,2054.2L875.8,2061.9L862.4,2075.3L854.6,2075.3L841.2,2061.9L841.2,2054.2Z" fill="#009000"/><path d="M858.5,2050.9L866.1,2058.1L858.5,2065.3L850.9,2058.1Z" fill="#fff"/>
<path d="M913.3,2033L921,2033L934.4,2046.4L934.4,2054.1L921,2067.5L913.3,2067.5L899.9,2054.1L899.9,2046.4Z" fill="#009000"/><path d="M917.1,2043.1L924.7,2050.3L917.1,2057.5L909.5,2050.3Z" fill="#fff"/>
<path d="M971.9,2025.7L979.6,2025.7L993,2039.1L993,2046.8L979.6,2060.2L971.9,2060.2L958.5,2046.8L958.5,2039.1Z" fill="#009000"/><path d="M975.8,2035.8L983.4,2043L975.8,2050.2L968.1,2043Z" fill="#fff"/>
<path d="M1030.5,2022.2L1038.2,2022.2L1051.6,2035.6L1051.6,2043.3L1038.2,2056.7L1030.5,2056.7L1017.1,2043.3L1017.1,2035.6Z" fill="#009000"/><path d="M1034.4,2032.2L1042,2039.4L1034.4,2046.6L1026.8,2039.4Z" fill="#fff"/>
<path d="M1089.2,2014.8L1096.8,2014.8L1110.2,2028.2L1110.2,2035.9L1096.8,2049.3L1089.2,2049.3L1075.8,2035.9L1075.8,2028.2Z" fill="#009000"/><path d="M1093,2024.9L1100.6,2032.1L1093,2039.3L1085.4,2032.1Z" fill="#fff"/>
<path d="M1147.8,2004L1155.5,2004L1168.9,2017.4L1168.9,2025.1L1155.5,2038.5L1147.8,2038.5L1134.4,2025.1L1134.4,2017.4Z" fill="#009000"/><path d="M1151.6,2014L1159.2,2021.2L1151.6,2028.4L1144,2021.2Z" fill="#fff"/>
<path d="M1206.4,1981.3L1214.1,1981.3L1227.5,1994.7L1227.5,2002.4L1214.1,2015.8L1206.4,2015.8L1193,2002.4L1193,1994.7Z" fill="#009000"/><path d="M1210.2,1991.3L1217.8,1998.5L1210.2,2005.7L1202.7,1998.5Z" fill="#fff"/>
<path d="M1265,1967.5L1272.7,1967.5L1286.1,1980.9L1286.1,1988.6L1272.7,2002L1265,2002L1251.6,1988.6L1251.6,1980.9Z" fill="#009000"/><path d="M1268.9,1977.6L1276.5,1984.8L1268.9,1992L1261.3,1984.8Z" fill="#fff"/>
<path d="M1323.7,1958.4L1331.3,1958.4L1344.8,1971.8L1344.8,1979.5L1331.3,1992.9L1323.7,1992.9L1310.2,1979.5L1310.2,1971.8Z" fill="#009000"/><path d="M1327.5,1968.4L1335.1,1975.6L1327.5,1982.8L1319.9,1975.6Z" fill="#fff"/>
<path d="M1382.3,1944.4L1390,1944.4L1403.4,1957.8L1403.4,1965.5L1390,1978.9L1382.3,1978.9L1368.9,1965.5L1368.9,1957.8Z" fill="#009000"/><path d="M1386.1,1954.5L1393.7,1961.7L1386.1,1968.9L1378.5,1961.7Z" fill="#fff"/>
<path d="M1440.9,1919.1L1448.6,1919.1L1462,1932.5L1462,1940.2L1448.6,1953.6L1440.9,1953.6L1427.5,1940.2L1427.5,1932.5Z" fill="#009000"/><path d="M1444.8,1929.1L1452.3,1936.3L1444.8,1943.5L1437.2,1936.3Z" fill="#fff"/>
<path d="M1499.5,1903.4L1507.2,1903.4L1520.6,1916.8L1520.6,1924.5L1507.2,1937.9L1499.5,1937.9L1486.1,1924.5L1486.1,1916.8Z" fill="#009000"/><path d="M1503.4,1913.5L1511,1920.7L1503.4,1927.9L1495.8,1920.7Z" fill="#fff"/>
<path d="M1558.2,1895.8L1565.8,1895.8L1579.2,1909.2L1579.2,1916.9L1565.8,1930.3L1558.2,1930.3L1544.8,1916.9L1544.8,1909.2Z" fill="#009000"/><path d="M1562,1905.8L1569.6,1913L1562,1920.2L1554.4,1913Z" fill="#fff"/>
<path d="M1616.8,1883.7L1624.5,1883.7L1637.9,1897.1L1637.9,1904.8L1624.5,1918.2L1616.8,1918.2L1603.4,1904.8L1603.4,1897.1Z" fill="#009000"/><path d="M1620.6,1893.7L1628.2,1900.9L1620.6,1908.1L1613,1900.9Z" fill="#fff"/>
<path d="M1675.4,1874.9L1683.1,1874.9L1696.5,1888.3L1696.5,1896L1683.1,1909.4L1675.4,1909.4L1662,1896L1662,1888.3Z" fill="#009000"/><path d="M1679.2,1884.9L1686.8,1892.1L1679.2,1899.3L1671.7,1892.1Z" fill="#fff"/>
<path d="M1734,1868.2L1741.7,1868.2L1755.1,1881.6L1755.1,1889.3L1741.7,1902.7L1734,1902.7L1720.6,1889.3L1720.6,1881.6Z" fill="#009000"/><path d="M1737.9,1878.2L1745.5,1885.4L1737.9,1892.6L1730.3,1885.4Z" fill="#fff"/>
<path d="M1792.7,1866.1L1800.3,1866.1L1813.8,1879.5L1813.8,1887.2L1800.3,1900.6L1792.7,1900.6L1779.2,1887.2L1779.2,1879.5Z" fill="#009000"/><path d="M1796.5,1876.2L1804.1,1883.4L1796.5,1890.6L1788.9,1883.4Z" fill="#fff"/>
<path d="M1851.3,1857.8L1859,1857.8L1872.4,1871.2L1872.4,1878.9L1859,1892.3L1851.3,1892.3L1837.9,1878.9L1837.9,1871.2Z" fill="#009000"/><path d="M1855.1,1867.9L1862.7,1875.1L1855.1,1882.3L1847.5,1875.1Z" fill="#fff"/>
<path d="M1909.9,1852.6L1917.6,1852.6L1931,1866L1931,1873.7L1917.6,1887.1L1909.9,1887.1L1896.5,1873.7L1896.5,1866Z" fill="#009000"/><path d="M1913.8,1862.6L1921.3,1869.8L1913.8,1877L1906.2,1869.8Z" fill="#fff"/>
<path d="M1968.5,1850.6L1976.2,1850.6L1989.6,1864L1989.6,1871.7L1976.2,1885.1L1968.5,1885.1L1955.1,1871.7L1955.1,1864Z" fill="#009000"/><path d="M1972.4,1860.7L1980,1867.9L1972.4,1875.1L1964.8,1867.9Z" fill="#fff"/>
<path d="M2027.2,1845.4L2034.8,1845.4L2048.2,1858.8L2048.2,1866.5L2034.8,1879.9L2027.2,1879.9L2013.8,1866.5L2013.8,1858.8Z" fill="#009000"/><path d="M2031,1855.4L2038.6,1862.6L2031,1869.8L2023.4,1862.6Z" fill="#fff"/>
<path d="M2085.8,1841.2L2093.5,1841.2L2106.9,1854.6L2106.9,1862.3L2093.5,1875.7L2085.8,1875.7L2072.4,1862.3L2072.4,1854.6Z" fill="#009000"/><path d="M2089.6,1851.3L2097.2,1858.5L2089.6,1865.7L2082,1858.5Z" fill="#fff"/>
<path d="M2144.4,1840.2L2152.1,1840.2L2165.5,1853.6L2165.5,1861.3L2152.1,1874.7L2144.4,1874.7L2131,1861.3L2131,1853.6Z" fill="#009000"/><path d="M2148.2,1850.3L2155.8,1857.5L2148.2,1864.7L2140.7,1857.5Z" fill="#fff"/>
<path d="M2203,1837.1L2210.7,1837.1L2224.1,1850.5L2224.1,1858.2L2210.7,1871.6L2203,1871.6L2189.6,1858.2L2189.6,1850.5Z" fill="#009000"/><path d="M2206.9,1847.1L2214.5,1854.3L2206.9,1861.5L2199.3,1854.3Z" fill="#fff"/>
<path d="M2261.7,1828.3L2269.3,1828.3L2282.8,1841.7L2282.8,1849.4L2269.3,1862.8L2261.7,1862.8L2248.2,1849.4L2248.2,1841.7Z" fill="#009000"/><path d="M2265.5,1838.3L2273.1,1845.5L2265.5,1852.7L2257.9,1845.5Z" fill="#fff"/>
<path d="M2320.3,1825.4L2328,1825.4L2341.4,1838.8L2341.4,1846.5L2328,1859.9L2320.3,1859.9L2306.9,1846.5L2306.9,1838.8Z" fill="#009000"/><path d="M2324.1,1835.4L2331.7,1842.6L2324.1,1849.8L2316.5,1842.6Z" fill="#fff"/>
</g>
<line x1="661.5" y1="309.3" x2="843.5" y2="309.3" stroke="#0000ff" stroke-width="6" stroke-linecap="round"/>
<circle cx="752" cy="309.3" r="10" fill="#fff" stroke="#0000ff" stroke-width="8"/>
<text x="861" y="336" style="font-size:62.5px;letter-spacing:0px">4.2 nm</text>
<line x1="661.5" y1="411" x2="843.5" y2="411" stroke="#ff0000" stroke-width="6" stroke-linecap="round"/>
<circle cx="752" cy="411" r="8" fill="#fff" stroke="#ff0000" stroke-width="8"/>
<text x="861" y="438" style="font-size:62.5px;letter-spacing:0px">2.7 nm</text>
<line x1="661.5" y1="513" x2="843.5" y2="513" stroke="#ff00ff" stroke-width="6" stroke-linecap="round"/>
<path d="M735.1,525.6L768.9,525.6L754.9,495.3L749.1,495.3Z" fill="#ff00ff"/><path d="M747.2,517.3L756.8,517.3L752,507.5Z" fill="#fff"/>
<text x="861" y="540.3" style="font-size:62.5px;letter-spacing:0px">1.2 nm</text>
<line x1="661.5" y1="615.5" x2="843.5" y2="615.5" stroke="#00875a" stroke-width="6" stroke-linecap="round"/>
<path d="M747.8,599.9L756.2,599.9L767.9,611.3L767.9,619.7L756.2,631.1L747.8,631.1L736.1,619.7L736.1,611.3Z" fill="#009000"/><path d="M752,608.5L759,615.5L752,622.5L745,615.5Z" fill="#fff"/>
<text x="861" y="641.7" style="font-size:62.5px;letter-spacing:0px">0.8 nm</text>
<text x="348.9" y="203.4" text-anchor="end" style="font-size:85px;letter-spacing:1.2px">400</text>
<text x="348.9" y="447.7" text-anchor="end" style="font-size:85px;letter-spacing:1.2px">200</text>
<text x="348.9" y="691.3" text-anchor="end" style="font-size:85px;letter-spacing:1.2px">0</text>
<text x="348.9" y="935.6" text-anchor="end" style="font-size:85px;letter-spacing:1.2px">-200</text>
<text x="348.9" y="1179.3" text-anchor="end" style="font-size:85px;letter-spacing:1.2px">-400</text>
<text x="348.9" y="1497.2" text-anchor="end" style="font-size:85px;letter-spacing:1.2px">400</text>
<text x="348.9" y="1741.7" text-anchor="end" style="font-size:85px;letter-spacing:1.2px">200</text>
<text x="348.9" y="1984.5" text-anchor="end" style="font-size:85px;letter-spacing:1.2px">0</text>
<text x="348.9" y="2227.2" text-anchor="end" style="font-size:85px;letter-spacing:1.2px">-200</text>
<text x="348.9" y="2471.7" text-anchor="end" style="font-size:85px;letter-spacing:1.2px">-400</text>
<text x="448.6" y="2677.5" text-anchor="middle" style="font-size:85px;letter-spacing:1.0px">-750</text>
<text x="740.6" y="2677.5" text-anchor="middle" style="font-size:85px;letter-spacing:1.0px">-500</text>
<text x="1034.4" y="2677.5" text-anchor="middle" style="font-size:85px;letter-spacing:1.0px">-250</text>
<text x="1326.9" y="2677.5" text-anchor="middle" style="font-size:85px;letter-spacing:1.0px">0</text>
<text x="1618.9" y="2677.5" text-anchor="middle" style="font-size:85px;letter-spacing:1.0px">250</text>
<text x="1914.2" y="2677.5" text-anchor="middle" style="font-size:85px;letter-spacing:1.0px">500</text>
<text x="2205.5" y="2677.5" text-anchor="middle" style="font-size:85px;letter-spacing:1.0px">750</text>
<text x="446.9" y="193.5" style="font-size:131px;letter-spacing:4px">(a)</text>
<text x="456.1" y="1502.8" style="font-size:131px;letter-spacing:4px">(b)</text>
<text x="942" y="217.4" style="font-size:91px;letter-spacing:0px;font-weight:bold">300 K</text>
<text x="945" y="1500" style="font-size:91px;letter-spacing:0px;font-weight:bold">525 K</text>
<text x="1193" y="2831.8" style="font-size:98px;letter-spacing:1px">H(Oe)</text>
<text x="657.5" y="207.9" style="font-size:79px">t<tspan dx="0" dy="26.5" style="font-size:70px;letter-spacing:0px">NiFe</tspan></text>
<text transform="translate(136,930.3) rotate(-90)" style="font-size:99px;letter-spacing:-0.3px">M<tspan style="font-size:83px" dx="0">(</tspan>emu/cm<tspan dx="1" dy="-31" style="font-size:77px">3</tspan><tspan dy="31" style="font-size:83px">)</tspan></text>
<text transform="translate(136,2228.6) rotate(-90)" style="font-size:99px;letter-spacing:-0.35px">M<tspan style="font-size:99px" dx="0">(</tspan>emu/cm<tspan dx="-1" dy="-34.5" style="font-size:77px">3</tspan><tspan dy="34.5" style="font-size:99px">)</tspan></text></svg></body></html>
